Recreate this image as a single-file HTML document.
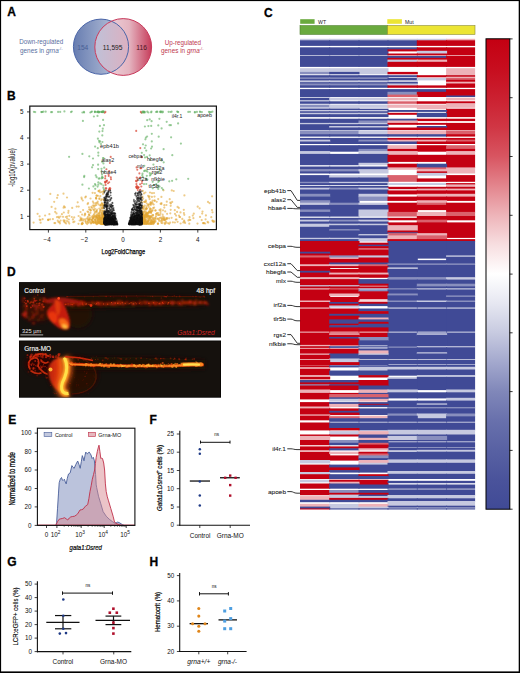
<!DOCTYPE html>
<html><head><meta charset="utf-8"><title>Figure</title>
<style>html,body{margin:0;padding:0;background:#fff;width:520px;height:673px;overflow:hidden}svg{display:block}</style>
</head><body>
<svg width="520" height="673" viewBox="0 0 520 673" font-family='"Liberation Sans", sans-serif'><defs>
<linearGradient id="gL" gradientUnits="userSpaceOnUse" x1="73" x2="129" y1="0" y2="0"><stop offset="0" stop-color="#667cb0"/><stop offset="1" stop-color="#ccd3e4"/></linearGradient>
<linearGradient id="gR" gradientUnits="userSpaceOnUse" x1="95" x2="152" y1="0" y2="0"><stop offset="0" stop-color="#f4e4ea"/><stop offset="0.6" stop-color="#e4b4c0"/><stop offset="1" stop-color="#c63a58"/></linearGradient><linearGradient id="gO" gradientUnits="userSpaceOnUse" x1="95" x2="129" y1="0" y2="0"><stop offset="0" stop-color="#bfc1d8"/><stop offset="1" stop-color="#dcb0c0"/></linearGradient>
<linearGradient id="gCB" x1="0" x2="0" y1="0" y2="1"><stop offset="0.0000" stop-color="#c40012"/><stop offset="0.0625" stop-color="#c70d1e"/><stop offset="0.1250" stop-color="#cb2030"/><stop offset="0.1875" stop-color="#d03644"/><stop offset="0.2500" stop-color="#d85561"/><stop offset="0.3125" stop-color="#e3858d"/><stop offset="0.3750" stop-color="#eeb4b9"/><stop offset="0.4375" stop-color="#f7dee0"/><stop offset="0.5000" stop-color="#ffffff"/><stop offset="0.5625" stop-color="#e6e7f1"/><stop offset="0.6250" stop-color="#c7cae0"/><stop offset="0.6875" stop-color="#a3a8cd"/><stop offset="0.7500" stop-color="#8087b9"/><stop offset="0.8125" stop-color="#6870ac"/><stop offset="0.8750" stop-color="#5861a3"/><stop offset="0.9375" stop-color="#4a539b"/><stop offset="1.0000" stop-color="#404a96"/></linearGradient>
<linearGradient id="gGl" gradientUnits="userSpaceOnUse" x1="48" x2="63" y1="0" y2="0"><stop offset="0" stop-color="#b82208"/><stop offset="0.6" stop-color="#d8320a"/><stop offset="1" stop-color="#f06a14"/></linearGradient>
<clipPath id="cL"><circle cx="101" cy="46.7" r="27.6"/></clipPath>
<filter id="bl1" filterUnits="userSpaceOnUse" x="0" y="250" width="260" height="170"><feGaussianBlur stdDeviation="1.2"/></filter>
<filter id="bl2" filterUnits="userSpaceOnUse" x="0" y="250" width="260" height="170"><feGaussianBlur stdDeviation="2.5"/></filter>
<filter id="bl05" filterUnits="userSpaceOnUse" x="0" y="250" width="260" height="170"><feGaussianBlur stdDeviation="0.6"/></filter>
<clipPath id="cF1"><rect x="19.5" y="282.5" width="201" height="54.5"/></clipPath>
<clipPath id="cF2"><rect x="19.5" y="341" width="201" height="56.5"/></clipPath>
</defs>
<rect x="0" y="0" width="520" height="673" fill="#fff"/>
<text x="7.2" y="15.9" font-size="12" fill="#000" font-weight="bold" stroke="#000" stroke-width="0.3">A</text>
<text x="7.0" y="100" font-size="12" fill="#000" font-weight="bold" stroke="#000" stroke-width="0.3">B</text>
<text x="263.9" y="16.6" font-size="12" fill="#000" font-weight="bold" stroke="#000" stroke-width="0.3">C</text>
<text x="7.0" y="276.2" font-size="12" fill="#000" font-weight="bold" stroke="#000" stroke-width="0.3">D</text>
<text x="8.2" y="423.8" font-size="12" fill="#000" font-weight="bold" stroke="#000" stroke-width="0.3">E</text>
<text x="149.6" y="423.8" font-size="12" fill="#000" font-weight="bold" stroke="#000" stroke-width="0.3">F</text>
<text x="7.3" y="565.9" font-size="12" fill="#000" font-weight="bold" stroke="#000" stroke-width="0.3">G</text>
<text x="149.6" y="566.0" font-size="12" fill="#000" font-weight="bold" stroke="#000" stroke-width="0.3">H</text>
<circle cx="101" cy="46.7" r="27.6" fill="url(#gL)"/>
<circle cx="123.2" cy="47" r="28.4" fill="url(#gR)"/>
<g clip-path="url(#cL)"><circle cx="123.2" cy="47" r="28.4" fill="url(#gO)"/></g>
<circle cx="101" cy="46.7" r="27.6" fill="none" stroke="#4a65a8" stroke-width="1"/>
<circle cx="123.2" cy="47" r="28.4" fill="none" stroke="#c8385a" stroke-width="1"/>
<text x="82.8" y="49.5" font-size="6.6" fill="#4a5f96" text-anchor="middle" >154</text>
<text x="112.6" y="49.5" font-size="6.6" fill="#222" text-anchor="middle" >11,595</text>
<text x="141.6" y="49.5" font-size="6.6" fill="#4a1420" text-anchor="middle" >116</text>
<text x="19.2" y="44.2" font-size="6.4" fill="#5a6fa0" textLength="44.1" lengthAdjust="spacingAndGlyphs" >Down-regulated</text>
<text x="20" y="52.9" font-size="6.4" fill="#5a6fa0" font-family='"Liberation Sans", sans-serif'>genes in <tspan font-style="italic">grna</tspan><tspan font-size="4" dy="-2.6">-/-</tspan></text>
<text x="164.8" y="44.8" font-size="6.4" fill="#c0394f" textLength="36.3" lengthAdjust="spacingAndGlyphs" >Up-regulated</text>
<text x="161" y="52.9" font-size="6.4" fill="#c0394f" font-family='"Liberation Sans", sans-serif'>genes in <tspan font-style="italic">grna</tspan><tspan font-size="4" dy="-2.6">-/-</tspan></text>
<g>
<rect x="300" y="38.8" width="175.1" height="470.7" fill="#fff"/>
<rect x="300" y="38.8" width="30.20" height="2.10" fill="#c6c9e0"/>
<rect x="329.2" y="38.8" width="30.30" height="2.10" fill="#c6c9e0"/>
<rect x="358.5" y="38.8" width="30.00" height="2.10" fill="#c6c9e0"/>
<rect x="387.5" y="38.8" width="30.30" height="2.10" fill="#c6c9e0"/>
<rect x="416.8" y="38.8" width="30.30" height="2.10" fill="#c6c9e0"/>
<rect x="446.1" y="38.8" width="29.00" height="2.10" fill="#edb2b8"/>
<rect x="300" y="40.3" width="30.20" height="5.60" fill="#404a96"/>
<rect x="329.2" y="40.3" width="30.30" height="5.60" fill="#404a96"/>
<rect x="358.5" y="40.3" width="30.00" height="5.60" fill="#404a96"/>
<rect x="387.5" y="40.3" width="30.30" height="5.60" fill="#404a96"/>
<rect x="416.8" y="40.3" width="30.30" height="5.60" fill="#c40012"/>
<rect x="446.1" y="40.3" width="29.00" height="5.60" fill="#c40012"/>
<rect x="300" y="47.3" width="30.20" height="8.10" fill="#404a96"/>
<rect x="329.2" y="47.3" width="30.30" height="8.10" fill="#404a96"/>
<rect x="358.5" y="47.3" width="30.00" height="8.10" fill="#404a96"/>
<rect x="387.5" y="47.3" width="30.30" height="2.60" fill="#404a96"/>
<rect x="416.8" y="47.3" width="30.30" height="4.10" fill="#c40012"/>
<rect x="446.1" y="47.3" width="29.00" height="8.10" fill="#c40012"/>
<rect x="387.5" y="49.3" width="30.30" height="2.10" fill="#c40012"/>
<rect x="416.8" y="50.8" width="30.30" height="3.30" fill="#c6c9e0"/>
<rect x="387.5" y="53.5" width="30.30" height="1.90" fill="#c40012"/>
<rect x="416.8" y="53.5" width="30.30" height="1.90" fill="#c40012"/>
<rect x="300" y="56.0" width="30.20" height="10.90" fill="#404a96"/>
<rect x="329.2" y="56.0" width="30.30" height="10.90" fill="#404a96"/>
<rect x="358.5" y="56.0" width="30.00" height="10.90" fill="#404a96"/>
<rect x="387.5" y="56.0" width="30.30" height="2.40" fill="#404a96"/>
<rect x="416.8" y="56.0" width="30.30" height="2.40" fill="#404a96"/>
<rect x="446.1" y="56.0" width="29.00" height="10.90" fill="#c40012"/>
<rect x="387.5" y="57.8" width="30.30" height="2.40" fill="#c40012"/>
<rect x="416.8" y="57.8" width="30.30" height="2.40" fill="#c40012"/>
<rect x="387.5" y="59.6" width="30.30" height="2.80" fill="#c6c9e0"/>
<rect x="416.8" y="59.6" width="30.30" height="2.80" fill="#edb2b8"/>
<rect x="387.5" y="61.8" width="30.30" height="5.10" fill="#c40012"/>
<rect x="416.8" y="61.8" width="30.30" height="5.10" fill="#c40012"/>
<rect x="300" y="68.2" width="30.20" height="4.30" fill="#c6c9e0"/>
<rect x="329.2" y="68.2" width="30.30" height="4.30" fill="#c6c9e0"/>
<rect x="358.5" y="68.2" width="30.00" height="6.10" fill="#c6c9e0"/>
<rect x="446.1" y="68.2" width="29.00" height="7.60" fill="#edb2b8"/>
<rect x="300" y="71.9" width="30.20" height="2.40" fill="#898fbe"/>
<rect x="329.2" y="71.9" width="30.30" height="2.40" fill="#404a96"/>
<rect x="387.5" y="71.9" width="30.30" height="2.40" fill="#c40012"/>
<rect x="300" y="75.2" width="30.20" height="2.80" fill="#404a96"/>
<rect x="329.2" y="75.2" width="30.30" height="2.80" fill="#404a96"/>
<rect x="358.5" y="75.2" width="30.00" height="2.80" fill="#404a96"/>
<rect x="387.5" y="75.2" width="30.30" height="2.10" fill="#404a96"/>
<rect x="416.8" y="75.2" width="30.30" height="2.10" fill="#c40012"/>
<rect x="446.1" y="75.2" width="29.00" height="2.10" fill="#c40012"/>
<rect x="446.1" y="76.7" width="29.00" height="1.90" fill="#edb2b8"/>
<rect x="300" y="77.4" width="30.20" height="2.10" fill="#898fbe"/>
<rect x="329.2" y="77.4" width="30.30" height="2.10" fill="#898fbe"/>
<rect x="358.5" y="77.4" width="30.00" height="2.10" fill="#898fbe"/>
<rect x="387.5" y="78.0" width="30.30" height="2.40" fill="#404a96"/>
<rect x="416.8" y="78.0" width="30.30" height="2.40" fill="#c6c9e0"/>
<rect x="446.1" y="78.0" width="29.00" height="2.40" fill="#da616c"/>
<rect x="300" y="78.9" width="30.20" height="2.10" fill="#404a96"/>
<rect x="329.2" y="78.9" width="30.30" height="2.10" fill="#404a96"/>
<rect x="358.5" y="78.9" width="30.00" height="2.10" fill="#404a96"/>
<rect x="446.1" y="79.8" width="29.00" height="2.50" fill="#c40012"/>
<rect x="300" y="80.4" width="30.20" height="2.40" fill="#c6c9e0"/>
<rect x="329.2" y="80.4" width="30.30" height="2.40" fill="#c6c9e0"/>
<rect x="358.5" y="80.4" width="30.00" height="2.40" fill="#c6c9e0"/>
<rect x="387.5" y="81.7" width="30.30" height="2.40" fill="#404a96"/>
<rect x="446.1" y="81.7" width="29.00" height="2.40" fill="#edb2b8"/>
<rect x="300" y="82.2" width="30.20" height="1.90" fill="#404a96"/>
<rect x="329.2" y="82.2" width="30.30" height="1.90" fill="#404a96"/>
<rect x="358.5" y="82.2" width="30.00" height="1.90" fill="#404a96"/>
<rect x="300" y="83.5" width="30.20" height="2.50" fill="#898fbe"/>
<rect x="329.2" y="83.5" width="30.30" height="2.50" fill="#898fbe"/>
<rect x="358.5" y="83.5" width="30.00" height="2.50" fill="#898fbe"/>
<rect x="387.5" y="83.5" width="30.30" height="2.50" fill="#c6c9e0"/>
<rect x="446.1" y="83.5" width="29.00" height="4.30" fill="#c40012"/>
<rect x="300" y="85.4" width="30.20" height="2.40" fill="#404a96"/>
<rect x="329.2" y="85.4" width="30.30" height="2.40" fill="#404a96"/>
<rect x="358.5" y="85.4" width="30.00" height="2.40" fill="#404a96"/>
<rect x="387.5" y="85.4" width="30.30" height="2.40" fill="#c40012"/>
<rect x="416.8" y="85.4" width="30.30" height="2.40" fill="#c40012"/>
<rect x="300" y="89.1" width="30.20" height="7.90" fill="#404a96"/>
<rect x="329.2" y="89.1" width="30.30" height="7.90" fill="#404a96"/>
<rect x="358.5" y="89.1" width="30.00" height="7.90" fill="#404a96"/>
<rect x="387.5" y="89.1" width="30.30" height="3.30" fill="#404a96"/>
<rect x="416.8" y="89.1" width="30.30" height="3.30" fill="#404a96"/>
<rect x="446.1" y="89.1" width="29.00" height="7.00" fill="#c40012"/>
<rect x="387.5" y="91.8" width="30.30" height="3.40" fill="#898fbe"/>
<rect x="416.8" y="91.8" width="30.30" height="5.20" fill="#c40012"/>
<rect x="387.5" y="94.6" width="30.30" height="2.40" fill="#da616c"/>
<rect x="446.1" y="95.5" width="29.00" height="1.50" fill="#404a96"/>
<rect x="300" y="97.7" width="30.20" height="2.70" fill="#404a96"/>
<rect x="329.2" y="97.7" width="30.30" height="2.70" fill="#c6c9e0"/>
<rect x="358.5" y="97.7" width="30.00" height="2.70" fill="#c6c9e0"/>
<rect x="387.5" y="97.7" width="30.30" height="2.70" fill="#edb2b8"/>
<rect x="446.1" y="97.7" width="29.00" height="2.70" fill="#edb2b8"/>
<rect x="300" y="101.3" width="30.20" height="2.50" fill="#404a96"/>
<rect x="329.2" y="101.3" width="30.30" height="2.50" fill="#404a96"/>
<rect x="358.5" y="101.3" width="30.00" height="2.50" fill="#404a96"/>
<rect x="387.5" y="101.3" width="30.30" height="2.50" fill="#da616c"/>
<rect x="416.8" y="101.3" width="30.30" height="2.50" fill="#c40012"/>
<rect x="446.1" y="101.3" width="29.00" height="2.50" fill="#c40012"/>
<rect x="446.1" y="103.2" width="29.00" height="4.60" fill="#edb2b8"/>
<rect x="300" y="104.6" width="30.20" height="3.20" fill="#898fbe"/>
<rect x="329.2" y="104.6" width="30.30" height="4.70" fill="#c6c9e0"/>
<rect x="358.5" y="104.6" width="30.00" height="3.20" fill="#c6c9e0"/>
<rect x="387.5" y="104.6" width="30.30" height="3.20" fill="#edb2b8"/>
<rect x="416.8" y="104.6" width="30.30" height="4.70" fill="#edb2b8"/>
<rect x="300" y="107.2" width="30.20" height="2.10" fill="#c6c9e0"/>
<rect x="300" y="108.7" width="30.20" height="1.90" fill="#404a96"/>
<rect x="329.2" y="108.7" width="30.30" height="1.90" fill="#404a96"/>
<rect x="358.5" y="108.7" width="30.00" height="1.90" fill="#404a96"/>
<rect x="446.1" y="108.7" width="29.00" height="8.40" fill="#c40012"/>
<rect x="300" y="110.0" width="30.20" height="1.90" fill="#c6c9e0"/>
<rect x="329.2" y="110.0" width="30.30" height="1.90" fill="#c6c9e0"/>
<rect x="358.5" y="110.0" width="30.00" height="1.90" fill="#c6c9e0"/>
<rect x="387.5" y="110.0" width="30.30" height="1.90" fill="#404a96"/>
<rect x="416.8" y="110.0" width="30.30" height="1.90" fill="#404a96"/>
<rect x="300" y="111.3" width="30.20" height="2.10" fill="#404a96"/>
<rect x="329.2" y="111.3" width="30.30" height="2.10" fill="#404a96"/>
<rect x="358.5" y="111.3" width="30.00" height="2.10" fill="#404a96"/>
<rect x="300" y="112.8" width="30.20" height="2.00" fill="#c6c9e0"/>
<rect x="329.2" y="112.8" width="30.30" height="2.00" fill="#c6c9e0"/>
<rect x="358.5" y="112.8" width="30.00" height="2.00" fill="#c6c9e0"/>
<rect x="387.5" y="112.8" width="30.30" height="2.00" fill="#c40012"/>
<rect x="416.8" y="112.8" width="30.30" height="4.30" fill="#404a96"/>
<rect x="300" y="114.2" width="30.20" height="2.90" fill="#404a96"/>
<rect x="329.2" y="114.2" width="30.30" height="2.90" fill="#404a96"/>
<rect x="358.5" y="114.2" width="30.00" height="2.90" fill="#404a96"/>
<rect x="300" y="118.7" width="30.20" height="4.80" fill="#404a96"/>
<rect x="329.2" y="118.7" width="30.30" height="4.80" fill="#404a96"/>
<rect x="358.5" y="118.7" width="30.00" height="2.40" fill="#404a96"/>
<rect x="387.5" y="118.7" width="30.30" height="2.40" fill="#404a96"/>
<rect x="416.8" y="118.7" width="30.30" height="2.40" fill="#c40012"/>
<rect x="446.1" y="118.7" width="29.00" height="2.40" fill="#c40012"/>
<rect x="358.5" y="120.5" width="30.00" height="3.00" fill="#898fbe"/>
<rect x="387.5" y="120.5" width="30.30" height="3.00" fill="#edb2b8"/>
<rect x="300" y="122.9" width="30.20" height="1.90" fill="#c6c9e0"/>
<rect x="329.2" y="122.9" width="30.30" height="1.90" fill="#c6c9e0"/>
<rect x="358.5" y="122.9" width="30.00" height="1.90" fill="#c6c9e0"/>
<rect x="387.5" y="122.9" width="30.30" height="1.90" fill="#c40012"/>
<rect x="416.8" y="122.9" width="30.30" height="1.90" fill="#c40012"/>
<rect x="446.1" y="122.9" width="29.00" height="7.10" fill="#c40012"/>
<rect x="300" y="124.2" width="30.20" height="5.80" fill="#404a96"/>
<rect x="329.2" y="124.2" width="30.30" height="2.40" fill="#404a96"/>
<rect x="358.5" y="124.2" width="30.00" height="2.40" fill="#404a96"/>
<rect x="329.2" y="126.0" width="30.30" height="2.10" fill="#c6c9e0"/>
<rect x="358.5" y="126.0" width="30.00" height="2.10" fill="#c6c9e0"/>
<rect x="416.8" y="126.0" width="30.30" height="2.10" fill="#404a96"/>
<rect x="329.2" y="127.5" width="30.30" height="2.50" fill="#404a96"/>
<rect x="358.5" y="127.5" width="30.00" height="2.50" fill="#404a96"/>
<rect x="387.5" y="127.5" width="30.30" height="2.50" fill="#c40012"/>
<rect x="416.8" y="127.5" width="30.30" height="2.50" fill="#c40012"/>
<rect x="300" y="130.4" width="30.20" height="4.40" fill="#898fbe"/>
<rect x="329.2" y="130.4" width="30.30" height="4.40" fill="#898fbe"/>
<rect x="358.5" y="130.4" width="30.00" height="4.40" fill="#c6c9e0"/>
<rect x="387.5" y="130.4" width="30.30" height="4.40" fill="#edb2b8"/>
<rect x="416.8" y="130.4" width="30.30" height="4.40" fill="#edb2b8"/>
<rect x="446.1" y="130.4" width="29.00" height="4.40" fill="#da616c"/>
<rect x="300" y="134.2" width="30.20" height="2.40" fill="#404a96"/>
<rect x="329.2" y="134.2" width="30.30" height="2.40" fill="#404a96"/>
<rect x="358.5" y="134.2" width="30.00" height="2.40" fill="#404a96"/>
<rect x="387.5" y="134.2" width="30.30" height="2.40" fill="#404a96"/>
<rect x="416.8" y="134.2" width="30.30" height="2.40" fill="#404a96"/>
<rect x="446.1" y="134.2" width="29.00" height="2.40" fill="#c40012"/>
<rect x="300" y="137.9" width="30.20" height="2.40" fill="#404a96"/>
<rect x="329.2" y="137.9" width="30.30" height="6.10" fill="#404a96"/>
<rect x="358.5" y="137.9" width="30.00" height="2.40" fill="#404a96"/>
<rect x="387.5" y="137.9" width="30.30" height="2.40" fill="#c40012"/>
<rect x="416.8" y="137.9" width="30.30" height="2.40" fill="#c40012"/>
<rect x="446.1" y="137.9" width="29.00" height="2.40" fill="#c40012"/>
<rect x="300" y="139.7" width="30.20" height="2.40" fill="#c6c9e0"/>
<rect x="358.5" y="139.7" width="30.00" height="2.40" fill="#898fbe"/>
<rect x="387.5" y="139.7" width="30.30" height="2.40" fill="#edb2b8"/>
<rect x="416.8" y="139.7" width="30.30" height="2.40" fill="#edb2b8"/>
<rect x="446.1" y="139.7" width="29.00" height="2.40" fill="#da616c"/>
<rect x="300" y="141.5" width="30.20" height="2.50" fill="#404a96"/>
<rect x="358.5" y="141.5" width="30.00" height="2.50" fill="#404a96"/>
<rect x="387.5" y="141.5" width="30.30" height="2.50" fill="#404a96"/>
<rect x="416.8" y="141.5" width="30.30" height="2.50" fill="#c40012"/>
<rect x="446.1" y="141.5" width="29.00" height="2.50" fill="#c40012"/>
<rect x="300" y="145.2" width="30.20" height="6.50" fill="#404a96"/>
<rect x="329.2" y="145.2" width="30.30" height="6.50" fill="#404a96"/>
<rect x="358.5" y="145.2" width="30.00" height="4.30" fill="#404a96"/>
<rect x="387.5" y="145.2" width="30.30" height="4.30" fill="#edb2b8"/>
<rect x="416.8" y="145.2" width="30.30" height="6.50" fill="#c40012"/>
<rect x="446.1" y="145.2" width="29.00" height="4.30" fill="#da616c"/>
<rect x="358.5" y="148.9" width="30.00" height="2.80" fill="#898fbe"/>
<rect x="387.5" y="148.9" width="30.30" height="2.80" fill="#c40012"/>
<rect x="446.1" y="148.9" width="29.00" height="2.80" fill="#c40012"/>
<rect x="300" y="151.1" width="30.20" height="3.40" fill="#c6c9e0"/>
<rect x="358.5" y="151.1" width="30.00" height="3.40" fill="#c6c9e0"/>
<rect x="387.5" y="151.1" width="30.30" height="4.30" fill="#edb2b8"/>
<rect x="446.1" y="151.1" width="29.00" height="4.30" fill="#edb2b8"/>
<rect x="300" y="153.9" width="30.20" height="11.30" fill="#404a96"/>
<rect x="329.2" y="153.9" width="30.30" height="11.30" fill="#404a96"/>
<rect x="358.5" y="153.9" width="30.00" height="9.50" fill="#404a96"/>
<rect x="387.5" y="154.8" width="30.30" height="7.10" fill="#c40012"/>
<rect x="416.8" y="154.8" width="30.30" height="7.10" fill="#c40012"/>
<rect x="446.1" y="154.8" width="29.00" height="13.20" fill="#c40012"/>
<rect x="358.5" y="162.8" width="30.00" height="2.40" fill="#c6c9e0"/>
<rect x="387.5" y="163.7" width="30.30" height="4.30" fill="#c40012"/>
<rect x="416.8" y="163.7" width="30.30" height="4.30" fill="#404a96"/>
<rect x="300" y="166.5" width="30.20" height="3.30" fill="#404a96"/>
<rect x="329.2" y="166.5" width="30.30" height="3.30" fill="#404a96"/>
<rect x="358.5" y="166.5" width="30.00" height="3.30" fill="#404a96"/>
<rect x="387.5" y="167.4" width="30.30" height="2.40" fill="#edb2b8"/>
<rect x="416.8" y="167.4" width="30.30" height="2.40" fill="#da616c"/>
<rect x="446.1" y="167.4" width="29.00" height="6.10" fill="#edb2b8"/>
<rect x="300" y="169.2" width="30.20" height="2.80" fill="#898fbe"/>
<rect x="329.2" y="169.2" width="30.30" height="2.80" fill="#898fbe"/>
<rect x="358.5" y="169.2" width="30.00" height="4.30" fill="#c6c9e0"/>
<rect x="416.8" y="169.2" width="30.30" height="2.80" fill="#edb2b8"/>
<rect x="300" y="171.4" width="30.20" height="2.10" fill="#404a96"/>
<rect x="329.2" y="171.4" width="30.30" height="2.10" fill="#404a96"/>
<rect x="416.8" y="171.4" width="30.30" height="2.10" fill="#c40012"/>
<rect x="416.8" y="172.9" width="30.30" height="2.80" fill="#c6c9e0"/>
<rect x="300" y="175.1" width="30.20" height="7.30" fill="#404a96"/>
<rect x="329.2" y="175.1" width="30.30" height="3.00" fill="#c6c9e0"/>
<rect x="358.5" y="175.1" width="30.00" height="3.00" fill="#c6c9e0"/>
<rect x="387.5" y="175.1" width="30.30" height="6.70" fill="#da616c"/>
<rect x="446.1" y="175.1" width="29.00" height="6.70" fill="#c40012"/>
<rect x="329.2" y="177.5" width="30.30" height="4.90" fill="#404a96"/>
<rect x="358.5" y="177.5" width="30.00" height="4.90" fill="#404a96"/>
<rect x="416.8" y="178.4" width="30.30" height="3.40" fill="#c40012"/>
<rect x="300" y="181.8" width="30.20" height="1.90" fill="#898fbe"/>
<rect x="329.2" y="181.8" width="30.30" height="1.90" fill="#c6c9e0"/>
<rect x="358.5" y="181.8" width="30.00" height="1.90" fill="#c6c9e0"/>
<rect x="300" y="183.1" width="30.20" height="1.90" fill="#404a96"/>
<rect x="329.2" y="183.1" width="30.30" height="1.90" fill="#404a96"/>
<rect x="358.5" y="183.1" width="30.00" height="1.90" fill="#404a96"/>
<rect x="387.5" y="183.1" width="30.30" height="1.90" fill="#c6c9e0"/>
<rect x="416.8" y="183.1" width="30.30" height="1.90" fill="#c6c9e0"/>
<rect x="446.1" y="183.1" width="29.00" height="1.90" fill="#c40012"/>
<rect x="446.1" y="184.4" width="29.00" height="3.00" fill="#edb2b8"/>
<rect x="300" y="185.8" width="30.20" height="2.50" fill="#404a96"/>
<rect x="329.2" y="185.8" width="30.30" height="2.50" fill="#404a96"/>
<rect x="358.5" y="185.8" width="30.00" height="2.50" fill="#404a96"/>
<rect x="387.5" y="186.8" width="30.30" height="2.40" fill="#c40012"/>
<rect x="416.8" y="186.8" width="30.30" height="2.40" fill="#c40012"/>
<rect x="446.1" y="186.8" width="29.00" height="2.40" fill="#c40012"/>
<rect x="300" y="187.7" width="30.20" height="2.40" fill="#c6c9e0"/>
<rect x="329.2" y="187.7" width="30.30" height="2.40" fill="#898fbe"/>
<rect x="358.5" y="187.7" width="30.00" height="2.40" fill="#c6c9e0"/>
<rect x="416.8" y="188.6" width="30.30" height="2.40" fill="#edb2b8"/>
<rect x="446.1" y="188.6" width="29.00" height="2.40" fill="#edb2b8"/>
<rect x="300" y="189.5" width="30.20" height="4.90" fill="#404a96"/>
<rect x="329.2" y="189.5" width="30.30" height="13.80" fill="#404a96"/>
<rect x="358.5" y="189.5" width="30.00" height="4.90" fill="#404a96"/>
<rect x="387.5" y="190.4" width="30.30" height="4.00" fill="#c40012"/>
<rect x="416.8" y="190.4" width="30.30" height="4.00" fill="#c40012"/>
<rect x="446.1" y="190.4" width="29.00" height="4.00" fill="#c40012"/>
<rect x="300" y="193.8" width="30.20" height="3.40" fill="#898fbe"/>
<rect x="358.5" y="193.8" width="30.00" height="3.40" fill="#c6c9e0"/>
<rect x="416.8" y="193.8" width="30.30" height="3.40" fill="#edb2b8"/>
<rect x="446.1" y="193.8" width="29.00" height="3.40" fill="#edb2b8"/>
<rect x="300" y="196.6" width="30.20" height="4.30" fill="#404a96"/>
<rect x="358.5" y="196.6" width="30.00" height="4.30" fill="#898fbe"/>
<rect x="387.5" y="196.6" width="30.30" height="4.30" fill="#c40012"/>
<rect x="416.8" y="196.6" width="30.30" height="4.30" fill="#c40012"/>
<rect x="446.1" y="196.6" width="29.00" height="4.30" fill="#c40012"/>
<rect x="300" y="200.3" width="30.20" height="3.00" fill="#898fbe"/>
<rect x="416.8" y="200.3" width="30.30" height="3.00" fill="#edb2b8"/>
<rect x="300" y="202.7" width="30.20" height="2.80" fill="#c6c9e0"/>
<rect x="329.2" y="202.7" width="30.30" height="2.80" fill="#898fbe"/>
<rect x="358.5" y="202.7" width="30.00" height="2.80" fill="#c6c9e0"/>
<rect x="387.5" y="202.7" width="30.30" height="9.80" fill="#c40012"/>
<rect x="416.8" y="202.7" width="30.30" height="2.80" fill="#da616c"/>
<rect x="446.1" y="202.7" width="29.00" height="9.80" fill="#c40012"/>
<rect x="300" y="204.9" width="30.20" height="5.20" fill="#404a96"/>
<rect x="329.2" y="204.9" width="30.30" height="11.70" fill="#404a96"/>
<rect x="358.5" y="204.9" width="30.00" height="5.20" fill="#404a96"/>
<rect x="416.8" y="204.9" width="30.30" height="5.20" fill="#c40012"/>
<rect x="300" y="209.5" width="30.20" height="3.00" fill="#898fbe"/>
<rect x="358.5" y="209.5" width="30.00" height="7.10" fill="#c6c9e0"/>
<rect x="300" y="211.9" width="30.20" height="4.70" fill="#404a96"/>
<rect x="387.5" y="211.9" width="30.30" height="4.70" fill="#da616c"/>
<rect x="416.8" y="211.9" width="30.30" height="4.70" fill="#edb2b8"/>
<rect x="446.1" y="211.9" width="29.00" height="4.70" fill="#da616c"/>
<rect x="416.8" y="216.0" width="30.30" height="4.30" fill="#c40012"/>
<rect x="446.1" y="216.0" width="29.00" height="4.30" fill="#c40012"/>
<rect x="300" y="217.8" width="30.20" height="2.50" fill="#404a96"/>
<rect x="329.2" y="217.8" width="30.30" height="2.50" fill="#404a96"/>
<rect x="358.5" y="217.8" width="30.00" height="2.50" fill="#404a96"/>
<rect x="387.5" y="217.8" width="30.30" height="2.50" fill="#c40012"/>
<rect x="300" y="219.7" width="30.20" height="2.40" fill="#c6c9e0"/>
<rect x="329.2" y="219.7" width="30.30" height="2.40" fill="#898fbe"/>
<rect x="358.5" y="219.7" width="30.00" height="2.40" fill="#c6c9e0"/>
<rect x="416.8" y="219.7" width="30.30" height="3.30" fill="#da616c"/>
<rect x="300" y="221.5" width="30.20" height="2.80" fill="#404a96"/>
<rect x="329.2" y="221.5" width="30.30" height="2.80" fill="#404a96"/>
<rect x="358.5" y="221.5" width="30.00" height="2.80" fill="#404a96"/>
<rect x="387.5" y="222.4" width="30.30" height="3.40" fill="#c40012"/>
<rect x="416.8" y="222.4" width="30.30" height="11.40" fill="#c40012"/>
<rect x="446.1" y="222.4" width="29.00" height="15.50" fill="#c40012"/>
<rect x="300" y="223.7" width="30.20" height="3.70" fill="#c6c9e0"/>
<rect x="329.2" y="223.7" width="30.30" height="2.10" fill="#c6c9e0"/>
<rect x="358.5" y="223.7" width="30.00" height="2.10" fill="#c6c9e0"/>
<rect x="329.2" y="225.2" width="30.30" height="4.60" fill="#404a96"/>
<rect x="358.5" y="225.2" width="30.00" height="9.50" fill="#404a96"/>
<rect x="387.5" y="225.2" width="30.30" height="5.90" fill="#edb2b8"/>
<rect x="300" y="226.8" width="30.20" height="11.60" fill="#404a96"/>
<rect x="329.2" y="229.2" width="30.30" height="1.90" fill="#898fbe"/>
<rect x="329.2" y="230.5" width="30.30" height="7.90" fill="#404a96"/>
<rect x="387.5" y="230.5" width="30.30" height="2.40" fill="#c40012"/>
<rect x="387.5" y="232.3" width="30.30" height="1.50" fill="#404a96"/>
<rect x="387.5" y="233.2" width="30.30" height="2.80" fill="#da616c"/>
<rect x="416.8" y="233.2" width="30.30" height="2.80" fill="#edb2b8"/>
<rect x="358.5" y="234.1" width="30.00" height="1.90" fill="#c6c9e0"/>
<rect x="358.5" y="235.4" width="30.00" height="3.00" fill="#404a96"/>
<rect x="387.5" y="235.4" width="30.30" height="4.30" fill="#edb2b8"/>
<rect x="416.8" y="235.4" width="30.30" height="4.30" fill="#da616c"/>
<rect x="300" y="237.8" width="30.20" height="1.90" fill="#c6c9e0"/>
<rect x="329.2" y="237.8" width="30.30" height="1.90" fill="#c6c9e0"/>
<rect x="300" y="239.1" width="30.20" height="2.50" fill="#404a96"/>
<rect x="329.2" y="239.1" width="30.30" height="2.50" fill="#404a96"/>
<rect x="358.5" y="239.1" width="30.00" height="2.50" fill="#c6c9e0"/>
<rect x="387.5" y="239.1" width="30.30" height="2.50" fill="#c40012"/>
<rect x="416.8" y="239.1" width="30.30" height="2.50" fill="#c40012"/>
<rect x="446.1" y="239.1" width="29.00" height="2.50" fill="#c40012"/>
<rect x="300" y="241.0" width="30.20" height="11.30" fill="#c40012"/>
<rect x="329.2" y="241.0" width="30.30" height="15.00" fill="#c40012"/>
<rect x="387.5" y="241.0" width="30.30" height="23.00" fill="#404a96"/>
<rect x="416.8" y="241.0" width="30.30" height="17.60" fill="#404a96"/>
<rect x="446.1" y="241.0" width="29.00" height="15.00" fill="#404a96"/>
<rect x="358.5" y="242.7" width="30.00" height="2.60" fill="#c40012"/>
<rect x="358.5" y="244.7" width="30.00" height="2.00" fill="#404a96"/>
<rect x="358.5" y="246.1" width="30.00" height="2.50" fill="#c40012"/>
<rect x="358.5" y="248.0" width="30.00" height="2.40" fill="#da616c"/>
<rect x="358.5" y="249.8" width="30.00" height="6.20" fill="#c40012"/>
<rect x="300" y="251.7" width="30.20" height="2.40" fill="#404a96"/>
<rect x="300" y="253.5" width="30.20" height="2.50" fill="#c40012"/>
<rect x="300" y="255.4" width="30.20" height="2.70" fill="#da616c"/>
<rect x="329.2" y="255.4" width="30.30" height="2.70" fill="#898fbe"/>
<rect x="358.5" y="255.4" width="30.00" height="2.70" fill="#c6c9e0"/>
<rect x="446.1" y="255.4" width="29.00" height="2.00" fill="#c6c9e0"/>
<rect x="446.1" y="256.8" width="29.00" height="7.20" fill="#404a96"/>
<rect x="300" y="257.5" width="30.20" height="7.40" fill="#c40012"/>
<rect x="329.2" y="257.5" width="30.30" height="1.10" fill="#edb2b8"/>
<rect x="358.5" y="257.5" width="30.00" height="5.60" fill="#c40012"/>
<rect x="329.2" y="258.8" width="30.30" height="4.30" fill="#c40012"/>
<rect x="416.8" y="260.1" width="30.30" height="3.90" fill="#404a96"/>
<rect x="329.2" y="262.5" width="30.30" height="2.40" fill="#404a96"/>
<rect x="358.5" y="262.5" width="30.00" height="2.40" fill="#404a96"/>
<rect x="387.5" y="263.4" width="30.30" height="2.10" fill="#898fbe"/>
<rect x="416.8" y="263.4" width="30.30" height="2.10" fill="#898fbe"/>
<rect x="446.1" y="263.4" width="29.00" height="2.10" fill="#898fbe"/>
<rect x="300" y="264.3" width="30.20" height="2.40" fill="#edb2b8"/>
<rect x="329.2" y="264.3" width="30.30" height="2.40" fill="#edb2b8"/>
<rect x="358.5" y="264.3" width="30.00" height="2.40" fill="#da616c"/>
<rect x="387.5" y="264.9" width="30.30" height="3.10" fill="#404a96"/>
<rect x="416.8" y="264.9" width="30.30" height="12.90" fill="#404a96"/>
<rect x="446.1" y="264.9" width="29.00" height="12.90" fill="#404a96"/>
<rect x="300" y="266.1" width="30.20" height="5.30" fill="#c40012"/>
<rect x="329.2" y="266.1" width="30.30" height="1.90" fill="#c40012"/>
<rect x="358.5" y="266.1" width="30.00" height="7.10" fill="#c40012"/>
<rect x="387.5" y="267.4" width="30.30" height="2.10" fill="#c6c9e0"/>
<rect x="329.2" y="268.9" width="30.30" height="4.30" fill="#c40012"/>
<rect x="387.5" y="268.9" width="30.30" height="8.90" fill="#404a96"/>
<rect x="300" y="270.8" width="30.20" height="2.40" fill="#404a96"/>
<rect x="300" y="272.6" width="30.20" height="5.20" fill="#c40012"/>
<rect x="329.2" y="272.6" width="30.30" height="2.50" fill="#edb2b8"/>
<rect x="358.5" y="272.6" width="30.00" height="2.50" fill="#edb2b8"/>
<rect x="329.2" y="274.5" width="30.30" height="3.30" fill="#c40012"/>
<rect x="358.5" y="274.5" width="30.00" height="3.30" fill="#c40012"/>
<rect x="300" y="277.2" width="30.20" height="2.50" fill="#edb2b8"/>
<rect x="329.2" y="277.2" width="30.30" height="2.50" fill="#edb2b8"/>
<rect x="387.5" y="277.2" width="30.30" height="3.00" fill="#898fbe"/>
<rect x="416.8" y="277.2" width="30.30" height="3.00" fill="#898fbe"/>
<rect x="446.1" y="277.2" width="29.00" height="3.00" fill="#c6c9e0"/>
<rect x="300" y="279.1" width="30.20" height="6.70" fill="#c40012"/>
<rect x="329.2" y="279.1" width="30.30" height="6.70" fill="#c40012"/>
<rect x="358.5" y="279.1" width="30.00" height="5.20" fill="#404a96"/>
<rect x="387.5" y="279.6" width="30.30" height="9.30" fill="#404a96"/>
<rect x="416.8" y="279.6" width="30.30" height="4.70" fill="#404a96"/>
<rect x="446.1" y="279.6" width="29.00" height="4.70" fill="#404a96"/>
<rect x="358.5" y="283.7" width="30.00" height="2.10" fill="#c40012"/>
<rect x="416.8" y="283.7" width="30.30" height="3.30" fill="#898fbe"/>
<rect x="446.1" y="283.7" width="29.00" height="3.30" fill="#898fbe"/>
<rect x="300" y="285.2" width="30.20" height="1.80" fill="#c6c9e0"/>
<rect x="329.2" y="285.2" width="30.30" height="1.80" fill="#c6c9e0"/>
<rect x="300" y="286.4" width="30.20" height="2.50" fill="#c40012"/>
<rect x="329.2" y="286.4" width="30.30" height="2.50" fill="#c40012"/>
<rect x="358.5" y="286.4" width="30.00" height="2.50" fill="#c40012"/>
<rect x="416.8" y="286.4" width="30.30" height="2.50" fill="#404a96"/>
<rect x="446.1" y="286.4" width="29.00" height="2.50" fill="#404a96"/>
<rect x="300" y="288.3" width="30.20" height="1.80" fill="#edb2b8"/>
<rect x="329.2" y="288.3" width="30.30" height="1.80" fill="#da616c"/>
<rect x="358.5" y="288.3" width="30.00" height="1.80" fill="#c6c9e0"/>
<rect x="387.5" y="288.3" width="30.30" height="1.80" fill="#898fbe"/>
<rect x="416.8" y="288.3" width="30.30" height="1.80" fill="#c6c9e0"/>
<rect x="446.1" y="288.3" width="29.00" height="1.80" fill="#c6c9e0"/>
<rect x="300" y="289.5" width="30.20" height="11.60" fill="#c40012"/>
<rect x="329.2" y="289.5" width="30.30" height="4.60" fill="#c40012"/>
<rect x="358.5" y="289.5" width="30.00" height="2.40" fill="#898fbe"/>
<rect x="387.5" y="289.5" width="30.30" height="4.60" fill="#404a96"/>
<rect x="416.8" y="289.5" width="30.30" height="11.60" fill="#404a96"/>
<rect x="446.1" y="289.5" width="29.00" height="6.50" fill="#404a96"/>
<rect x="358.5" y="291.3" width="30.00" height="8.00" fill="#c40012"/>
<rect x="329.2" y="293.5" width="30.30" height="2.50" fill="#edb2b8"/>
<rect x="387.5" y="293.5" width="30.30" height="2.50" fill="#898fbe"/>
<rect x="387.5" y="295.4" width="30.30" height="5.70" fill="#404a96"/>
<rect x="446.1" y="295.4" width="29.00" height="2.10" fill="#898fbe"/>
<rect x="329.2" y="296.9" width="30.30" height="5.70" fill="#c40012"/>
<rect x="446.1" y="296.9" width="29.00" height="4.20" fill="#404a96"/>
<rect x="300" y="300.5" width="30.20" height="2.10" fill="#edb2b8"/>
<rect x="358.5" y="300.5" width="30.00" height="2.10" fill="#edb2b8"/>
<rect x="387.5" y="300.5" width="30.30" height="2.10" fill="#898fbe"/>
<rect x="416.8" y="300.5" width="30.30" height="2.10" fill="#c6c9e0"/>
<rect x="446.1" y="300.5" width="29.00" height="2.10" fill="#898fbe"/>
<rect x="300" y="302.0" width="30.20" height="5.60" fill="#c40012"/>
<rect x="329.2" y="302.0" width="30.30" height="2.30" fill="#404a96"/>
<rect x="358.5" y="302.0" width="30.00" height="2.30" fill="#c40012"/>
<rect x="387.5" y="302.0" width="30.30" height="5.60" fill="#404a96"/>
<rect x="416.8" y="302.0" width="30.30" height="5.60" fill="#404a96"/>
<rect x="446.1" y="302.0" width="29.00" height="5.60" fill="#404a96"/>
<rect x="329.2" y="303.7" width="30.30" height="2.40" fill="#c40012"/>
<rect x="358.5" y="303.7" width="30.00" height="2.40" fill="#404a96"/>
<rect x="329.2" y="305.5" width="30.30" height="2.10" fill="#c6c9e0"/>
<rect x="300" y="308.5" width="30.20" height="23.20" fill="#c40012"/>
<rect x="329.2" y="308.5" width="30.30" height="5.90" fill="#c40012"/>
<rect x="358.5" y="308.5" width="30.00" height="3.20" fill="#404a96"/>
<rect x="387.5" y="308.5" width="30.30" height="23.20" fill="#404a96"/>
<rect x="416.8" y="308.5" width="30.30" height="23.20" fill="#404a96"/>
<rect x="446.1" y="308.5" width="29.00" height="23.20" fill="#404a96"/>
<rect x="358.5" y="311.1" width="30.00" height="3.30" fill="#c40012"/>
<rect x="329.2" y="313.8" width="30.30" height="2.50" fill="#404a96"/>
<rect x="358.5" y="313.8" width="30.00" height="4.30" fill="#404a96"/>
<rect x="329.2" y="315.7" width="30.30" height="4.30" fill="#c40012"/>
<rect x="358.5" y="317.5" width="30.00" height="2.50" fill="#edb2b8"/>
<rect x="329.2" y="319.4" width="30.30" height="4.90" fill="#404a96"/>
<rect x="358.5" y="319.4" width="30.00" height="3.00" fill="#404a96"/>
<rect x="358.5" y="321.8" width="30.00" height="2.50" fill="#c40012"/>
<rect x="329.2" y="323.7" width="30.30" height="2.10" fill="#c40012"/>
<rect x="358.5" y="323.7" width="30.00" height="4.30" fill="#404a96"/>
<rect x="329.2" y="325.2" width="30.30" height="2.80" fill="#404a96"/>
<rect x="329.2" y="327.4" width="30.30" height="4.30" fill="#c40012"/>
<rect x="358.5" y="327.4" width="30.00" height="4.30" fill="#c40012"/>
<rect x="300" y="332.5" width="30.20" height="13.00" fill="#c40012"/>
<rect x="329.2" y="332.5" width="30.30" height="1.40" fill="#c40012"/>
<rect x="358.5" y="332.5" width="30.00" height="5.10" fill="#c40012"/>
<rect x="387.5" y="332.5" width="30.30" height="14.30" fill="#404a96"/>
<rect x="416.8" y="332.5" width="30.30" height="1.40" fill="#404a96"/>
<rect x="446.1" y="332.5" width="29.00" height="14.30" fill="#404a96"/>
<rect x="329.2" y="333.3" width="30.30" height="2.10" fill="#edb2b8"/>
<rect x="416.8" y="333.3" width="30.30" height="2.10" fill="#c6c9e0"/>
<rect x="329.2" y="334.8" width="30.30" height="2.80" fill="#c40012"/>
<rect x="416.8" y="334.8" width="30.30" height="12.00" fill="#404a96"/>
<rect x="329.2" y="337.0" width="30.30" height="2.10" fill="#404a96"/>
<rect x="358.5" y="337.0" width="30.00" height="3.90" fill="#898fbe"/>
<rect x="329.2" y="338.5" width="30.30" height="7.00" fill="#c40012"/>
<rect x="358.5" y="340.3" width="30.00" height="5.20" fill="#404a96"/>
<rect x="300" y="344.9" width="30.20" height="1.90" fill="#edb2b8"/>
<rect x="300" y="346.2" width="30.20" height="1.70" fill="#c40012"/>
<rect x="329.2" y="346.2" width="30.30" height="1.70" fill="#404a96"/>
<rect x="358.5" y="346.2" width="30.00" height="1.70" fill="#404a96"/>
<rect x="416.8" y="346.2" width="30.30" height="1.70" fill="#c6c9e0"/>
<rect x="446.1" y="346.2" width="29.00" height="1.70" fill="#c6c9e0"/>
<rect x="358.5" y="347.3" width="30.00" height="1.90" fill="#c6c9e0"/>
<rect x="387.5" y="347.3" width="30.30" height="11.80" fill="#404a96"/>
<rect x="416.8" y="347.3" width="30.30" height="5.60" fill="#404a96"/>
<rect x="446.1" y="347.3" width="29.00" height="11.80" fill="#404a96"/>
<rect x="300" y="348.6" width="30.20" height="5.50" fill="#c40012"/>
<rect x="329.2" y="348.6" width="30.30" height="5.50" fill="#c40012"/>
<rect x="358.5" y="348.6" width="30.00" height="2.40" fill="#404a96"/>
<rect x="358.5" y="350.4" width="30.00" height="3.70" fill="#edb2b8"/>
<rect x="416.8" y="352.3" width="30.30" height="1.80" fill="#c6c9e0"/>
<rect x="300" y="353.5" width="30.20" height="1.90" fill="#edb2b8"/>
<rect x="329.2" y="353.5" width="30.30" height="5.60" fill="#404a96"/>
<rect x="358.5" y="353.5" width="30.00" height="1.90" fill="#c6c9e0"/>
<rect x="416.8" y="353.5" width="30.30" height="5.60" fill="#404a96"/>
<rect x="300" y="354.8" width="30.20" height="4.30" fill="#c40012"/>
<rect x="358.5" y="354.8" width="30.00" height="4.30" fill="#404a96"/>
<rect x="329.2" y="358.5" width="30.30" height="4.20" fill="#c6c9e0"/>
<rect x="300" y="359.7" width="30.20" height="5.40" fill="#c40012"/>
<rect x="358.5" y="359.7" width="30.00" height="5.40" fill="#404a96"/>
<rect x="387.5" y="359.7" width="30.30" height="4.30" fill="#404a96"/>
<rect x="416.8" y="359.7" width="30.30" height="4.30" fill="#404a96"/>
<rect x="446.1" y="359.7" width="29.00" height="4.30" fill="#404a96"/>
<rect x="329.2" y="362.1" width="30.30" height="3.00" fill="#c40012"/>
<rect x="387.5" y="364.5" width="30.30" height="2.90" fill="#404a96"/>
<rect x="416.8" y="364.5" width="30.30" height="2.90" fill="#404a96"/>
<rect x="446.1" y="364.5" width="29.00" height="2.90" fill="#404a96"/>
<rect x="300" y="365.3" width="30.20" height="2.10" fill="#c40012"/>
<rect x="329.2" y="365.3" width="30.30" height="2.10" fill="#404a96"/>
<rect x="358.5" y="365.3" width="30.00" height="2.10" fill="#404a96"/>
<rect x="358.5" y="366.8" width="30.00" height="4.30" fill="#c6c9e0"/>
<rect x="387.5" y="366.8" width="30.30" height="3.30" fill="#c6c9e0"/>
<rect x="416.8" y="366.8" width="30.30" height="3.30" fill="#c6c9e0"/>
<rect x="446.1" y="366.8" width="29.00" height="3.30" fill="#c6c9e0"/>
<rect x="300" y="368.6" width="30.20" height="7.10" fill="#c40012"/>
<rect x="387.5" y="369.5" width="30.30" height="6.20" fill="#404a96"/>
<rect x="416.8" y="369.5" width="30.30" height="6.20" fill="#404a96"/>
<rect x="446.1" y="369.5" width="29.00" height="6.20" fill="#404a96"/>
<rect x="329.2" y="370.5" width="30.30" height="5.20" fill="#404a96"/>
<rect x="358.5" y="370.5" width="30.00" height="5.20" fill="#404a96"/>
<rect x="300" y="375.1" width="30.20" height="2.40" fill="#edb2b8"/>
<rect x="358.5" y="375.1" width="30.00" height="2.40" fill="#c40012"/>
<rect x="416.8" y="375.1" width="30.30" height="2.40" fill="#c6c9e0"/>
<rect x="446.1" y="375.1" width="29.00" height="2.40" fill="#c6c9e0"/>
<rect x="300" y="376.9" width="30.20" height="2.50" fill="#c40012"/>
<rect x="387.5" y="376.9" width="30.30" height="2.50" fill="#c6c9e0"/>
<rect x="416.8" y="376.9" width="30.30" height="13.20" fill="#404a96"/>
<rect x="446.1" y="376.9" width="29.00" height="13.20" fill="#404a96"/>
<rect x="387.5" y="378.8" width="30.30" height="11.30" fill="#404a96"/>
<rect x="300" y="380.0" width="30.20" height="3.00" fill="#404a96"/>
<rect x="329.2" y="380.0" width="30.30" height="3.00" fill="#404a96"/>
<rect x="358.5" y="380.0" width="30.00" height="6.10" fill="#c40012"/>
<rect x="300" y="382.4" width="30.20" height="2.50" fill="#c40012"/>
<rect x="329.2" y="382.4" width="30.30" height="2.50" fill="#c40012"/>
<rect x="300" y="384.3" width="30.20" height="1.80" fill="#898fbe"/>
<rect x="329.2" y="384.3" width="30.30" height="1.80" fill="#404a96"/>
<rect x="300" y="385.5" width="30.20" height="4.60" fill="#c40012"/>
<rect x="329.2" y="385.5" width="30.30" height="4.60" fill="#c40012"/>
<rect x="358.5" y="385.5" width="30.00" height="4.60" fill="#404a96"/>
<rect x="300" y="389.5" width="30.20" height="4.00" fill="#edb2b8"/>
<rect x="358.5" y="389.5" width="30.00" height="4.00" fill="#edb2b8"/>
<rect x="387.5" y="389.5" width="30.30" height="3.40" fill="#c6c9e0"/>
<rect x="446.1" y="389.5" width="29.00" height="3.40" fill="#c6c9e0"/>
<rect x="387.5" y="392.3" width="30.30" height="6.10" fill="#404a96"/>
<rect x="416.8" y="392.3" width="30.30" height="6.10" fill="#404a96"/>
<rect x="446.1" y="392.3" width="29.00" height="6.10" fill="#404a96"/>
<rect x="300" y="392.9" width="30.20" height="6.50" fill="#c40012"/>
<rect x="329.2" y="392.9" width="30.30" height="1.80" fill="#c40012"/>
<rect x="358.5" y="392.9" width="30.00" height="1.80" fill="#404a96"/>
<rect x="329.2" y="394.1" width="30.30" height="3.80" fill="#da616c"/>
<rect x="358.5" y="394.1" width="30.00" height="3.80" fill="#da616c"/>
<rect x="329.2" y="397.3" width="30.30" height="2.10" fill="#404a96"/>
<rect x="358.5" y="397.3" width="30.00" height="2.10" fill="#404a96"/>
<rect x="446.1" y="397.8" width="29.00" height="3.40" fill="#c6c9e0"/>
<rect x="329.2" y="398.8" width="30.30" height="2.80" fill="#c6c9e0"/>
<rect x="358.5" y="398.8" width="30.00" height="2.80" fill="#edb2b8"/>
<rect x="387.5" y="400.6" width="30.30" height="7.10" fill="#404a96"/>
<rect x="416.8" y="400.6" width="30.30" height="3.40" fill="#404a96"/>
<rect x="446.1" y="400.6" width="29.00" height="7.10" fill="#404a96"/>
<rect x="300" y="402.1" width="30.20" height="5.00" fill="#c40012"/>
<rect x="329.2" y="402.1" width="30.30" height="2.40" fill="#404a96"/>
<rect x="358.5" y="402.1" width="30.00" height="2.40" fill="#404a96"/>
<rect x="416.8" y="403.4" width="30.30" height="1.90" fill="#c6c9e0"/>
<rect x="329.2" y="403.9" width="30.30" height="3.20" fill="#edb2b8"/>
<rect x="358.5" y="403.9" width="30.00" height="1.40" fill="#c40012"/>
<rect x="358.5" y="404.7" width="30.00" height="2.40" fill="#404a96"/>
<rect x="416.8" y="404.7" width="30.30" height="3.00" fill="#404a96"/>
<rect x="300" y="406.5" width="30.20" height="2.50" fill="#edb2b8"/>
<rect x="387.5" y="407.1" width="30.30" height="1.90" fill="#898fbe"/>
<rect x="416.8" y="407.1" width="30.30" height="1.90" fill="#898fbe"/>
<rect x="446.1" y="407.1" width="29.00" height="1.90" fill="#898fbe"/>
<rect x="300" y="408.4" width="30.20" height="6.60" fill="#c40012"/>
<rect x="329.2" y="408.4" width="30.30" height="3.00" fill="#c40012"/>
<rect x="358.5" y="408.4" width="30.00" height="6.60" fill="#404a96"/>
<rect x="387.5" y="408.4" width="30.30" height="5.70" fill="#404a96"/>
<rect x="416.8" y="408.4" width="30.30" height="5.70" fill="#404a96"/>
<rect x="446.1" y="408.4" width="29.00" height="5.70" fill="#404a96"/>
<rect x="329.2" y="410.8" width="30.30" height="2.40" fill="#404a96"/>
<rect x="329.2" y="412.6" width="30.30" height="2.40" fill="#c40012"/>
<rect x="387.5" y="413.5" width="30.30" height="2.80" fill="#898fbe"/>
<rect x="416.8" y="413.5" width="30.30" height="5.30" fill="#c6c9e0"/>
<rect x="446.1" y="413.5" width="29.00" height="3.40" fill="#898fbe"/>
<rect x="300" y="414.4" width="30.20" height="1.90" fill="#edb2b8"/>
<rect x="300" y="415.7" width="30.20" height="4.60" fill="#c40012"/>
<rect x="329.2" y="415.7" width="30.30" height="1.20" fill="#edb2b8"/>
<rect x="358.5" y="415.7" width="30.00" height="3.10" fill="#edb2b8"/>
<rect x="387.5" y="415.7" width="30.30" height="6.10" fill="#404a96"/>
<rect x="329.2" y="416.3" width="30.30" height="2.50" fill="#da616c"/>
<rect x="446.1" y="416.3" width="29.00" height="5.50" fill="#404a96"/>
<rect x="329.2" y="418.2" width="30.30" height="3.60" fill="#404a96"/>
<rect x="358.5" y="418.2" width="30.00" height="3.60" fill="#404a96"/>
<rect x="416.8" y="418.2" width="30.30" height="3.60" fill="#404a96"/>
<rect x="300" y="422.5" width="30.20" height="7.90" fill="#c40012"/>
<rect x="329.2" y="422.5" width="30.30" height="6.10" fill="#404a96"/>
<rect x="358.5" y="422.5" width="30.00" height="7.90" fill="#404a96"/>
<rect x="387.5" y="422.5" width="30.30" height="7.90" fill="#404a96"/>
<rect x="416.8" y="422.5" width="30.30" height="7.90" fill="#404a96"/>
<rect x="446.1" y="422.5" width="29.00" height="7.90" fill="#404a96"/>
<rect x="329.2" y="428.0" width="30.30" height="2.40" fill="#c40012"/>
<rect x="387.5" y="429.8" width="30.30" height="5.30" fill="#c6c9e0"/>
<rect x="416.8" y="429.8" width="30.30" height="5.30" fill="#c6c9e0"/>
<rect x="446.1" y="429.8" width="29.00" height="5.30" fill="#c6c9e0"/>
<rect x="329.2" y="431.1" width="30.30" height="4.00" fill="#c6c9e0"/>
<rect x="358.5" y="431.1" width="30.00" height="4.00" fill="#edb2b8"/>
<rect x="300" y="434.5" width="30.20" height="2.00" fill="#c40012"/>
<rect x="329.2" y="434.5" width="30.30" height="2.00" fill="#c40012"/>
<rect x="358.5" y="434.5" width="30.00" height="3.90" fill="#404a96"/>
<rect x="387.5" y="434.5" width="30.30" height="2.00" fill="#404a96"/>
<rect x="416.8" y="434.5" width="30.30" height="2.00" fill="#404a96"/>
<rect x="446.1" y="434.5" width="29.00" height="7.00" fill="#404a96"/>
<rect x="300" y="435.9" width="30.20" height="4.70" fill="#edb2b8"/>
<rect x="387.5" y="435.9" width="30.30" height="4.70" fill="#c6c9e0"/>
<rect x="416.8" y="435.9" width="30.30" height="4.70" fill="#898fbe"/>
<rect x="358.5" y="437.8" width="30.00" height="2.80" fill="#edb2b8"/>
<rect x="300" y="440.0" width="30.20" height="5.20" fill="#c40012"/>
<rect x="329.2" y="440.0" width="30.30" height="3.40" fill="#898fbe"/>
<rect x="358.5" y="440.0" width="30.00" height="3.40" fill="#404a96"/>
<rect x="387.5" y="440.0" width="30.30" height="1.50" fill="#404a96"/>
<rect x="416.8" y="440.0" width="30.30" height="1.50" fill="#404a96"/>
<rect x="387.5" y="442.2" width="30.30" height="4.80" fill="#404a96"/>
<rect x="416.8" y="442.2" width="30.30" height="4.80" fill="#404a96"/>
<rect x="446.1" y="442.2" width="29.00" height="4.80" fill="#404a96"/>
<rect x="329.2" y="442.8" width="30.30" height="2.40" fill="#404a96"/>
<rect x="358.5" y="442.8" width="30.00" height="2.40" fill="#da616c"/>
<rect x="358.5" y="444.6" width="30.00" height="4.30" fill="#c40012"/>
<rect x="300" y="446.4" width="30.20" height="4.00" fill="#c40012"/>
<rect x="329.2" y="446.4" width="30.30" height="2.50" fill="#c40012"/>
<rect x="387.5" y="447.4" width="30.30" height="3.00" fill="#404a96"/>
<rect x="416.8" y="447.4" width="30.30" height="3.00" fill="#404a96"/>
<rect x="446.1" y="447.4" width="29.00" height="3.00" fill="#404a96"/>
<rect x="329.2" y="448.3" width="30.30" height="2.10" fill="#404a96"/>
<rect x="358.5" y="448.3" width="30.00" height="2.10" fill="#edb2b8"/>
<rect x="416.8" y="449.8" width="30.30" height="2.50" fill="#c6c9e0"/>
<rect x="446.1" y="449.8" width="29.00" height="2.50" fill="#c6c9e0"/>
<rect x="300" y="451.7" width="30.20" height="8.90" fill="#c40012"/>
<rect x="329.2" y="451.7" width="30.30" height="2.40" fill="#edb2b8"/>
<rect x="358.5" y="451.7" width="30.00" height="2.40" fill="#c40012"/>
<rect x="387.5" y="451.7" width="30.30" height="8.30" fill="#404a96"/>
<rect x="416.8" y="451.7" width="30.30" height="8.30" fill="#404a96"/>
<rect x="446.1" y="451.7" width="29.00" height="8.30" fill="#404a96"/>
<rect x="358.5" y="453.5" width="30.00" height="2.50" fill="#da616c"/>
<rect x="329.2" y="455.4" width="30.30" height="5.20" fill="#c40012"/>
<rect x="358.5" y="455.4" width="30.00" height="3.30" fill="#898fbe"/>
<rect x="358.5" y="458.1" width="30.00" height="2.50" fill="#404a96"/>
<rect x="387.5" y="459.4" width="30.30" height="4.00" fill="#c6c9e0"/>
<rect x="416.8" y="459.4" width="30.30" height="4.00" fill="#c6c9e0"/>
<rect x="446.1" y="459.4" width="29.00" height="4.00" fill="#c6c9e0"/>
<rect x="300" y="460.0" width="30.20" height="3.40" fill="#c6c9e0"/>
<rect x="358.5" y="460.0" width="30.00" height="3.40" fill="#edb2b8"/>
<rect x="358.5" y="462.8" width="30.00" height="2.40" fill="#c6c9e0"/>
<rect x="387.5" y="462.8" width="30.30" height="8.80" fill="#404a96"/>
<rect x="416.8" y="462.8" width="30.30" height="8.80" fill="#404a96"/>
<rect x="446.1" y="462.8" width="29.00" height="8.80" fill="#404a96"/>
<rect x="300" y="464.6" width="30.20" height="8.00" fill="#c40012"/>
<rect x="329.2" y="464.6" width="30.30" height="3.40" fill="#404a96"/>
<rect x="358.5" y="464.6" width="30.00" height="8.00" fill="#404a96"/>
<rect x="329.2" y="467.4" width="30.30" height="3.30" fill="#c40012"/>
<rect x="329.2" y="470.1" width="30.30" height="2.50" fill="#404a96"/>
<rect x="387.5" y="471.0" width="30.30" height="3.40" fill="#c6c9e0"/>
<rect x="416.8" y="471.0" width="30.30" height="3.40" fill="#c6c9e0"/>
<rect x="446.1" y="471.0" width="29.00" height="3.40" fill="#c6c9e0"/>
<rect x="300" y="472.0" width="30.20" height="2.80" fill="#c6c9e0"/>
<rect x="387.5" y="473.8" width="30.30" height="5.20" fill="#404a96"/>
<rect x="416.8" y="473.8" width="30.30" height="5.20" fill="#404a96"/>
<rect x="446.1" y="473.8" width="29.00" height="5.20" fill="#404a96"/>
<rect x="300" y="474.2" width="30.20" height="4.80" fill="#c40012"/>
<rect x="329.2" y="474.2" width="30.30" height="4.80" fill="#404a96"/>
<rect x="358.5" y="474.2" width="30.00" height="2.40" fill="#c40012"/>
<rect x="358.5" y="476.0" width="30.00" height="3.00" fill="#404a96"/>
<rect x="300" y="479.7" width="30.20" height="2.60" fill="#c6c9e0"/>
<rect x="329.2" y="479.7" width="30.30" height="2.60" fill="#c40012"/>
<rect x="358.5" y="479.7" width="30.00" height="5.40" fill="#c40012"/>
<rect x="387.5" y="480.8" width="30.30" height="2.40" fill="#404a96"/>
<rect x="416.8" y="480.8" width="30.30" height="2.40" fill="#404a96"/>
<rect x="446.1" y="480.8" width="29.00" height="2.40" fill="#404a96"/>
<rect x="329.2" y="481.7" width="30.30" height="2.40" fill="#edb2b8"/>
<rect x="300" y="483.5" width="30.20" height="5.20" fill="#c40012"/>
<rect x="329.2" y="483.5" width="30.30" height="5.20" fill="#404a96"/>
<rect x="358.5" y="484.5" width="30.00" height="4.20" fill="#404a96"/>
<rect x="387.5" y="484.5" width="30.30" height="4.20" fill="#404a96"/>
<rect x="416.8" y="484.5" width="30.30" height="4.20" fill="#404a96"/>
<rect x="446.1" y="484.5" width="29.00" height="4.20" fill="#404a96"/>
<rect x="387.5" y="489.4" width="30.30" height="6.20" fill="#404a96"/>
<rect x="416.8" y="489.4" width="30.30" height="6.20" fill="#404a96"/>
<rect x="446.1" y="489.4" width="29.00" height="6.20" fill="#404a96"/>
<rect x="300" y="490.0" width="30.20" height="5.20" fill="#c40012"/>
<rect x="329.2" y="490.0" width="30.30" height="3.40" fill="#898fbe"/>
<rect x="358.5" y="490.0" width="30.00" height="3.40" fill="#404a96"/>
<rect x="329.2" y="492.8" width="30.30" height="2.40" fill="#c40012"/>
<rect x="358.5" y="492.8" width="30.00" height="2.40" fill="#c40012"/>
<rect x="329.2" y="494.6" width="30.30" height="3.90" fill="#c6c9e0"/>
<rect x="358.5" y="494.6" width="30.00" height="2.10" fill="#404a96"/>
<rect x="387.5" y="495.0" width="30.30" height="3.90" fill="#c6c9e0"/>
<rect x="416.8" y="495.0" width="30.30" height="3.90" fill="#c6c9e0"/>
<rect x="446.1" y="495.0" width="29.00" height="3.90" fill="#c6c9e0"/>
<rect x="300" y="496.1" width="30.20" height="4.30" fill="#edb2b8"/>
<rect x="358.5" y="496.1" width="30.00" height="2.40" fill="#c6c9e0"/>
<rect x="329.2" y="497.9" width="30.30" height="2.50" fill="#c40012"/>
<rect x="358.5" y="497.9" width="30.00" height="2.50" fill="#c40012"/>
<rect x="387.5" y="498.3" width="30.30" height="3.30" fill="#404a96"/>
<rect x="416.8" y="498.3" width="30.30" height="3.30" fill="#404a96"/>
<rect x="446.1" y="498.3" width="29.00" height="3.30" fill="#404a96"/>
<rect x="300" y="499.8" width="30.20" height="2.40" fill="#404a96"/>
<rect x="329.2" y="499.8" width="30.30" height="2.40" fill="#404a96"/>
<rect x="358.5" y="499.8" width="30.00" height="2.40" fill="#404a96"/>
<rect x="387.5" y="501.0" width="30.30" height="5.30" fill="#c6c9e0"/>
<rect x="416.8" y="501.0" width="30.30" height="5.30" fill="#c6c9e0"/>
<rect x="446.1" y="501.0" width="29.00" height="5.30" fill="#c6c9e0"/>
<rect x="300" y="503.8" width="30.20" height="3.40" fill="#edb2b8"/>
<rect x="329.2" y="503.8" width="30.30" height="5.20" fill="#c6c9e0"/>
<rect x="358.5" y="503.8" width="30.00" height="3.40" fill="#edb2b8"/>
<rect x="387.5" y="505.7" width="30.30" height="2.40" fill="#404a96"/>
<rect x="416.8" y="505.7" width="30.30" height="2.40" fill="#404a96"/>
<rect x="446.1" y="505.7" width="29.00" height="2.40" fill="#404a96"/>
<rect x="300" y="506.6" width="30.20" height="2.40" fill="#404a96"/>
<rect x="358.5" y="506.6" width="30.00" height="2.40" fill="#c6c9e0"/>
<rect x="387.5" y="507.5" width="30.30" height="1.50" fill="#c6c9e0"/>
<rect x="416.8" y="507.5" width="30.30" height="1.50" fill="#c6c9e0"/>
<rect x="446.1" y="507.5" width="29.00" height="1.50" fill="#c6c9e0"/>
<rect x="300" y="508.4" width="30.20" height="1.10" fill="#c40012"/>
<rect x="329.2" y="508.4" width="30.30" height="1.10" fill="#404a96"/>
<rect x="358.5" y="508.4" width="30.00" height="1.10" fill="#404a96"/>
<rect x="387.5" y="508.4" width="30.30" height="1.10" fill="#404a96"/>
<rect x="416.8" y="508.4" width="30.30" height="1.10" fill="#404a96"/>
<rect x="446.1" y="508.4" width="29.00" height="1.10" fill="#404a96"/>
</g>
<rect x="300" y="25.6" width="87.4" height="8.8" fill="#6aaa3e" stroke="#4f7f2e" stroke-width="0.6"/>
<rect x="387.4" y="25.6" width="87.6" height="8.8" fill="#ece534" stroke="#8a8a30" stroke-width="0.6"/>
<rect x="300.2" y="19.2" width="14.4" height="4.6" fill="#6aaa3e"/>
<rect x="387.3" y="19.2" width="14.6" height="4.6" fill="#ece534"/>
<text x="318" y="24.4" font-size="5.2" fill="#222" >WT</text>
<text x="405" y="24.4" font-size="5.2" fill="#222" >Mut</text>
<rect x="486" y="38.8" width="23.8" height="470.4" fill="url(#gCB)" stroke="#000" stroke-width="1"/>
<line x1="509.8" x2="512.6" y1="38.9" y2="38.9" stroke="#000" stroke-width="0.8"/>
<line x1="509.8" x2="512.6" y1="97.7" y2="97.7" stroke="#000" stroke-width="0.8"/>
<line x1="509.8" x2="512.6" y1="156.5" y2="156.5" stroke="#000" stroke-width="0.8"/>
<line x1="509.8" x2="512.6" y1="215.3" y2="215.3" stroke="#000" stroke-width="0.8"/>
<line x1="509.8" x2="512.6" y1="274.1" y2="274.1" stroke="#000" stroke-width="0.8"/>
<line x1="509.8" x2="512.6" y1="332.8" y2="332.8" stroke="#000" stroke-width="0.8"/>
<line x1="509.8" x2="512.6" y1="391.6" y2="391.6" stroke="#000" stroke-width="0.8"/>
<line x1="509.8" x2="512.6" y1="450.4" y2="450.4" stroke="#000" stroke-width="0.8"/>
<line x1="509.8" x2="512.6" y1="509.2" y2="509.2" stroke="#000" stroke-width="0.8"/>
<text x="264" y="192.54999999999998" font-size="5.4" fill="#111" textLength="22" lengthAdjust="spacingAndGlyphs" stroke="#333" stroke-width="0.06">epb41b</text>
<polyline points="287.3,190.6 291,190.6 297.3,200.4 300.2,200.4" fill="none" stroke="#111" stroke-width="0.85"/>
<text x="270.9" y="201.64999999999998" font-size="5.4" fill="#111" textLength="15.1" lengthAdjust="spacingAndGlyphs" stroke="#333" stroke-width="0.06">alas2</text>
<polyline points="287.3,199.7 291,199.7 297.3,207.4 300.2,207.4" fill="none" stroke="#111" stroke-width="0.85"/>
<text x="268" y="210.35" font-size="5.4" fill="#111" textLength="18" lengthAdjust="spacingAndGlyphs" stroke="#333" stroke-width="0.06">hbae4</text>
<path d="M287.3,208.4 L291,208.4 C293,208.4 294,208.8 297,208.8 L300.2,208.8" fill="none" stroke="#111" stroke-width="0.85"/>
<text x="268" y="248.25" font-size="5.4" fill="#111" textLength="18" lengthAdjust="spacingAndGlyphs" stroke="#333" stroke-width="0.06">cebpa</text>
<path d="M287.3,246.3 L291,246.3 C293,246.3 294,247.3 297,247.3 L300.2,247.3" fill="none" stroke="#111" stroke-width="0.85"/>
<text x="263.8" y="265.65" font-size="5.4" fill="#111" textLength="22.2" lengthAdjust="spacingAndGlyphs" stroke="#333" stroke-width="0.06">cxcl12a</text>
<polyline points="287.3,263.7 291,263.7 297.3,270.6 300.2,270.6" fill="none" stroke="#111" stroke-width="0.85"/>
<text x="266" y="273.95" font-size="5.4" fill="#111" textLength="20" lengthAdjust="spacingAndGlyphs" stroke="#333" stroke-width="0.06">hbegfa</text>
<polyline points="287.3,272 291,272 297.3,277.3 300.2,277.3" fill="none" stroke="#111" stroke-width="0.85"/>
<text x="276" y="283.15" font-size="5.4" fill="#111" textLength="10" lengthAdjust="spacingAndGlyphs" stroke="#333" stroke-width="0.06">mlx</text>
<path d="M287.3,281.2 L291,281.2 C293,281.2 294,282.3 297,282.3 L300.2,282.3" fill="none" stroke="#111" stroke-width="0.85"/>
<text x="273.6" y="307.34999999999997" font-size="5.4" fill="#111" textLength="12.4" lengthAdjust="spacingAndGlyphs" stroke="#333" stroke-width="0.06">irf2a</text>
<path d="M287.3,305.4 L291,305.4 C293,305.4 294,306.6 297,306.6 L300.2,306.6" fill="none" stroke="#111" stroke-width="0.85"/>
<text x="273.6" y="321.05" font-size="5.4" fill="#111" textLength="12.4" lengthAdjust="spacingAndGlyphs" stroke="#333" stroke-width="0.06">tlr5b</text>
<path d="M287.3,319.1 L291,319.1 C293,319.1 294,320.8 297,320.8 L300.2,320.8" fill="none" stroke="#111" stroke-width="0.85"/>
<text x="273.6" y="336.55" font-size="5.4" fill="#111" textLength="12.4" lengthAdjust="spacingAndGlyphs" stroke="#333" stroke-width="0.06">rgs2</text>
<polyline points="287.3,334.6 291,334.6 297.3,343.3 300.2,343.3" fill="none" stroke="#111" stroke-width="0.85"/>
<text x="269" y="345.7" font-size="5.4" fill="#111" textLength="17" lengthAdjust="spacingAndGlyphs" stroke="#333" stroke-width="0.06">nfkbie</text>
<path d="M287.3,343.75 L291,343.75 C293,343.75 294,344.7 297,344.7 L300.2,344.7" fill="none" stroke="#111" stroke-width="0.85"/>
<text x="272.2" y="450.75" font-size="5.4" fill="#111" textLength="13.8" lengthAdjust="spacingAndGlyphs" stroke="#333" stroke-width="0.06">il4r.1</text>
<path d="M287.3,448.8 L291,448.8 C293,448.8 294,449.6 297,449.6 L300.2,449.6" fill="none" stroke="#111" stroke-width="0.85"/>
<text x="268" y="493.55" font-size="5.4" fill="#111" textLength="18" lengthAdjust="spacingAndGlyphs" stroke="#333" stroke-width="0.06">apoeb</text>
<path d="M287.3,491.6 L291,491.6 C293,491.6 294,493.2 297,493.2 L300.2,493.2" fill="none" stroke="#111" stroke-width="0.85"/>
<rect x="29.8" y="106.1" width="186.6" height="123.5" fill="none" stroke="#111" stroke-width="1.2"/>
<line x1="27" x2="29.8" y1="216.3" y2="216.3" stroke="#111" stroke-width="0.8"/>
<text x="23.6" y="218.5" font-size="6.3" fill="#111" text-anchor="end" >1</text>
<line x1="27" x2="29.8" y1="190.2" y2="190.2" stroke="#111" stroke-width="0.8"/>
<text x="23.6" y="192.4" font-size="6.3" fill="#111" text-anchor="end" >2</text>
<line x1="27" x2="29.8" y1="164.1" y2="164.1" stroke="#111" stroke-width="0.8"/>
<text x="23.6" y="166.3" font-size="6.3" fill="#111" text-anchor="end" >3</text>
<line x1="27" x2="29.8" y1="138.0" y2="138.0" stroke="#111" stroke-width="0.8"/>
<text x="23.6" y="140.2" font-size="6.3" fill="#111" text-anchor="end" >4</text>
<line x1="27" x2="29.8" y1="111.9" y2="111.9" stroke="#111" stroke-width="0.8"/>
<text x="23.6" y="114.10000000000001" font-size="6.3" fill="#111" text-anchor="end" >5</text>
<line x1="48.4" x2="48.4" y1="229.6" y2="232.6" stroke="#111" stroke-width="0.8"/>
<text x="47.099999999999994" y="241.6" font-size="6.3" fill="#111" text-anchor="middle" >−4</text>
<line x1="85.8" x2="85.8" y1="229.6" y2="232.6" stroke="#111" stroke-width="0.8"/>
<text x="84.45" y="241.6" font-size="6.3" fill="#111" text-anchor="middle" >−2</text>
<line x1="123.1" x2="123.1" y1="229.6" y2="232.6" stroke="#111" stroke-width="0.8"/>
<text x="123.1" y="241.6" font-size="6.3" fill="#111" text-anchor="middle" >0</text>
<line x1="160.4" x2="160.4" y1="229.6" y2="232.6" stroke="#111" stroke-width="0.8"/>
<text x="160.45" y="241.6" font-size="6.3" fill="#111" text-anchor="middle" >2</text>
<line x1="197.8" x2="197.8" y1="229.6" y2="232.6" stroke="#111" stroke-width="0.8"/>
<text x="197.8" y="241.6" font-size="6.3" fill="#111" text-anchor="middle" >4</text>
<text x="101.6" y="254.2" font-size="7.6" fill="#000" textLength="43.6" lengthAdjust="spacingAndGlyphs" stroke="#000" stroke-width="0.25">Log2FoldChange</text>
<text transform="translate(14.8,167.5) rotate(-90)" font-size="8.2" text-anchor="middle" fill="#222" textLength="38.7" lengthAdjust="spacingAndGlyphs">-log10(pvalue)</text>
<g fill="#e2a532" fill-opacity="0.58">
<circle cx="101.9" cy="224.1" r="1.1"/><circle cx="56.5" cy="213.4" r="1.1"/><circle cx="98.3" cy="222.6" r="1.1"/><circle cx="96.3" cy="211.1" r="1.1"/><circle cx="55.2" cy="223.1" r="1.1"/><circle cx="97.7" cy="215.0" r="1.1"/><circle cx="101.4" cy="218.0" r="1.1"/><circle cx="85.1" cy="213.7" r="1.1"/><circle cx="102.5" cy="223.9" r="1.1"/><circle cx="99.4" cy="217.1" r="1.1"/><circle cx="103.1" cy="204.4" r="1.1"/><circle cx="81.6" cy="224.1" r="1.1"/><circle cx="99.4" cy="219.9" r="1.1"/><circle cx="63.8" cy="212.5" r="1.1"/><circle cx="103.4" cy="223.8" r="1.1"/><circle cx="102.6" cy="208.5" r="1.1"/><circle cx="64.1" cy="206.4" r="1.1"/><circle cx="91.3" cy="206.9" r="1.1"/><circle cx="81.8" cy="199.0" r="1.1"/><circle cx="92.8" cy="205.6" r="1.1"/><circle cx="101.7" cy="219.5" r="1.1"/><circle cx="103.4" cy="216.6" r="1.1"/><circle cx="102.9" cy="217.4" r="1.1"/><circle cx="97.5" cy="220.1" r="1.1"/><circle cx="99.6" cy="219.4" r="1.1"/><circle cx="81.3" cy="219.7" r="1.1"/><circle cx="94.7" cy="216.7" r="1.1"/><circle cx="102.2" cy="205.8" r="1.1"/><circle cx="102.4" cy="218.0" r="1.1"/><circle cx="103.0" cy="207.6" r="1.1"/><circle cx="97.9" cy="220.4" r="1.1"/><circle cx="99.3" cy="208.6" r="1.1"/><circle cx="95.8" cy="222.7" r="1.1"/><circle cx="99.0" cy="217.5" r="1.1"/><circle cx="103.0" cy="221.4" r="1.1"/><circle cx="93.6" cy="215.4" r="1.1"/><circle cx="54.2" cy="201.8" r="1.1"/><circle cx="100.0" cy="219.1" r="1.1"/><circle cx="92.6" cy="192.8" r="1.1"/><circle cx="89.8" cy="219.5" r="1.1"/><circle cx="54.4" cy="223.1" r="1.1"/><circle cx="99.7" cy="221.7" r="1.1"/><circle cx="89.7" cy="219.3" r="1.1"/><circle cx="69.3" cy="215.8" r="1.1"/><circle cx="101.1" cy="220.9" r="1.1"/><circle cx="57.8" cy="220.7" r="1.1"/><circle cx="89.0" cy="220.1" r="1.1"/><circle cx="65.8" cy="217.0" r="1.1"/><circle cx="103.4" cy="219.6" r="1.1"/><circle cx="102.2" cy="214.6" r="1.1"/><circle cx="68.8" cy="219.5" r="1.1"/><circle cx="101.2" cy="218.2" r="1.1"/><circle cx="66.1" cy="223.4" r="1.1"/><circle cx="102.0" cy="203.9" r="1.1"/><circle cx="92.9" cy="221.7" r="1.1"/><circle cx="97.2" cy="217.6" r="1.1"/><circle cx="88.1" cy="203.1" r="1.1"/><circle cx="102.3" cy="211.1" r="1.1"/><circle cx="100.1" cy="215.5" r="1.1"/><circle cx="100.3" cy="196.2" r="1.1"/><circle cx="95.8" cy="223.0" r="1.1"/><circle cx="95.6" cy="219.0" r="1.1"/><circle cx="100.7" cy="218.3" r="1.1"/><circle cx="92.5" cy="221.6" r="1.1"/><circle cx="39.4" cy="199.2" r="1.1"/><circle cx="95.0" cy="208.9" r="1.1"/><circle cx="63.0" cy="216.8" r="1.1"/><circle cx="85.1" cy="214.4" r="1.1"/><circle cx="96.1" cy="216.9" r="1.1"/><circle cx="97.7" cy="201.5" r="1.1"/><circle cx="104.2" cy="191.4" r="1.1"/><circle cx="102.8" cy="214.0" r="1.1"/><circle cx="77.7" cy="202.3" r="1.1"/><circle cx="104.1" cy="210.8" r="1.1"/><circle cx="101.3" cy="223.4" r="1.1"/><circle cx="96.0" cy="197.9" r="1.1"/><circle cx="87.7" cy="222.0" r="1.1"/><circle cx="97.9" cy="215.7" r="1.1"/><circle cx="39.7" cy="219.7" r="1.1"/><circle cx="63.6" cy="220.4" r="1.1"/><circle cx="100.9" cy="217.0" r="1.1"/><circle cx="103.3" cy="219.4" r="1.1"/><circle cx="98.9" cy="222.1" r="1.1"/><circle cx="98.5" cy="216.1" r="1.1"/><circle cx="96.5" cy="203.1" r="1.1"/><circle cx="103.9" cy="199.1" r="1.1"/><circle cx="51.6" cy="206.9" r="1.1"/><circle cx="37.6" cy="213.8" r="1.1"/><circle cx="67.1" cy="216.5" r="1.1"/><circle cx="58.5" cy="222.1" r="1.1"/><circle cx="101.2" cy="221.4" r="1.1"/><circle cx="96.9" cy="217.2" r="1.1"/><circle cx="57.0" cy="217.2" r="1.1"/><circle cx="89.1" cy="209.5" r="1.1"/><circle cx="101.0" cy="220.0" r="1.1"/><circle cx="88.2" cy="220.0" r="1.1"/><circle cx="83.1" cy="210.1" r="1.1"/><circle cx="102.8" cy="205.8" r="1.1"/><circle cx="102.6" cy="217.8" r="1.1"/><circle cx="97.0" cy="209.7" r="1.1"/><circle cx="100.6" cy="210.2" r="1.1"/><circle cx="102.5" cy="218.4" r="1.1"/><circle cx="71.8" cy="217.0" r="1.1"/><circle cx="94.9" cy="222.7" r="1.1"/><circle cx="48.5" cy="219.8" r="1.1"/><circle cx="98.0" cy="195.8" r="1.1"/><circle cx="92.1" cy="222.5" r="1.1"/><circle cx="67.0" cy="221.1" r="1.1"/><circle cx="96.8" cy="217.2" r="1.1"/><circle cx="68.6" cy="222.1" r="1.1"/><circle cx="97.0" cy="222.2" r="1.1"/><circle cx="87.2" cy="224.1" r="1.1"/><circle cx="93.2" cy="209.3" r="1.1"/><circle cx="103.0" cy="193.9" r="1.1"/><circle cx="102.0" cy="224.1" r="1.1"/><circle cx="85.6" cy="221.8" r="1.1"/><circle cx="50.1" cy="219.3" r="1.1"/><circle cx="101.1" cy="214.1" r="1.1"/><circle cx="97.6" cy="223.1" r="1.1"/><circle cx="99.0" cy="213.7" r="1.1"/><circle cx="100.1" cy="192.3" r="1.1"/><circle cx="97.4" cy="218.2" r="1.1"/><circle cx="90.4" cy="221.3" r="1.1"/><circle cx="78.7" cy="206.6" r="1.1"/><circle cx="85.9" cy="196.5" r="1.1"/><circle cx="92.9" cy="218.4" r="1.1"/><circle cx="99.4" cy="218.2" r="1.1"/><circle cx="93.2" cy="221.5" r="1.1"/><circle cx="74.4" cy="221.6" r="1.1"/><circle cx="98.6" cy="191.2" r="1.1"/><circle cx="93.6" cy="222.3" r="1.1"/><circle cx="100.6" cy="220.9" r="1.1"/><circle cx="61.9" cy="214.2" r="1.1"/><circle cx="65.0" cy="222.6" r="1.1"/><circle cx="90.8" cy="210.2" r="1.1"/><circle cx="89.5" cy="215.5" r="1.1"/><circle cx="100.3" cy="210.2" r="1.1"/><circle cx="99.4" cy="198.4" r="1.1"/><circle cx="64.1" cy="221.7" r="1.1"/><circle cx="79.7" cy="220.5" r="1.1"/><circle cx="103.4" cy="223.2" r="1.1"/><circle cx="102.7" cy="218.9" r="1.1"/><circle cx="82.3" cy="223.1" r="1.1"/><circle cx="97.5" cy="202.8" r="1.1"/><circle cx="82.8" cy="223.4" r="1.1"/><circle cx="100.5" cy="223.7" r="1.1"/><circle cx="99.0" cy="215.9" r="1.1"/><circle cx="98.5" cy="204.4" r="1.1"/><circle cx="102.7" cy="223.6" r="1.1"/><circle cx="49.4" cy="214.2" r="1.1"/><circle cx="48.0" cy="220.1" r="1.1"/><circle cx="96.8" cy="211.2" r="1.1"/><circle cx="90.9" cy="223.4" r="1.1"/><circle cx="78.5" cy="223.8" r="1.1"/><circle cx="96.2" cy="198.7" r="1.1"/><circle cx="96.2" cy="205.0" r="1.1"/><circle cx="84.6" cy="215.4" r="1.1"/><circle cx="94.9" cy="193.1" r="1.1"/><circle cx="101.0" cy="222.9" r="1.1"/><circle cx="101.8" cy="221.6" r="1.1"/><circle cx="92.5" cy="216.0" r="1.1"/><circle cx="91.8" cy="220.1" r="1.1"/><circle cx="48.2" cy="219.6" r="1.1"/><circle cx="97.5" cy="213.4" r="1.1"/><circle cx="82.1" cy="214.6" r="1.1"/><circle cx="96.5" cy="217.5" r="1.1"/><circle cx="99.9" cy="221.7" r="1.1"/><circle cx="101.6" cy="212.5" r="1.1"/><circle cx="93.3" cy="217.4" r="1.1"/><circle cx="88.3" cy="223.0" r="1.1"/><circle cx="104.0" cy="217.8" r="1.1"/><circle cx="80.9" cy="219.2" r="1.1"/><circle cx="103.1" cy="220.5" r="1.1"/><circle cx="102.3" cy="223.8" r="1.1"/><circle cx="99.6" cy="222.8" r="1.1"/><circle cx="59.9" cy="223.4" r="1.1"/><circle cx="103.1" cy="223.4" r="1.1"/><circle cx="93.9" cy="217.1" r="1.1"/><circle cx="69.3" cy="223.6" r="1.1"/><circle cx="95.5" cy="203.3" r="1.1"/><circle cx="102.0" cy="212.6" r="1.1"/><circle cx="104.2" cy="214.8" r="1.1"/><circle cx="81.5" cy="197.7" r="1.1"/><circle cx="100.5" cy="218.8" r="1.1"/><circle cx="57.8" cy="195.2" r="1.1"/><circle cx="92.5" cy="221.4" r="1.1"/><circle cx="93.3" cy="222.8" r="1.1"/><circle cx="97.0" cy="224.1" r="1.1"/><circle cx="92.9" cy="218.3" r="1.1"/><circle cx="99.8" cy="212.3" r="1.1"/><circle cx="89.0" cy="207.3" r="1.1"/><circle cx="100.6" cy="205.3" r="1.1"/><circle cx="102.3" cy="215.7" r="1.1"/><circle cx="100.2" cy="218.2" r="1.1"/><circle cx="95.9" cy="220.9" r="1.1"/><circle cx="95.5" cy="221.4" r="1.1"/><circle cx="94.0" cy="206.9" r="1.1"/><circle cx="94.8" cy="213.1" r="1.1"/><circle cx="90.2" cy="209.3" r="1.1"/><circle cx="101.0" cy="218.5" r="1.1"/><circle cx="100.8" cy="224.0" r="1.1"/><circle cx="78.6" cy="216.0" r="1.1"/><circle cx="99.4" cy="215.3" r="1.1"/><circle cx="80.5" cy="212.0" r="1.1"/><circle cx="101.6" cy="218.4" r="1.1"/><circle cx="85.5" cy="220.9" r="1.1"/><circle cx="59.6" cy="222.0" r="1.1"/><circle cx="93.6" cy="218.4" r="1.1"/><circle cx="86.8" cy="218.6" r="1.1"/><circle cx="64.7" cy="220.7" r="1.1"/><circle cx="102.7" cy="215.6" r="1.1"/><circle cx="101.9" cy="203.2" r="1.1"/><circle cx="103.1" cy="191.6" r="1.1"/><circle cx="102.4" cy="216.7" r="1.1"/><circle cx="90.7" cy="210.6" r="1.1"/><circle cx="82.1" cy="223.6" r="1.1"/><circle cx="87.8" cy="221.5" r="1.1"/><circle cx="102.4" cy="216.5" r="1.1"/><circle cx="98.8" cy="223.0" r="1.1"/><circle cx="82.3" cy="223.5" r="1.1"/><circle cx="99.2" cy="216.1" r="1.1"/><circle cx="81.8" cy="218.7" r="1.1"/><circle cx="95.1" cy="219.9" r="1.1"/><circle cx="100.2" cy="205.6" r="1.1"/><circle cx="103.8" cy="217.0" r="1.1"/><circle cx="60.6" cy="220.5" r="1.1"/><circle cx="72.9" cy="219.4" r="1.1"/><circle cx="101.5" cy="208.5" r="1.1"/><circle cx="55.2" cy="211.9" r="1.1"/><circle cx="97.9" cy="221.1" r="1.1"/><circle cx="94.6" cy="216.0" r="1.1"/><circle cx="95.3" cy="205.6" r="1.1"/><circle cx="96.4" cy="224.1" r="1.1"/><circle cx="100.3" cy="221.4" r="1.1"/><circle cx="99.4" cy="218.8" r="1.1"/><circle cx="104.1" cy="200.4" r="1.1"/><circle cx="103.5" cy="213.3" r="1.1"/><circle cx="73.3" cy="222.2" r="1.1"/><circle cx="103.7" cy="224.0" r="1.1"/><circle cx="86.1" cy="223.1" r="1.1"/><circle cx="98.1" cy="221.8" r="1.1"/><circle cx="100.5" cy="222.8" r="1.1"/><circle cx="99.4" cy="217.0" r="1.1"/><circle cx="92.0" cy="207.8" r="1.1"/><circle cx="103.0" cy="208.0" r="1.1"/><circle cx="50.3" cy="193.9" r="1.1"/><circle cx="104.3" cy="219.1" r="1.1"/><circle cx="104.1" cy="190.6" r="1.1"/><circle cx="103.6" cy="216.9" r="1.1"/><circle cx="59.1" cy="217.8" r="1.1"/><circle cx="102.2" cy="218.2" r="1.1"/><circle cx="95.2" cy="222.3" r="1.1"/><circle cx="88.4" cy="219.9" r="1.1"/><circle cx="102.4" cy="221.1" r="1.1"/><circle cx="97.4" cy="223.3" r="1.1"/><circle cx="101.9" cy="199.3" r="1.1"/><circle cx="87.8" cy="218.5" r="1.1"/><circle cx="65.0" cy="207.3" r="1.1"/><circle cx="102.4" cy="222.8" r="1.1"/><circle cx="67.0" cy="197.5" r="1.1"/><circle cx="88.2" cy="212.0" r="1.1"/><circle cx="95.5" cy="222.0" r="1.1"/><circle cx="63.6" cy="207.7" r="1.1"/><circle cx="100.4" cy="222.1" r="1.1"/><circle cx="89.7" cy="222.2" r="1.1"/><circle cx="94.8" cy="211.7" r="1.1"/><circle cx="96.8" cy="215.7" r="1.1"/><circle cx="102.5" cy="215.2" r="1.1"/><circle cx="98.1" cy="219.1" r="1.1"/><circle cx="74.2" cy="217.4" r="1.1"/><circle cx="101.0" cy="221.5" r="1.1"/><circle cx="55.4" cy="208.7" r="1.1"/><circle cx="102.2" cy="213.5" r="1.1"/><circle cx="97.8" cy="219.4" r="1.1"/><circle cx="94.0" cy="214.4" r="1.1"/><circle cx="103.3" cy="215.9" r="1.1"/><circle cx="100.5" cy="219.7" r="1.1"/><circle cx="95.5" cy="219.5" r="1.1"/><circle cx="93.7" cy="222.5" r="1.1"/><circle cx="101.4" cy="221.2" r="1.1"/><circle cx="91.9" cy="219.4" r="1.1"/><circle cx="103.0" cy="218.4" r="1.1"/><circle cx="102.3" cy="216.0" r="1.1"/><circle cx="96.0" cy="216.2" r="1.1"/><circle cx="80.5" cy="217.7" r="1.1"/><circle cx="100.3" cy="223.1" r="1.1"/><circle cx="82.0" cy="224.1" r="1.1"/><circle cx="40.6" cy="222.7" r="1.1"/><circle cx="68.5" cy="210.9" r="1.1"/><circle cx="76.7" cy="206.6" r="1.1"/><circle cx="96.7" cy="195.7" r="1.1"/><circle cx="94.6" cy="220.0" r="1.1"/><circle cx="96.6" cy="195.7" r="1.1"/><circle cx="83.4" cy="219.3" r="1.1"/><circle cx="57.1" cy="197.8" r="1.1"/><circle cx="101.8" cy="219.1" r="1.1"/><circle cx="67.1" cy="218.5" r="1.1"/><circle cx="81.2" cy="220.4" r="1.1"/><circle cx="99.5" cy="215.6" r="1.1"/><circle cx="104.2" cy="223.6" r="1.1"/><circle cx="99.6" cy="190.4" r="1.1"/><circle cx="96.2" cy="212.1" r="1.1"/><circle cx="99.4" cy="199.1" r="1.1"/><circle cx="101.5" cy="222.4" r="1.1"/><circle cx="103.3" cy="215.9" r="1.1"/><circle cx="96.1" cy="198.2" r="1.1"/><circle cx="92.0" cy="217.1" r="1.1"/><circle cx="87.6" cy="204.1" r="1.1"/><circle cx="90.2" cy="217.6" r="1.1"/><circle cx="88.9" cy="214.3" r="1.1"/><circle cx="94.0" cy="205.4" r="1.1"/><circle cx="100.9" cy="204.6" r="1.1"/><circle cx="89.4" cy="218.7" r="1.1"/><circle cx="52.9" cy="219.1" r="1.1"/><circle cx="87.9" cy="216.9" r="1.1"/><circle cx="87.5" cy="211.6" r="1.1"/><circle cx="103.3" cy="221.2" r="1.1"/><circle cx="39.6" cy="216.3" r="1.1"/><circle cx="102.7" cy="210.8" r="1.1"/><circle cx="72.2" cy="207.9" r="1.1"/><circle cx="82.8" cy="200.5" r="1.1"/><circle cx="101.4" cy="207.5" r="1.1"/><circle cx="102.0" cy="223.9" r="1.1"/><circle cx="103.4" cy="224.1" r="1.1"/><circle cx="96.3" cy="215.1" r="1.1"/><circle cx="96.3" cy="217.6" r="1.1"/><circle cx="101.2" cy="200.3" r="1.1"/><circle cx="103.7" cy="221.8" r="1.1"/><circle cx="98.5" cy="218.6" r="1.1"/><circle cx="68.3" cy="212.8" r="1.1"/><circle cx="63.5" cy="193.7" r="1.1"/><circle cx="45.1" cy="215.5" r="1.1"/><circle cx="90.5" cy="198.5" r="1.1"/><circle cx="91.2" cy="223.1" r="1.1"/><circle cx="93.9" cy="210.2" r="1.1"/><circle cx="60.4" cy="216.5" r="1.1"/><circle cx="85.1" cy="219.4" r="1.1"/><circle cx="89.2" cy="214.9" r="1.1"/><circle cx="100.0" cy="211.6" r="1.1"/><circle cx="98.5" cy="221.7" r="1.1"/><circle cx="98.7" cy="218.5" r="1.1"/><circle cx="99.1" cy="213.4" r="1.1"/><circle cx="98.7" cy="223.3" r="1.1"/><circle cx="100.5" cy="217.9" r="1.1"/><circle cx="98.7" cy="191.1" r="1.1"/><circle cx="103.4" cy="204.6" r="1.1"/><circle cx="33.6" cy="222.6" r="1.1"/><circle cx="92.9" cy="201.6" r="1.1"/><circle cx="99.1" cy="219.2" r="1.1"/><circle cx="90.4" cy="212.8" r="1.1"/><circle cx="83.0" cy="220.7" r="1.1"/><circle cx="40.4" cy="220.0" r="1.1"/><circle cx="101.7" cy="192.0" r="1.1"/><circle cx="93.6" cy="203.0" r="1.1"/><circle cx="85.3" cy="197.4" r="1.1"/><circle cx="58.5" cy="216.8" r="1.1"/><circle cx="100.5" cy="223.4" r="1.1"/><circle cx="103.4" cy="223.6" r="1.1"/><circle cx="91.7" cy="220.1" r="1.1"/><circle cx="42.6" cy="219.2" r="1.1"/><circle cx="145.6" cy="217.1" r="1.1"/><circle cx="153.8" cy="222.2" r="1.1"/><circle cx="172.9" cy="222.3" r="1.1"/><circle cx="167.2" cy="218.2" r="1.1"/><circle cx="145.7" cy="201.8" r="1.1"/><circle cx="150.2" cy="218.9" r="1.1"/><circle cx="175.0" cy="213.9" r="1.1"/><circle cx="155.4" cy="210.4" r="1.1"/><circle cx="143.9" cy="218.6" r="1.1"/><circle cx="150.4" cy="211.4" r="1.1"/><circle cx="154.9" cy="218.2" r="1.1"/><circle cx="143.1" cy="222.7" r="1.1"/><circle cx="154.0" cy="219.6" r="1.1"/><circle cx="143.9" cy="223.8" r="1.1"/><circle cx="151.0" cy="212.0" r="1.1"/><circle cx="145.8" cy="220.9" r="1.1"/><circle cx="141.8" cy="202.0" r="1.1"/><circle cx="156.7" cy="201.8" r="1.1"/><circle cx="169.1" cy="218.3" r="1.1"/><circle cx="147.2" cy="213.1" r="1.1"/><circle cx="150.6" cy="203.9" r="1.1"/><circle cx="154.3" cy="220.8" r="1.1"/><circle cx="163.8" cy="220.1" r="1.1"/><circle cx="201.7" cy="220.1" r="1.1"/><circle cx="160.6" cy="203.8" r="1.1"/><circle cx="160.6" cy="209.3" r="1.1"/><circle cx="144.7" cy="209.4" r="1.1"/><circle cx="146.9" cy="213.7" r="1.1"/><circle cx="141.8" cy="223.2" r="1.1"/><circle cx="144.8" cy="220.6" r="1.1"/><circle cx="163.5" cy="190.3" r="1.1"/><circle cx="150.4" cy="216.1" r="1.1"/><circle cx="161.7" cy="220.4" r="1.1"/><circle cx="212.0" cy="210.1" r="1.1"/><circle cx="180.6" cy="223.5" r="1.1"/><circle cx="148.3" cy="216.1" r="1.1"/><circle cx="153.5" cy="218.8" r="1.1"/><circle cx="154.0" cy="223.2" r="1.1"/><circle cx="144.5" cy="216.9" r="1.1"/><circle cx="189.5" cy="217.2" r="1.1"/><circle cx="162.6" cy="214.7" r="1.1"/><circle cx="144.7" cy="205.5" r="1.1"/><circle cx="142.2" cy="213.6" r="1.1"/><circle cx="166.4" cy="205.0" r="1.1"/><circle cx="142.4" cy="220.9" r="1.1"/><circle cx="212.5" cy="212.3" r="1.1"/><circle cx="146.6" cy="223.0" r="1.1"/><circle cx="160.6" cy="211.1" r="1.1"/><circle cx="205.9" cy="215.4" r="1.1"/><circle cx="152.6" cy="221.4" r="1.1"/><circle cx="148.3" cy="219.1" r="1.1"/><circle cx="150.9" cy="203.6" r="1.1"/><circle cx="147.3" cy="215.6" r="1.1"/><circle cx="145.6" cy="215.7" r="1.1"/><circle cx="147.3" cy="223.0" r="1.1"/><circle cx="145.8" cy="214.1" r="1.1"/><circle cx="204.1" cy="223.2" r="1.1"/><circle cx="147.3" cy="215.6" r="1.1"/><circle cx="142.6" cy="220.7" r="1.1"/><circle cx="151.5" cy="219.9" r="1.1"/><circle cx="153.0" cy="217.5" r="1.1"/><circle cx="158.2" cy="213.1" r="1.1"/><circle cx="148.9" cy="216.7" r="1.1"/><circle cx="151.4" cy="217.3" r="1.1"/><circle cx="146.5" cy="206.3" r="1.1"/><circle cx="149.3" cy="218.1" r="1.1"/><circle cx="145.9" cy="214.8" r="1.1"/><circle cx="149.9" cy="217.7" r="1.1"/><circle cx="205.6" cy="219.3" r="1.1"/><circle cx="153.8" cy="222.0" r="1.1"/><circle cx="176.1" cy="215.6" r="1.1"/><circle cx="155.6" cy="217.7" r="1.1"/><circle cx="147.7" cy="221.7" r="1.1"/><circle cx="142.3" cy="222.9" r="1.1"/><circle cx="144.5" cy="201.8" r="1.1"/><circle cx="164.9" cy="224.1" r="1.1"/><circle cx="177.6" cy="206.9" r="1.1"/><circle cx="170.1" cy="222.6" r="1.1"/><circle cx="146.3" cy="208.7" r="1.1"/><circle cx="183.8" cy="209.8" r="1.1"/><circle cx="143.0" cy="214.8" r="1.1"/><circle cx="143.5" cy="208.3" r="1.1"/><circle cx="154.5" cy="196.6" r="1.1"/><circle cx="143.6" cy="215.4" r="1.1"/><circle cx="142.9" cy="213.6" r="1.1"/><circle cx="143.2" cy="218.7" r="1.1"/><circle cx="143.3" cy="220.3" r="1.1"/><circle cx="149.3" cy="212.0" r="1.1"/><circle cx="160.7" cy="221.2" r="1.1"/><circle cx="150.5" cy="202.6" r="1.1"/><circle cx="211.3" cy="217.2" r="1.1"/><circle cx="145.4" cy="192.5" r="1.1"/><circle cx="145.1" cy="219.4" r="1.1"/><circle cx="149.5" cy="196.4" r="1.1"/><circle cx="158.0" cy="218.5" r="1.1"/><circle cx="146.8" cy="203.5" r="1.1"/><circle cx="143.1" cy="198.7" r="1.1"/><circle cx="148.5" cy="223.8" r="1.1"/><circle cx="190.3" cy="220.0" r="1.1"/><circle cx="168.0" cy="223.2" r="1.1"/><circle cx="151.2" cy="212.9" r="1.1"/><circle cx="150.6" cy="217.2" r="1.1"/><circle cx="170.9" cy="203.4" r="1.1"/><circle cx="142.8" cy="190.9" r="1.1"/><circle cx="202.2" cy="213.6" r="1.1"/><circle cx="142.4" cy="209.4" r="1.1"/><circle cx="212.4" cy="220.6" r="1.1"/><circle cx="143.0" cy="221.4" r="1.1"/><circle cx="158.0" cy="223.7" r="1.1"/><circle cx="150.8" cy="202.3" r="1.1"/><circle cx="157.0" cy="213.2" r="1.1"/><circle cx="144.3" cy="223.7" r="1.1"/><circle cx="152.2" cy="202.4" r="1.1"/><circle cx="169.7" cy="199.2" r="1.1"/><circle cx="149.4" cy="216.9" r="1.1"/><circle cx="144.6" cy="215.3" r="1.1"/><circle cx="170.7" cy="205.8" r="1.1"/><circle cx="154.8" cy="200.7" r="1.1"/><circle cx="146.3" cy="214.8" r="1.1"/><circle cx="146.3" cy="208.5" r="1.1"/><circle cx="142.1" cy="216.1" r="1.1"/><circle cx="147.4" cy="213.4" r="1.1"/><circle cx="188.4" cy="220.4" r="1.1"/><circle cx="165.8" cy="223.2" r="1.1"/><circle cx="149.1" cy="215.9" r="1.1"/><circle cx="173.7" cy="191.0" r="1.1"/><circle cx="208.0" cy="201.9" r="1.1"/><circle cx="159.0" cy="219.5" r="1.1"/><circle cx="143.9" cy="223.5" r="1.1"/><circle cx="148.1" cy="195.8" r="1.1"/><circle cx="214.4" cy="221.4" r="1.1"/><circle cx="149.6" cy="199.1" r="1.1"/><circle cx="182.3" cy="218.9" r="1.1"/><circle cx="158.1" cy="223.5" r="1.1"/><circle cx="146.7" cy="223.3" r="1.1"/><circle cx="203.5" cy="223.1" r="1.1"/><circle cx="144.3" cy="211.4" r="1.1"/><circle cx="163.7" cy="218.2" r="1.1"/><circle cx="142.0" cy="219.7" r="1.1"/><circle cx="146.2" cy="208.2" r="1.1"/><circle cx="144.0" cy="193.4" r="1.1"/><circle cx="143.5" cy="219.4" r="1.1"/><circle cx="143.6" cy="222.2" r="1.1"/><circle cx="153.1" cy="208.1" r="1.1"/><circle cx="193.8" cy="213.7" r="1.1"/><circle cx="174.9" cy="222.5" r="1.1"/><circle cx="152.7" cy="218.8" r="1.1"/><circle cx="152.5" cy="222.0" r="1.1"/><circle cx="141.9" cy="222.6" r="1.1"/><circle cx="150.2" cy="222.9" r="1.1"/><circle cx="145.9" cy="214.5" r="1.1"/><circle cx="208.2" cy="222.6" r="1.1"/><circle cx="150.0" cy="192.5" r="1.1"/><circle cx="163.2" cy="216.6" r="1.1"/><circle cx="148.7" cy="206.8" r="1.1"/><circle cx="212.1" cy="196.3" r="1.1"/><circle cx="158.0" cy="214.9" r="1.1"/><circle cx="152.2" cy="211.0" r="1.1"/><circle cx="197.7" cy="206.7" r="1.1"/><circle cx="148.7" cy="212.0" r="1.1"/><circle cx="156.0" cy="216.2" r="1.1"/><circle cx="146.2" cy="219.5" r="1.1"/><circle cx="143.9" cy="223.0" r="1.1"/><circle cx="143.0" cy="221.9" r="1.1"/><circle cx="165.2" cy="220.4" r="1.1"/><circle cx="142.6" cy="206.4" r="1.1"/><circle cx="184.3" cy="214.8" r="1.1"/><circle cx="152.4" cy="222.3" r="1.1"/><circle cx="175.8" cy="219.6" r="1.1"/><circle cx="143.6" cy="221.8" r="1.1"/><circle cx="141.9" cy="222.0" r="1.1"/><circle cx="150.3" cy="223.7" r="1.1"/><circle cx="153.1" cy="215.2" r="1.1"/><circle cx="213.4" cy="221.9" r="1.1"/><circle cx="154.5" cy="200.7" r="1.1"/><circle cx="149.2" cy="204.4" r="1.1"/><circle cx="144.0" cy="222.2" r="1.1"/><circle cx="144.3" cy="217.0" r="1.1"/><circle cx="164.4" cy="217.7" r="1.1"/><circle cx="150.6" cy="221.9" r="1.1"/><circle cx="152.6" cy="210.2" r="1.1"/><circle cx="145.3" cy="211.6" r="1.1"/><circle cx="161.9" cy="217.7" r="1.1"/><circle cx="148.4" cy="204.7" r="1.1"/><circle cx="165.1" cy="219.5" r="1.1"/><circle cx="183.9" cy="213.1" r="1.1"/><circle cx="193.4" cy="218.2" r="1.1"/><circle cx="142.6" cy="224.0" r="1.1"/><circle cx="150.1" cy="208.4" r="1.1"/><circle cx="177.6" cy="221.8" r="1.1"/><circle cx="184.4" cy="195.4" r="1.1"/><circle cx="145.2" cy="221.1" r="1.1"/><circle cx="141.8" cy="218.1" r="1.1"/><circle cx="151.6" cy="220.5" r="1.1"/><circle cx="147.9" cy="221.3" r="1.1"/><circle cx="156.1" cy="214.1" r="1.1"/><circle cx="156.4" cy="213.9" r="1.1"/><circle cx="153.3" cy="224.1" r="1.1"/><circle cx="153.5" cy="223.3" r="1.1"/><circle cx="151.7" cy="215.7" r="1.1"/><circle cx="150.0" cy="209.4" r="1.1"/><circle cx="144.4" cy="221.4" r="1.1"/><circle cx="144.5" cy="220.6" r="1.1"/><circle cx="145.0" cy="223.7" r="1.1"/><circle cx="163.0" cy="210.3" r="1.1"/><circle cx="162.2" cy="220.9" r="1.1"/><circle cx="148.0" cy="205.2" r="1.1"/><circle cx="166.8" cy="218.9" r="1.1"/><circle cx="146.5" cy="213.7" r="1.1"/><circle cx="144.3" cy="201.9" r="1.1"/><circle cx="145.2" cy="222.4" r="1.1"/><circle cx="147.4" cy="214.7" r="1.1"/><circle cx="149.4" cy="210.9" r="1.1"/><circle cx="142.5" cy="196.7" r="1.1"/><circle cx="158.7" cy="215.0" r="1.1"/><circle cx="143.0" cy="219.6" r="1.1"/><circle cx="146.4" cy="223.9" r="1.1"/><circle cx="159.1" cy="220.8" r="1.1"/><circle cx="142.3" cy="216.5" r="1.1"/><circle cx="150.6" cy="222.3" r="1.1"/><circle cx="150.6" cy="220.5" r="1.1"/><circle cx="146.2" cy="217.3" r="1.1"/><circle cx="155.7" cy="219.0" r="1.1"/><circle cx="144.1" cy="221.7" r="1.1"/><circle cx="207.6" cy="221.8" r="1.1"/><circle cx="171.6" cy="217.8" r="1.1"/><circle cx="166.1" cy="221.8" r="1.1"/><circle cx="205.2" cy="223.5" r="1.1"/><circle cx="161.4" cy="196.9" r="1.1"/><circle cx="142.5" cy="218.1" r="1.1"/><circle cx="144.1" cy="216.9" r="1.1"/><circle cx="154.5" cy="222.1" r="1.1"/><circle cx="141.9" cy="213.1" r="1.1"/><circle cx="151.5" cy="222.3" r="1.1"/><circle cx="142.3" cy="222.3" r="1.1"/><circle cx="155.5" cy="210.5" r="1.1"/><circle cx="145.4" cy="223.9" r="1.1"/><circle cx="161.4" cy="204.1" r="1.1"/><circle cx="172.2" cy="201.9" r="1.1"/><circle cx="145.6" cy="213.3" r="1.1"/><circle cx="151.9" cy="196.9" r="1.1"/><circle cx="212.8" cy="220.9" r="1.1"/><circle cx="149.2" cy="224.1" r="1.1"/><circle cx="143.0" cy="215.4" r="1.1"/><circle cx="159.9" cy="214.9" r="1.1"/><circle cx="162.3" cy="218.9" r="1.1"/><circle cx="150.6" cy="212.5" r="1.1"/><circle cx="177.1" cy="211.9" r="1.1"/><circle cx="184.4" cy="221.7" r="1.1"/><circle cx="184.1" cy="220.6" r="1.1"/><circle cx="157.8" cy="223.8" r="1.1"/><circle cx="202.5" cy="211.6" r="1.1"/><circle cx="161.6" cy="219.0" r="1.1"/><circle cx="142.6" cy="218.8" r="1.1"/><circle cx="147.8" cy="220.8" r="1.1"/><circle cx="151.0" cy="209.0" r="1.1"/><circle cx="203.0" cy="223.2" r="1.1"/><circle cx="145.9" cy="200.4" r="1.1"/><circle cx="159.5" cy="210.1" r="1.1"/><circle cx="145.3" cy="219.7" r="1.1"/><circle cx="145.1" cy="221.1" r="1.1"/><circle cx="148.5" cy="221.1" r="1.1"/><circle cx="185.1" cy="222.9" r="1.1"/><circle cx="165.2" cy="211.4" r="1.1"/><circle cx="155.5" cy="221.7" r="1.1"/><circle cx="170.3" cy="213.3" r="1.1"/><circle cx="200.0" cy="216.9" r="1.1"/><circle cx="155.3" cy="220.7" r="1.1"/><circle cx="199.6" cy="208.3" r="1.1"/><circle cx="178.8" cy="207.9" r="1.1"/><circle cx="144.2" cy="217.4" r="1.1"/><circle cx="147.8" cy="223.9" r="1.1"/><circle cx="171.8" cy="190.4" r="1.1"/><circle cx="146.5" cy="222.8" r="1.1"/><circle cx="180.5" cy="212.4" r="1.1"/><circle cx="160.5" cy="217.5" r="1.1"/><circle cx="180.1" cy="217.1" r="1.1"/><circle cx="142.4" cy="221.7" r="1.1"/><circle cx="144.3" cy="218.3" r="1.1"/><circle cx="142.1" cy="220.7" r="1.1"/><circle cx="144.7" cy="218.1" r="1.1"/><circle cx="146.3" cy="212.4" r="1.1"/><circle cx="163.4" cy="219.0" r="1.1"/><circle cx="164.3" cy="207.6" r="1.1"/><circle cx="157.6" cy="218.9" r="1.1"/><circle cx="154.0" cy="193.0" r="1.1"/><circle cx="164.3" cy="219.6" r="1.1"/><circle cx="160.5" cy="213.1" r="1.1"/><circle cx="151.4" cy="223.8" r="1.1"/><circle cx="152.6" cy="200.6" r="1.1"/><circle cx="189.3" cy="223.7" r="1.1"/><circle cx="148.9" cy="197.2" r="1.1"/><circle cx="164.5" cy="222.9" r="1.1"/><circle cx="142.9" cy="206.6" r="1.1"/><circle cx="152.3" cy="222.5" r="1.1"/><circle cx="151.1" cy="223.2" r="1.1"/><circle cx="143.6" cy="212.7" r="1.1"/><circle cx="164.3" cy="205.2" r="1.1"/><circle cx="143.5" cy="212.9" r="1.1"/><circle cx="147.9" cy="216.5" r="1.1"/><circle cx="144.2" cy="222.2" r="1.1"/><circle cx="169.2" cy="223.8" r="1.1"/><circle cx="153.7" cy="204.5" r="1.1"/><circle cx="146.1" cy="209.6" r="1.1"/><circle cx="176.5" cy="219.5" r="1.1"/><circle cx="151.5" cy="220.8" r="1.1"/><circle cx="162.2" cy="223.1" r="1.1"/><circle cx="150.7" cy="205.1" r="1.1"/><circle cx="142.2" cy="219.9" r="1.1"/><circle cx="152.9" cy="215.0" r="1.1"/><circle cx="170.7" cy="209.8" r="1.1"/><circle cx="166.5" cy="218.0" r="1.1"/><circle cx="197.5" cy="223.6" r="1.1"/><circle cx="209.5" cy="203.1" r="1.1"/><circle cx="152.2" cy="222.3" r="1.1"/><circle cx="146.6" cy="223.9" r="1.1"/><circle cx="164.3" cy="219.6" r="1.1"/><circle cx="143.3" cy="222.8" r="1.1"/><circle cx="192.8" cy="215.6" r="1.1"/><circle cx="146.0" cy="222.2" r="1.1"/><circle cx="159.8" cy="218.1" r="1.1"/><circle cx="147.8" cy="222.1" r="1.1"/><circle cx="143.6" cy="216.7" r="1.1"/><circle cx="152.3" cy="223.8" r="1.1"/><circle cx="144.1" cy="215.7" r="1.1"/><circle cx="189.5" cy="219.7" r="1.1"/><circle cx="149.0" cy="220.3" r="1.1"/><circle cx="142.8" cy="222.2" r="1.1"/><circle cx="146.1" cy="222.1" r="1.1"/><circle cx="166.8" cy="201.7" r="1.1"/><circle cx="148.5" cy="220.0" r="1.1"/><circle cx="174.8" cy="210.2" r="1.1"/><circle cx="142.7" cy="211.5" r="1.1"/><circle cx="141.9" cy="221.1" r="1.1"/><circle cx="143.9" cy="214.6" r="1.1"/><circle cx="151.3" cy="223.7" r="1.1"/><circle cx="152.0" cy="193.2" r="1.1"/><circle cx="179.0" cy="215.5" r="1.1"/><circle cx="183.3" cy="222.4" r="1.1"/><circle cx="147.5" cy="217.9" r="1.1"/><circle cx="151.4" cy="216.5" r="1.1"/><circle cx="167.1" cy="213.8" r="1.1"/><circle cx="161.4" cy="203.1" r="1.1"/><circle cx="144.1" cy="207.0" r="1.1"/><circle cx="147.0" cy="216.7" r="1.1"/><circle cx="147.1" cy="215.7" r="1.1"/><circle cx="144.6" cy="220.2" r="1.1"/><circle cx="161.4" cy="222.8" r="1.1"/><circle cx="148.9" cy="212.8" r="1.1"/><circle cx="166.3" cy="219.0" r="1.1"/><circle cx="152.6" cy="203.7" r="1.1"/><circle cx="149.5" cy="218.7" r="1.1"/><circle cx="142.9" cy="208.4" r="1.1"/><circle cx="148.4" cy="212.9" r="1.1"/><circle cx="146.1" cy="221.6" r="1.1"/><circle cx="179.5" cy="217.0" r="1.1"/><circle cx="145.8" cy="216.0" r="1.1"/><circle cx="154.1" cy="207.7" r="1.1"/><circle cx="147.2" cy="208.5" r="1.1"/><circle cx="170.3" cy="202.7" r="1.1"/><circle cx="150.6" cy="223.9" r="1.1"/><circle cx="147.7" cy="214.3" r="1.1"/><circle cx="146.4" cy="216.2" r="1.1"/><circle cx="153.4" cy="220.7" r="1.1"/><circle cx="151.2" cy="210.9" r="1.1"/><circle cx="145.6" cy="201.6" r="1.1"/><circle cx="158.2" cy="199.1" r="1.1"/><circle cx="148.4" cy="222.9" r="1.1"/><circle cx="143.2" cy="221.0" r="1.1"/>
</g>
<g fill="#111111" fill-opacity="0.55">
<circle cx="107.2" cy="220.5" r="0.9"/><circle cx="105.8" cy="216.4" r="0.9"/><circle cx="112.8" cy="222.6" r="0.9"/><circle cx="115.9" cy="224.1" r="0.9"/><circle cx="109.7" cy="218.2" r="0.9"/><circle cx="111.2" cy="204.5" r="0.9"/><circle cx="117.0" cy="223.5" r="0.9"/><circle cx="104.6" cy="198.8" r="0.9"/><circle cx="106.4" cy="196.1" r="0.9"/><circle cx="110.6" cy="221.1" r="0.9"/><circle cx="114.4" cy="221.4" r="0.9"/><circle cx="106.2" cy="210.6" r="0.9"/><circle cx="109.4" cy="223.5" r="0.9"/><circle cx="113.5" cy="219.3" r="0.9"/><circle cx="104.2" cy="220.8" r="0.9"/><circle cx="104.6" cy="222.6" r="0.9"/><circle cx="104.5" cy="197.4" r="0.9"/><circle cx="105.9" cy="221.5" r="0.9"/><circle cx="108.3" cy="210.8" r="0.9"/><circle cx="111.2" cy="214.4" r="0.9"/><circle cx="107.3" cy="212.6" r="0.9"/><circle cx="114.3" cy="222.1" r="0.9"/><circle cx="108.4" cy="224.3" r="0.9"/><circle cx="114.1" cy="213.6" r="0.9"/><circle cx="115.5" cy="215.6" r="0.9"/><circle cx="107.2" cy="223.1" r="0.9"/><circle cx="111.4" cy="220.1" r="0.9"/><circle cx="107.0" cy="214.7" r="0.9"/><circle cx="106.4" cy="221.2" r="0.9"/><circle cx="105.7" cy="217.3" r="0.9"/><circle cx="107.0" cy="203.5" r="0.9"/><circle cx="105.8" cy="224.4" r="0.9"/><circle cx="107.3" cy="214.5" r="0.9"/><circle cx="104.8" cy="218.1" r="0.9"/><circle cx="105.2" cy="224.3" r="0.9"/><circle cx="115.5" cy="218.7" r="0.9"/><circle cx="112.5" cy="221.2" r="0.9"/><circle cx="111.1" cy="222.3" r="0.9"/><circle cx="109.2" cy="196.5" r="0.9"/><circle cx="113.4" cy="218.5" r="0.9"/><circle cx="105.3" cy="215.6" r="0.9"/><circle cx="116.0" cy="219.3" r="0.9"/><circle cx="112.1" cy="211.3" r="0.9"/><circle cx="105.7" cy="200.4" r="0.9"/><circle cx="111.0" cy="207.1" r="0.9"/><circle cx="111.6" cy="213.8" r="0.9"/><circle cx="104.4" cy="223.5" r="0.9"/><circle cx="106.6" cy="220.4" r="0.9"/><circle cx="110.1" cy="220.6" r="0.9"/><circle cx="114.8" cy="223.2" r="0.9"/><circle cx="111.8" cy="215.9" r="0.9"/><circle cx="104.2" cy="219.3" r="0.9"/><circle cx="106.3" cy="220.8" r="0.9"/><circle cx="114.3" cy="214.7" r="0.9"/><circle cx="107.2" cy="221.8" r="0.9"/><circle cx="111.0" cy="220.2" r="0.9"/><circle cx="106.3" cy="205.9" r="0.9"/><circle cx="111.9" cy="219.6" r="0.9"/><circle cx="114.3" cy="220.0" r="0.9"/><circle cx="116.9" cy="223.3" r="0.9"/><circle cx="112.5" cy="224.3" r="0.9"/><circle cx="105.3" cy="212.1" r="0.9"/><circle cx="105.2" cy="220.6" r="0.9"/><circle cx="107.3" cy="217.8" r="0.9"/><circle cx="106.7" cy="220.0" r="0.9"/><circle cx="113.5" cy="221.1" r="0.9"/><circle cx="111.4" cy="221.4" r="0.9"/><circle cx="105.1" cy="221.2" r="0.9"/><circle cx="104.2" cy="221.1" r="0.9"/><circle cx="109.7" cy="215.7" r="0.9"/><circle cx="106.5" cy="223.1" r="0.9"/><circle cx="104.8" cy="222.3" r="0.9"/><circle cx="104.1" cy="222.0" r="0.9"/><circle cx="112.4" cy="222.9" r="0.9"/><circle cx="108.0" cy="224.1" r="0.9"/><circle cx="109.0" cy="204.5" r="0.9"/><circle cx="108.0" cy="200.9" r="0.9"/><circle cx="107.9" cy="199.7" r="0.9"/><circle cx="112.0" cy="218.2" r="0.9"/><circle cx="117.1" cy="224.3" r="0.9"/><circle cx="106.5" cy="219.9" r="0.9"/><circle cx="107.5" cy="223.7" r="0.9"/><circle cx="105.8" cy="223.6" r="0.9"/><circle cx="114.6" cy="224.1" r="0.9"/><circle cx="111.5" cy="211.7" r="0.9"/><circle cx="108.1" cy="216.8" r="0.9"/><circle cx="104.7" cy="223.9" r="0.9"/><circle cx="110.0" cy="221.7" r="0.9"/><circle cx="113.9" cy="224.2" r="0.9"/><circle cx="106.9" cy="200.1" r="0.9"/><circle cx="104.5" cy="223.9" r="0.9"/><circle cx="105.4" cy="218.6" r="0.9"/><circle cx="105.2" cy="223.7" r="0.9"/><circle cx="109.7" cy="212.1" r="0.9"/><circle cx="112.5" cy="220.7" r="0.9"/><circle cx="105.4" cy="221.5" r="0.9"/><circle cx="106.1" cy="216.2" r="0.9"/><circle cx="105.5" cy="217.5" r="0.9"/><circle cx="111.2" cy="224.0" r="0.9"/><circle cx="112.2" cy="220.5" r="0.9"/><circle cx="111.2" cy="209.7" r="0.9"/><circle cx="105.4" cy="222.1" r="0.9"/><circle cx="104.9" cy="221.2" r="0.9"/><circle cx="111.6" cy="224.3" r="0.9"/><circle cx="105.2" cy="215.0" r="0.9"/><circle cx="111.4" cy="224.3" r="0.9"/><circle cx="110.4" cy="223.4" r="0.9"/><circle cx="109.0" cy="224.4" r="0.9"/><circle cx="112.8" cy="218.8" r="0.9"/><circle cx="111.9" cy="216.9" r="0.9"/><circle cx="112.9" cy="223.8" r="0.9"/><circle cx="108.4" cy="191.2" r="0.9"/><circle cx="108.0" cy="205.9" r="0.9"/><circle cx="112.8" cy="209.0" r="0.9"/><circle cx="106.5" cy="224.2" r="0.9"/><circle cx="113.5" cy="219.2" r="0.9"/><circle cx="107.5" cy="194.5" r="0.9"/><circle cx="108.0" cy="221.7" r="0.9"/><circle cx="112.6" cy="210.5" r="0.9"/><circle cx="109.8" cy="213.2" r="0.9"/><circle cx="108.9" cy="222.4" r="0.9"/><circle cx="109.2" cy="224.5" r="0.9"/><circle cx="104.9" cy="204.3" r="0.9"/><circle cx="106.5" cy="224.5" r="0.9"/><circle cx="115.2" cy="224.4" r="0.9"/><circle cx="105.9" cy="223.1" r="0.9"/><circle cx="109.2" cy="224.4" r="0.9"/><circle cx="107.7" cy="223.7" r="0.9"/><circle cx="112.8" cy="213.8" r="0.9"/><circle cx="109.8" cy="220.0" r="0.9"/><circle cx="106.9" cy="214.3" r="0.9"/><circle cx="106.3" cy="223.6" r="0.9"/><circle cx="106.2" cy="222.3" r="0.9"/><circle cx="112.8" cy="218.1" r="0.9"/><circle cx="105.7" cy="218.0" r="0.9"/><circle cx="108.1" cy="213.1" r="0.9"/><circle cx="105.8" cy="190.5" r="0.9"/><circle cx="105.7" cy="223.6" r="0.9"/><circle cx="110.8" cy="221.4" r="0.9"/><circle cx="104.8" cy="213.3" r="0.9"/><circle cx="105.3" cy="220.1" r="0.9"/><circle cx="106.2" cy="224.6" r="0.9"/><circle cx="110.6" cy="217.6" r="0.9"/><circle cx="109.2" cy="220.0" r="0.9"/><circle cx="114.3" cy="223.7" r="0.9"/><circle cx="106.6" cy="221.0" r="0.9"/><circle cx="105.2" cy="220.7" r="0.9"/><circle cx="113.0" cy="214.8" r="0.9"/><circle cx="106.9" cy="224.0" r="0.9"/><circle cx="106.0" cy="197.1" r="0.9"/><circle cx="116.7" cy="224.5" r="0.9"/><circle cx="104.9" cy="222.6" r="0.9"/><circle cx="109.6" cy="218.5" r="0.9"/><circle cx="112.7" cy="222.9" r="0.9"/><circle cx="113.6" cy="208.0" r="0.9"/><circle cx="105.5" cy="199.5" r="0.9"/><circle cx="111.6" cy="221.3" r="0.9"/><circle cx="109.2" cy="218.6" r="0.9"/><circle cx="114.0" cy="224.5" r="0.9"/><circle cx="108.5" cy="223.2" r="0.9"/><circle cx="110.9" cy="221.7" r="0.9"/><circle cx="106.1" cy="221.0" r="0.9"/><circle cx="107.4" cy="217.2" r="0.9"/><circle cx="106.5" cy="209.4" r="0.9"/><circle cx="112.5" cy="219.4" r="0.9"/><circle cx="116.0" cy="223.4" r="0.9"/><circle cx="105.3" cy="221.8" r="0.9"/><circle cx="104.7" cy="222.7" r="0.9"/><circle cx="107.9" cy="221.7" r="0.9"/><circle cx="104.8" cy="216.6" r="0.9"/><circle cx="107.3" cy="223.5" r="0.9"/><circle cx="107.9" cy="215.5" r="0.9"/><circle cx="109.9" cy="214.7" r="0.9"/><circle cx="111.7" cy="224.3" r="0.9"/><circle cx="109.5" cy="219.1" r="0.9"/><circle cx="113.5" cy="223.2" r="0.9"/><circle cx="109.9" cy="216.3" r="0.9"/><circle cx="108.7" cy="212.1" r="0.9"/><circle cx="115.4" cy="217.0" r="0.9"/><circle cx="111.1" cy="222.7" r="0.9"/><circle cx="108.4" cy="192.3" r="0.9"/><circle cx="108.1" cy="223.1" r="0.9"/><circle cx="106.0" cy="219.8" r="0.9"/><circle cx="108.3" cy="222.0" r="0.9"/><circle cx="106.8" cy="207.1" r="0.9"/><circle cx="107.6" cy="211.7" r="0.9"/><circle cx="112.9" cy="222.9" r="0.9"/><circle cx="109.6" cy="208.6" r="0.9"/><circle cx="105.8" cy="224.6" r="0.9"/><circle cx="104.6" cy="218.2" r="0.9"/><circle cx="113.9" cy="222.3" r="0.9"/><circle cx="117.3" cy="223.9" r="0.9"/><circle cx="104.4" cy="218.4" r="0.9"/><circle cx="105.3" cy="211.6" r="0.9"/><circle cx="108.5" cy="223.7" r="0.9"/><circle cx="106.0" cy="220.0" r="0.9"/><circle cx="108.3" cy="218.6" r="0.9"/><circle cx="105.1" cy="224.6" r="0.9"/><circle cx="113.2" cy="223.7" r="0.9"/><circle cx="110.5" cy="223.8" r="0.9"/><circle cx="107.7" cy="223.2" r="0.9"/><circle cx="113.2" cy="220.7" r="0.9"/><circle cx="107.3" cy="224.0" r="0.9"/><circle cx="112.7" cy="222.1" r="0.9"/><circle cx="106.4" cy="207.1" r="0.9"/><circle cx="106.1" cy="221.1" r="0.9"/><circle cx="109.4" cy="210.4" r="0.9"/><circle cx="104.2" cy="222.9" r="0.9"/><circle cx="106.3" cy="194.5" r="0.9"/><circle cx="106.6" cy="220.1" r="0.9"/><circle cx="115.9" cy="218.4" r="0.9"/><circle cx="114.6" cy="220.3" r="0.9"/><circle cx="106.6" cy="209.6" r="0.9"/><circle cx="104.6" cy="221.0" r="0.9"/><circle cx="106.5" cy="196.8" r="0.9"/><circle cx="104.9" cy="218.0" r="0.9"/><circle cx="112.8" cy="205.9" r="0.9"/><circle cx="105.1" cy="215.4" r="0.9"/><circle cx="105.4" cy="224.3" r="0.9"/><circle cx="107.7" cy="215.7" r="0.9"/><circle cx="109.8" cy="215.6" r="0.9"/><circle cx="107.2" cy="221.2" r="0.9"/><circle cx="113.3" cy="224.5" r="0.9"/><circle cx="107.5" cy="218.7" r="0.9"/><circle cx="107.2" cy="218.4" r="0.9"/><circle cx="109.1" cy="220.8" r="0.9"/><circle cx="112.9" cy="222.9" r="0.9"/><circle cx="116.8" cy="220.4" r="0.9"/><circle cx="112.7" cy="215.7" r="0.9"/><circle cx="105.8" cy="220.0" r="0.9"/><circle cx="112.0" cy="213.0" r="0.9"/><circle cx="115.5" cy="221.8" r="0.9"/><circle cx="108.4" cy="190.7" r="0.9"/><circle cx="109.2" cy="219.4" r="0.9"/><circle cx="107.9" cy="212.6" r="0.9"/><circle cx="105.3" cy="221.1" r="0.9"/><circle cx="105.6" cy="221.2" r="0.9"/><circle cx="104.4" cy="218.1" r="0.9"/><circle cx="105.3" cy="224.2" r="0.9"/><circle cx="110.3" cy="222.5" r="0.9"/><circle cx="114.3" cy="221.2" r="0.9"/><circle cx="104.5" cy="223.2" r="0.9"/><circle cx="112.7" cy="219.0" r="0.9"/><circle cx="107.5" cy="210.9" r="0.9"/><circle cx="111.5" cy="213.6" r="0.9"/><circle cx="106.1" cy="223.9" r="0.9"/><circle cx="113.9" cy="224.2" r="0.9"/><circle cx="110.2" cy="218.1" r="0.9"/><circle cx="112.8" cy="218.8" r="0.9"/><circle cx="105.5" cy="219.4" r="0.9"/><circle cx="107.7" cy="214.3" r="0.9"/><circle cx="108.2" cy="223.0" r="0.9"/><circle cx="111.4" cy="217.6" r="0.9"/><circle cx="114.1" cy="223.0" r="0.9"/><circle cx="105.6" cy="223.7" r="0.9"/><circle cx="106.5" cy="219.8" r="0.9"/><circle cx="106.5" cy="212.1" r="0.9"/><circle cx="104.1" cy="219.1" r="0.9"/><circle cx="108.4" cy="214.9" r="0.9"/><circle cx="113.6" cy="220.1" r="0.9"/><circle cx="108.5" cy="223.4" r="0.9"/><circle cx="112.4" cy="222.1" r="0.9"/><circle cx="106.9" cy="193.1" r="0.9"/><circle cx="110.3" cy="223.4" r="0.9"/><circle cx="108.7" cy="219.2" r="0.9"/><circle cx="104.9" cy="221.8" r="0.9"/><circle cx="105.3" cy="198.5" r="0.9"/><circle cx="110.6" cy="221.3" r="0.9"/><circle cx="106.1" cy="223.4" r="0.9"/><circle cx="105.1" cy="202.4" r="0.9"/><circle cx="106.6" cy="224.1" r="0.9"/><circle cx="108.6" cy="216.3" r="0.9"/><circle cx="104.8" cy="203.1" r="0.9"/><circle cx="109.5" cy="219.6" r="0.9"/><circle cx="115.1" cy="222.1" r="0.9"/><circle cx="112.8" cy="223.6" r="0.9"/><circle cx="107.9" cy="223.8" r="0.9"/><circle cx="110.1" cy="213.1" r="0.9"/><circle cx="110.3" cy="219.1" r="0.9"/><circle cx="107.6" cy="192.7" r="0.9"/><circle cx="114.0" cy="224.4" r="0.9"/><circle cx="114.4" cy="217.3" r="0.9"/><circle cx="113.8" cy="210.6" r="0.9"/><circle cx="107.6" cy="221.7" r="0.9"/><circle cx="111.9" cy="221.9" r="0.9"/><circle cx="110.0" cy="220.4" r="0.9"/><circle cx="104.7" cy="221.8" r="0.9"/><circle cx="108.0" cy="220.2" r="0.9"/><circle cx="105.9" cy="214.9" r="0.9"/><circle cx="105.6" cy="198.5" r="0.9"/><circle cx="104.5" cy="221.4" r="0.9"/><circle cx="115.7" cy="222.1" r="0.9"/><circle cx="108.0" cy="194.7" r="0.9"/><circle cx="104.5" cy="217.9" r="0.9"/><circle cx="109.6" cy="217.3" r="0.9"/><circle cx="104.5" cy="205.1" r="0.9"/><circle cx="112.9" cy="216.1" r="0.9"/><circle cx="113.4" cy="209.2" r="0.9"/><circle cx="105.2" cy="221.2" r="0.9"/><circle cx="110.8" cy="222.1" r="0.9"/><circle cx="109.3" cy="218.8" r="0.9"/><circle cx="104.6" cy="214.5" r="0.9"/><circle cx="112.9" cy="219.5" r="0.9"/><circle cx="104.3" cy="214.4" r="0.9"/><circle cx="110.7" cy="219.6" r="0.9"/><circle cx="111.6" cy="212.7" r="0.9"/><circle cx="112.9" cy="220.3" r="0.9"/><circle cx="109.0" cy="217.3" r="0.9"/><circle cx="110.0" cy="221.1" r="0.9"/><circle cx="104.9" cy="202.3" r="0.9"/><circle cx="116.1" cy="222.5" r="0.9"/><circle cx="115.4" cy="218.3" r="0.9"/><circle cx="114.4" cy="222.6" r="0.9"/><circle cx="108.6" cy="224.2" r="0.9"/><circle cx="106.0" cy="211.8" r="0.9"/><circle cx="107.2" cy="194.1" r="0.9"/><circle cx="108.0" cy="217.9" r="0.9"/><circle cx="108.1" cy="223.7" r="0.9"/><circle cx="116.7" cy="222.2" r="0.9"/><circle cx="113.2" cy="224.4" r="0.9"/><circle cx="104.1" cy="213.5" r="0.9"/><circle cx="111.4" cy="218.5" r="0.9"/><circle cx="104.6" cy="222.1" r="0.9"/><circle cx="109.5" cy="219.1" r="0.9"/><circle cx="112.4" cy="216.1" r="0.9"/><circle cx="117.1" cy="222.0" r="0.9"/><circle cx="112.5" cy="216.7" r="0.9"/><circle cx="110.7" cy="212.9" r="0.9"/><circle cx="110.1" cy="219.5" r="0.9"/><circle cx="110.3" cy="221.8" r="0.9"/><circle cx="109.2" cy="224.0" r="0.9"/><circle cx="109.9" cy="221.2" r="0.9"/><circle cx="116.4" cy="222.0" r="0.9"/><circle cx="112.5" cy="221.0" r="0.9"/><circle cx="104.4" cy="213.1" r="0.9"/><circle cx="112.6" cy="203.1" r="0.9"/><circle cx="107.0" cy="224.4" r="0.9"/><circle cx="110.0" cy="222.9" r="0.9"/><circle cx="106.3" cy="204.7" r="0.9"/><circle cx="111.9" cy="222.8" r="0.9"/><circle cx="111.5" cy="223.8" r="0.9"/><circle cx="108.8" cy="214.9" r="0.9"/><circle cx="105.0" cy="220.2" r="0.9"/><circle cx="110.3" cy="210.3" r="0.9"/><circle cx="114.5" cy="217.3" r="0.9"/><circle cx="111.5" cy="198.1" r="0.9"/><circle cx="105.0" cy="205.5" r="0.9"/><circle cx="108.4" cy="193.9" r="0.9"/><circle cx="113.2" cy="213.0" r="0.9"/><circle cx="107.7" cy="210.2" r="0.9"/><circle cx="105.6" cy="219.4" r="0.9"/><circle cx="108.6" cy="223.5" r="0.9"/><circle cx="111.9" cy="207.7" r="0.9"/><circle cx="110.5" cy="218.7" r="0.9"/><circle cx="110.5" cy="206.4" r="0.9"/><circle cx="117.2" cy="224.5" r="0.9"/><circle cx="104.3" cy="208.4" r="0.9"/><circle cx="110.2" cy="222.6" r="0.9"/><circle cx="114.8" cy="223.2" r="0.9"/><circle cx="105.3" cy="220.6" r="0.9"/><circle cx="104.2" cy="221.9" r="0.9"/><circle cx="105.9" cy="218.9" r="0.9"/><circle cx="109.2" cy="196.9" r="0.9"/><circle cx="114.1" cy="224.5" r="0.9"/><circle cx="109.4" cy="222.5" r="0.9"/><circle cx="107.5" cy="206.6" r="0.9"/><circle cx="105.3" cy="219.9" r="0.9"/><circle cx="104.3" cy="197.7" r="0.9"/><circle cx="105.0" cy="223.7" r="0.9"/><circle cx="111.3" cy="219.0" r="0.9"/><circle cx="108.7" cy="223.5" r="0.9"/><circle cx="113.7" cy="216.0" r="0.9"/><circle cx="109.1" cy="217.9" r="0.9"/><circle cx="111.1" cy="197.8" r="0.9"/><circle cx="115.3" cy="224.4" r="0.9"/><circle cx="113.9" cy="216.9" r="0.9"/><circle cx="111.6" cy="217.3" r="0.9"/><circle cx="111.4" cy="217.2" r="0.9"/><circle cx="107.2" cy="220.8" r="0.9"/><circle cx="110.6" cy="195.4" r="0.9"/><circle cx="114.5" cy="219.5" r="0.9"/><circle cx="107.0" cy="208.4" r="0.9"/><circle cx="107.6" cy="221.5" r="0.9"/><circle cx="107.0" cy="218.1" r="0.9"/><circle cx="106.8" cy="217.0" r="0.9"/><circle cx="107.6" cy="220.0" r="0.9"/><circle cx="108.1" cy="211.1" r="0.9"/><circle cx="106.5" cy="214.1" r="0.9"/><circle cx="115.4" cy="221.8" r="0.9"/><circle cx="113.6" cy="222.9" r="0.9"/><circle cx="106.7" cy="218.3" r="0.9"/><circle cx="112.9" cy="216.9" r="0.9"/><circle cx="109.3" cy="222.5" r="0.9"/><circle cx="112.2" cy="218.4" r="0.9"/><circle cx="110.6" cy="223.4" r="0.9"/><circle cx="105.6" cy="215.1" r="0.9"/><circle cx="107.9" cy="224.6" r="0.9"/><circle cx="110.5" cy="224.1" r="0.9"/><circle cx="112.0" cy="218.2" r="0.9"/><circle cx="106.1" cy="221.7" r="0.9"/><circle cx="107.4" cy="214.8" r="0.9"/><circle cx="107.7" cy="195.8" r="0.9"/><circle cx="105.4" cy="219.4" r="0.9"/><circle cx="107.2" cy="218.9" r="0.9"/><circle cx="104.3" cy="222.8" r="0.9"/><circle cx="107.6" cy="220.6" r="0.9"/><circle cx="105.1" cy="219.3" r="0.9"/><circle cx="108.8" cy="219.1" r="0.9"/><circle cx="107.1" cy="219.4" r="0.9"/><circle cx="105.5" cy="214.5" r="0.9"/><circle cx="114.0" cy="215.1" r="0.9"/><circle cx="110.2" cy="223.9" r="0.9"/><circle cx="107.1" cy="202.9" r="0.9"/><circle cx="115.1" cy="217.8" r="0.9"/><circle cx="106.0" cy="212.1" r="0.9"/><circle cx="107.2" cy="223.3" r="0.9"/><circle cx="104.5" cy="205.4" r="0.9"/><circle cx="110.0" cy="211.6" r="0.9"/><circle cx="109.4" cy="215.5" r="0.9"/><circle cx="105.0" cy="223.4" r="0.9"/><circle cx="110.7" cy="221.4" r="0.9"/><circle cx="105.9" cy="223.9" r="0.9"/><circle cx="110.3" cy="218.9" r="0.9"/><circle cx="112.0" cy="224.0" r="0.9"/><circle cx="111.4" cy="213.7" r="0.9"/><circle cx="109.9" cy="199.3" r="0.9"/><circle cx="110.7" cy="223.4" r="0.9"/><circle cx="112.4" cy="211.3" r="0.9"/><circle cx="105.6" cy="211.7" r="0.9"/><circle cx="104.3" cy="222.6" r="0.9"/><circle cx="115.6" cy="224.6" r="0.9"/><circle cx="115.9" cy="221.7" r="0.9"/><circle cx="117.5" cy="224.4" r="0.9"/><circle cx="104.7" cy="219.2" r="0.9"/><circle cx="114.7" cy="217.1" r="0.9"/><circle cx="106.7" cy="206.6" r="0.9"/><circle cx="111.8" cy="219.5" r="0.9"/><circle cx="113.7" cy="222.4" r="0.9"/><circle cx="113.1" cy="222.9" r="0.9"/><circle cx="106.9" cy="211.6" r="0.9"/><circle cx="117.0" cy="223.5" r="0.9"/><circle cx="105.5" cy="222.7" r="0.9"/><circle cx="109.0" cy="223.8" r="0.9"/><circle cx="112.7" cy="219.1" r="0.9"/><circle cx="113.5" cy="222.3" r="0.9"/><circle cx="107.9" cy="222.9" r="0.9"/><circle cx="107.8" cy="216.5" r="0.9"/><circle cx="112.2" cy="223.6" r="0.9"/><circle cx="111.2" cy="218.0" r="0.9"/><circle cx="108.2" cy="203.0" r="0.9"/><circle cx="105.0" cy="224.5" r="0.9"/><circle cx="107.5" cy="201.8" r="0.9"/><circle cx="105.8" cy="222.6" r="0.9"/><circle cx="107.7" cy="217.9" r="0.9"/><circle cx="108.9" cy="222.1" r="0.9"/><circle cx="110.0" cy="224.3" r="0.9"/><circle cx="107.7" cy="224.1" r="0.9"/><circle cx="109.7" cy="221.3" r="0.9"/><circle cx="107.1" cy="224.5" r="0.9"/><circle cx="112.5" cy="213.6" r="0.9"/><circle cx="110.9" cy="214.5" r="0.9"/><circle cx="105.3" cy="218.4" r="0.9"/><circle cx="109.5" cy="208.8" r="0.9"/><circle cx="105.8" cy="224.4" r="0.9"/><circle cx="104.5" cy="205.7" r="0.9"/><circle cx="108.2" cy="215.4" r="0.9"/><circle cx="114.9" cy="221.1" r="0.9"/><circle cx="106.0" cy="206.5" r="0.9"/><circle cx="107.8" cy="223.6" r="0.9"/><circle cx="112.2" cy="221.3" r="0.9"/><circle cx="105.6" cy="223.8" r="0.9"/><circle cx="109.8" cy="221.4" r="0.9"/><circle cx="115.2" cy="218.2" r="0.9"/><circle cx="114.0" cy="213.2" r="0.9"/><circle cx="110.8" cy="206.2" r="0.9"/><circle cx="108.0" cy="216.9" r="0.9"/><circle cx="106.0" cy="220.9" r="0.9"/><circle cx="115.5" cy="223.8" r="0.9"/><circle cx="114.8" cy="213.2" r="0.9"/><circle cx="106.4" cy="195.7" r="0.9"/><circle cx="111.0" cy="224.5" r="0.9"/><circle cx="110.1" cy="219.6" r="0.9"/><circle cx="106.0" cy="222.4" r="0.9"/><circle cx="104.9" cy="223.6" r="0.9"/><circle cx="104.4" cy="222.1" r="0.9"/><circle cx="106.2" cy="216.9" r="0.9"/><circle cx="115.4" cy="214.0" r="0.9"/><circle cx="112.8" cy="212.9" r="0.9"/><circle cx="108.4" cy="219.0" r="0.9"/><circle cx="104.5" cy="220.4" r="0.9"/><circle cx="114.4" cy="216.5" r="0.9"/><circle cx="109.7" cy="224.1" r="0.9"/><circle cx="111.2" cy="224.1" r="0.9"/><circle cx="110.7" cy="220.9" r="0.9"/><circle cx="112.8" cy="223.3" r="0.9"/><circle cx="112.5" cy="221.6" r="0.9"/><circle cx="113.2" cy="223.1" r="0.9"/><circle cx="115.0" cy="221.5" r="0.9"/><circle cx="109.0" cy="222.2" r="0.9"/><circle cx="109.9" cy="217.5" r="0.9"/><circle cx="106.4" cy="207.6" r="0.9"/><circle cx="107.9" cy="219.7" r="0.9"/><circle cx="104.5" cy="212.9" r="0.9"/><circle cx="111.3" cy="219.3" r="0.9"/><circle cx="105.3" cy="224.5" r="0.9"/><circle cx="111.3" cy="223.7" r="0.9"/><circle cx="107.7" cy="221.3" r="0.9"/><circle cx="106.0" cy="216.8" r="0.9"/><circle cx="111.0" cy="222.2" r="0.9"/><circle cx="109.6" cy="214.9" r="0.9"/><circle cx="107.0" cy="205.3" r="0.9"/><circle cx="115.3" cy="223.8" r="0.9"/><circle cx="108.8" cy="216.4" r="0.9"/><circle cx="114.5" cy="218.3" r="0.9"/><circle cx="113.2" cy="222.1" r="0.9"/><circle cx="108.1" cy="219.7" r="0.9"/><circle cx="104.3" cy="219.2" r="0.9"/><circle cx="104.1" cy="220.2" r="0.9"/><circle cx="112.9" cy="223.1" r="0.9"/><circle cx="114.3" cy="221.2" r="0.9"/><circle cx="109.6" cy="224.2" r="0.9"/><circle cx="110.2" cy="220.0" r="0.9"/><circle cx="111.1" cy="221.3" r="0.9"/><circle cx="106.3" cy="215.4" r="0.9"/><circle cx="107.3" cy="222.8" r="0.9"/><circle cx="108.8" cy="220.0" r="0.9"/><circle cx="108.3" cy="223.1" r="0.9"/><circle cx="108.8" cy="223.6" r="0.9"/><circle cx="107.1" cy="214.2" r="0.9"/><circle cx="104.8" cy="220.6" r="0.9"/><circle cx="104.4" cy="202.3" r="0.9"/><circle cx="104.3" cy="223.6" r="0.9"/><circle cx="105.5" cy="221.5" r="0.9"/><circle cx="114.8" cy="220.5" r="0.9"/><circle cx="110.0" cy="219.8" r="0.9"/><circle cx="106.5" cy="223.3" r="0.9"/><circle cx="112.4" cy="223.1" r="0.9"/><circle cx="107.9" cy="214.8" r="0.9"/><circle cx="114.3" cy="213.3" r="0.9"/><circle cx="111.1" cy="206.2" r="0.9"/><circle cx="108.1" cy="196.9" r="0.9"/><circle cx="116.1" cy="224.2" r="0.9"/><circle cx="110.6" cy="222.0" r="0.9"/><circle cx="113.1" cy="221.7" r="0.9"/><circle cx="105.6" cy="223.6" r="0.9"/><circle cx="111.4" cy="217.7" r="0.9"/><circle cx="110.4" cy="216.0" r="0.9"/><circle cx="105.6" cy="206.5" r="0.9"/><circle cx="108.8" cy="220.4" r="0.9"/><circle cx="115.0" cy="216.9" r="0.9"/><circle cx="112.5" cy="216.4" r="0.9"/><circle cx="108.0" cy="217.1" r="0.9"/><circle cx="113.7" cy="222.9" r="0.9"/><circle cx="111.8" cy="214.4" r="0.9"/><circle cx="108.0" cy="218.9" r="0.9"/><circle cx="109.7" cy="221.2" r="0.9"/><circle cx="109.7" cy="201.1" r="0.9"/><circle cx="107.7" cy="206.1" r="0.9"/><circle cx="107.9" cy="219.8" r="0.9"/><circle cx="116.2" cy="221.9" r="0.9"/><circle cx="112.8" cy="223.8" r="0.9"/><circle cx="111.9" cy="220.7" r="0.9"/><circle cx="105.2" cy="214.8" r="0.9"/><circle cx="114.7" cy="215.2" r="0.9"/><circle cx="111.7" cy="222.7" r="0.9"/><circle cx="110.9" cy="204.3" r="0.9"/><circle cx="107.5" cy="224.3" r="0.9"/><circle cx="106.0" cy="220.6" r="0.9"/><circle cx="116.3" cy="224.1" r="0.9"/><circle cx="105.4" cy="218.8" r="0.9"/><circle cx="106.0" cy="196.4" r="0.9"/><circle cx="113.5" cy="222.8" r="0.9"/><circle cx="104.6" cy="200.8" r="0.9"/><circle cx="111.0" cy="212.3" r="0.9"/><circle cx="106.2" cy="218.7" r="0.9"/><circle cx="114.9" cy="218.7" r="0.9"/><circle cx="110.3" cy="223.0" r="0.9"/><circle cx="109.5" cy="221.0" r="0.9"/><circle cx="105.1" cy="217.7" r="0.9"/><circle cx="105.7" cy="219.8" r="0.9"/><circle cx="109.0" cy="221.2" r="0.9"/><circle cx="112.8" cy="205.7" r="0.9"/><circle cx="110.7" cy="223.9" r="0.9"/><circle cx="110.5" cy="215.7" r="0.9"/><circle cx="104.1" cy="212.5" r="0.9"/><circle cx="106.5" cy="202.9" r="0.9"/><circle cx="110.2" cy="216.5" r="0.9"/><circle cx="109.6" cy="207.6" r="0.9"/><circle cx="106.5" cy="220.8" r="0.9"/><circle cx="115.3" cy="222.5" r="0.9"/><circle cx="106.1" cy="223.6" r="0.9"/><circle cx="106.9" cy="208.9" r="0.9"/><circle cx="107.5" cy="193.4" r="0.9"/><circle cx="107.2" cy="221.1" r="0.9"/><circle cx="111.0" cy="223.0" r="0.9"/><circle cx="114.8" cy="224.5" r="0.9"/><circle cx="110.4" cy="219.5" r="0.9"/><circle cx="115.5" cy="219.2" r="0.9"/><circle cx="109.4" cy="189.4" r="0.9"/><circle cx="110.1" cy="218.7" r="0.9"/><circle cx="105.4" cy="204.4" r="0.9"/><circle cx="113.9" cy="224.1" r="0.9"/><circle cx="108.7" cy="211.2" r="0.9"/><circle cx="104.3" cy="223.7" r="0.9"/><circle cx="105.9" cy="221.8" r="0.9"/><circle cx="105.1" cy="224.4" r="0.9"/><circle cx="107.7" cy="224.1" r="0.9"/><circle cx="108.3" cy="217.3" r="0.9"/><circle cx="108.4" cy="218.7" r="0.9"/><circle cx="108.2" cy="218.5" r="0.9"/><circle cx="108.0" cy="200.3" r="0.9"/><circle cx="111.3" cy="221.0" r="0.9"/><circle cx="108.6" cy="191.9" r="0.9"/><circle cx="114.6" cy="215.8" r="0.9"/><circle cx="111.4" cy="222.6" r="0.9"/><circle cx="105.7" cy="200.7" r="0.9"/><circle cx="108.4" cy="213.7" r="0.9"/><circle cx="113.1" cy="215.8" r="0.9"/><circle cx="106.1" cy="222.5" r="0.9"/><circle cx="113.8" cy="210.1" r="0.9"/><circle cx="104.7" cy="218.5" r="0.9"/><circle cx="107.5" cy="216.7" r="0.9"/><circle cx="106.8" cy="194.2" r="0.9"/><circle cx="110.7" cy="221.7" r="0.9"/><circle cx="105.9" cy="221.4" r="0.9"/><circle cx="117.4" cy="223.8" r="0.9"/><circle cx="110.7" cy="192.8" r="0.9"/><circle cx="109.5" cy="223.4" r="0.9"/><circle cx="112.0" cy="219.9" r="0.9"/><circle cx="110.1" cy="214.8" r="0.9"/><circle cx="109.2" cy="221.3" r="0.9"/><circle cx="112.3" cy="202.7" r="0.9"/><circle cx="104.2" cy="206.4" r="0.9"/><circle cx="107.6" cy="222.2" r="0.9"/><circle cx="114.5" cy="218.5" r="0.9"/><circle cx="107.0" cy="223.9" r="0.9"/><circle cx="109.2" cy="221.5" r="0.9"/><circle cx="107.3" cy="219.5" r="0.9"/><circle cx="107.0" cy="223.4" r="0.9"/><circle cx="104.1" cy="199.9" r="0.9"/><circle cx="111.9" cy="205.2" r="0.9"/><circle cx="104.1" cy="207.5" r="0.9"/><circle cx="109.3" cy="215.0" r="0.9"/><circle cx="113.8" cy="223.2" r="0.9"/><circle cx="111.1" cy="220.8" r="0.9"/><circle cx="111.4" cy="222.7" r="0.9"/><circle cx="105.2" cy="224.1" r="0.9"/><circle cx="109.2" cy="220.4" r="0.9"/><circle cx="115.8" cy="222.3" r="0.9"/><circle cx="107.3" cy="223.9" r="0.9"/><circle cx="109.7" cy="221.7" r="0.9"/><circle cx="106.0" cy="221.9" r="0.9"/><circle cx="109.8" cy="189.7" r="0.9"/><circle cx="105.5" cy="222.4" r="0.9"/><circle cx="105.0" cy="213.4" r="0.9"/><circle cx="110.3" cy="190.4" r="0.9"/><circle cx="109.5" cy="217.9" r="0.9"/><circle cx="114.6" cy="220.8" r="0.9"/><circle cx="109.4" cy="223.7" r="0.9"/><circle cx="115.3" cy="222.0" r="0.9"/><circle cx="105.3" cy="224.0" r="0.9"/><circle cx="113.8" cy="222.1" r="0.9"/><circle cx="107.4" cy="217.1" r="0.9"/><circle cx="106.4" cy="198.5" r="0.9"/><circle cx="111.6" cy="219.5" r="0.9"/><circle cx="113.6" cy="223.3" r="0.9"/><circle cx="104.9" cy="220.9" r="0.9"/><circle cx="110.0" cy="190.8" r="0.9"/><circle cx="113.1" cy="224.6" r="0.9"/><circle cx="111.5" cy="219.0" r="0.9"/><circle cx="108.7" cy="222.1" r="0.9"/><circle cx="111.3" cy="222.3" r="0.9"/><circle cx="115.3" cy="223.7" r="0.9"/><circle cx="108.3" cy="215.4" r="0.9"/><circle cx="106.5" cy="210.6" r="0.9"/><circle cx="107.0" cy="217.1" r="0.9"/><circle cx="109.5" cy="218.8" r="0.9"/><circle cx="112.4" cy="224.0" r="0.9"/><circle cx="110.7" cy="192.3" r="0.9"/><circle cx="109.4" cy="224.1" r="0.9"/><circle cx="108.0" cy="219.6" r="0.9"/><circle cx="110.3" cy="220.8" r="0.9"/><circle cx="104.5" cy="220.1" r="0.9"/><circle cx="112.9" cy="218.0" r="0.9"/><circle cx="106.1" cy="222.3" r="0.9"/><circle cx="107.2" cy="224.1" r="0.9"/><circle cx="104.8" cy="202.5" r="0.9"/><circle cx="104.9" cy="223.6" r="0.9"/><circle cx="113.3" cy="223.5" r="0.9"/><circle cx="104.5" cy="191.5" r="0.9"/><circle cx="110.9" cy="222.3" r="0.9"/><circle cx="107.4" cy="219.4" r="0.9"/><circle cx="104.5" cy="211.2" r="0.9"/><circle cx="107.3" cy="204.6" r="0.9"/><circle cx="108.6" cy="220.8" r="0.9"/><circle cx="115.4" cy="220.8" r="0.9"/><circle cx="106.5" cy="194.8" r="0.9"/><circle cx="113.0" cy="222.3" r="0.9"/><circle cx="110.9" cy="220.4" r="0.9"/><circle cx="111.4" cy="223.9" r="0.9"/><circle cx="104.3" cy="211.6" r="0.9"/><circle cx="108.2" cy="224.4" r="0.9"/><circle cx="107.1" cy="223.1" r="0.9"/><circle cx="110.5" cy="200.2" r="0.9"/><circle cx="110.1" cy="206.3" r="0.9"/><circle cx="105.2" cy="213.2" r="0.9"/><circle cx="110.8" cy="199.1" r="0.9"/><circle cx="104.5" cy="222.0" r="0.9"/><circle cx="110.7" cy="223.3" r="0.9"/><circle cx="111.0" cy="221.9" r="0.9"/><circle cx="107.2" cy="196.4" r="0.9"/><circle cx="110.0" cy="218.4" r="0.9"/><circle cx="109.0" cy="211.9" r="0.9"/><circle cx="110.8" cy="223.7" r="0.9"/><circle cx="107.3" cy="222.2" r="0.9"/><circle cx="110.9" cy="209.9" r="0.9"/><circle cx="111.8" cy="208.0" r="0.9"/><circle cx="110.0" cy="217.3" r="0.9"/><circle cx="115.6" cy="223.3" r="0.9"/><circle cx="110.4" cy="222.7" r="0.9"/><circle cx="109.7" cy="221.9" r="0.9"/><circle cx="105.5" cy="199.9" r="0.9"/><circle cx="112.2" cy="206.2" r="0.9"/><circle cx="110.9" cy="221.3" r="0.9"/><circle cx="106.5" cy="224.6" r="0.9"/><circle cx="111.9" cy="223.5" r="0.9"/><circle cx="105.8" cy="222.6" r="0.9"/><circle cx="106.1" cy="200.9" r="0.9"/><circle cx="116.3" cy="222.4" r="0.9"/><circle cx="111.2" cy="223.2" r="0.9"/><circle cx="106.4" cy="218.4" r="0.9"/><circle cx="108.2" cy="208.2" r="0.9"/><circle cx="107.7" cy="222.4" r="0.9"/><circle cx="104.2" cy="222.7" r="0.9"/><circle cx="106.7" cy="205.7" r="0.9"/><circle cx="108.5" cy="214.4" r="0.9"/><circle cx="105.6" cy="219.3" r="0.9"/><circle cx="110.7" cy="224.4" r="0.9"/><circle cx="115.1" cy="213.3" r="0.9"/><circle cx="112.3" cy="219.9" r="0.9"/><circle cx="108.6" cy="222.7" r="0.9"/><circle cx="104.3" cy="192.7" r="0.9"/><circle cx="108.5" cy="223.8" r="0.9"/><circle cx="112.4" cy="221.8" r="0.9"/><circle cx="104.1" cy="223.2" r="0.9"/><circle cx="110.8" cy="220.9" r="0.9"/><circle cx="112.5" cy="217.3" r="0.9"/><circle cx="108.9" cy="220.3" r="0.9"/><circle cx="109.6" cy="205.3" r="0.9"/><circle cx="115.3" cy="223.9" r="0.9"/><circle cx="106.3" cy="205.5" r="0.9"/><circle cx="107.5" cy="224.5" r="0.9"/><circle cx="104.3" cy="222.3" r="0.9"/><circle cx="113.8" cy="217.9" r="0.9"/><circle cx="104.9" cy="216.7" r="0.9"/><circle cx="106.0" cy="215.6" r="0.9"/><circle cx="112.6" cy="220.3" r="0.9"/><circle cx="109.3" cy="215.4" r="0.9"/><circle cx="108.1" cy="221.5" r="0.9"/><circle cx="112.0" cy="222.0" r="0.9"/><circle cx="136.1" cy="223.0" r="0.9"/><circle cx="134.3" cy="216.8" r="0.9"/><circle cx="138.9" cy="224.5" r="0.9"/><circle cx="131.0" cy="217.8" r="0.9"/><circle cx="141.1" cy="202.0" r="0.9"/><circle cx="131.2" cy="212.4" r="0.9"/><circle cx="133.0" cy="207.6" r="0.9"/><circle cx="136.9" cy="202.2" r="0.9"/><circle cx="135.9" cy="222.9" r="0.9"/><circle cx="133.9" cy="199.6" r="0.9"/><circle cx="134.0" cy="220.5" r="0.9"/><circle cx="142.0" cy="218.3" r="0.9"/><circle cx="140.8" cy="195.2" r="0.9"/><circle cx="130.8" cy="219.8" r="0.9"/><circle cx="140.9" cy="221.2" r="0.9"/><circle cx="135.9" cy="224.1" r="0.9"/><circle cx="142.0" cy="224.0" r="0.9"/><circle cx="134.4" cy="221.0" r="0.9"/><circle cx="134.2" cy="221.4" r="0.9"/><circle cx="138.8" cy="218.5" r="0.9"/><circle cx="136.8" cy="218.1" r="0.9"/><circle cx="133.8" cy="221.1" r="0.9"/><circle cx="137.1" cy="219.1" r="0.9"/><circle cx="139.2" cy="206.7" r="0.9"/><circle cx="134.0" cy="223.4" r="0.9"/><circle cx="140.2" cy="223.7" r="0.9"/><circle cx="140.4" cy="198.9" r="0.9"/><circle cx="139.5" cy="220.8" r="0.9"/><circle cx="138.5" cy="220.1" r="0.9"/><circle cx="133.0" cy="222.2" r="0.9"/><circle cx="139.3" cy="214.8" r="0.9"/><circle cx="133.6" cy="213.5" r="0.9"/><circle cx="132.5" cy="217.3" r="0.9"/><circle cx="136.8" cy="219.5" r="0.9"/><circle cx="132.8" cy="218.2" r="0.9"/><circle cx="131.4" cy="222.8" r="0.9"/><circle cx="137.9" cy="218.4" r="0.9"/><circle cx="141.9" cy="222.8" r="0.9"/><circle cx="129.9" cy="223.8" r="0.9"/><circle cx="135.8" cy="222.3" r="0.9"/><circle cx="130.6" cy="223.8" r="0.9"/><circle cx="138.5" cy="204.4" r="0.9"/><circle cx="138.5" cy="208.6" r="0.9"/><circle cx="138.8" cy="196.3" r="0.9"/><circle cx="129.6" cy="223.6" r="0.9"/><circle cx="139.8" cy="204.0" r="0.9"/><circle cx="137.0" cy="218.0" r="0.9"/><circle cx="138.5" cy="207.4" r="0.9"/><circle cx="139.6" cy="204.2" r="0.9"/><circle cx="141.2" cy="216.2" r="0.9"/><circle cx="135.7" cy="222.5" r="0.9"/><circle cx="141.3" cy="217.5" r="0.9"/><circle cx="131.9" cy="224.4" r="0.9"/><circle cx="137.0" cy="211.8" r="0.9"/><circle cx="132.0" cy="223.4" r="0.9"/><circle cx="136.0" cy="212.9" r="0.9"/><circle cx="141.2" cy="214.6" r="0.9"/><circle cx="141.9" cy="220.0" r="0.9"/><circle cx="136.0" cy="223.6" r="0.9"/><circle cx="137.6" cy="193.4" r="0.9"/><circle cx="135.1" cy="215.7" r="0.9"/><circle cx="141.1" cy="224.5" r="0.9"/><circle cx="137.0" cy="210.3" r="0.9"/><circle cx="133.2" cy="218.4" r="0.9"/><circle cx="140.3" cy="223.9" r="0.9"/><circle cx="137.0" cy="218.2" r="0.9"/><circle cx="135.6" cy="222.7" r="0.9"/><circle cx="141.6" cy="194.3" r="0.9"/><circle cx="139.7" cy="215.0" r="0.9"/><circle cx="129.0" cy="224.0" r="0.9"/><circle cx="141.8" cy="222.2" r="0.9"/><circle cx="136.1" cy="220.5" r="0.9"/><circle cx="134.4" cy="209.1" r="0.9"/><circle cx="141.3" cy="217.2" r="0.9"/><circle cx="138.0" cy="199.5" r="0.9"/><circle cx="138.6" cy="224.4" r="0.9"/><circle cx="140.2" cy="204.8" r="0.9"/><circle cx="132.9" cy="219.6" r="0.9"/><circle cx="142.0" cy="214.4" r="0.9"/><circle cx="137.3" cy="221.8" r="0.9"/><circle cx="130.2" cy="222.3" r="0.9"/><circle cx="136.9" cy="222.4" r="0.9"/><circle cx="133.1" cy="204.7" r="0.9"/><circle cx="141.9" cy="222.3" r="0.9"/><circle cx="138.5" cy="221.7" r="0.9"/><circle cx="135.0" cy="222.2" r="0.9"/><circle cx="139.9" cy="224.6" r="0.9"/><circle cx="139.9" cy="222.0" r="0.9"/><circle cx="138.9" cy="221.7" r="0.9"/><circle cx="133.5" cy="219.6" r="0.9"/><circle cx="131.3" cy="220.0" r="0.9"/><circle cx="140.7" cy="220.0" r="0.9"/><circle cx="140.9" cy="223.1" r="0.9"/><circle cx="134.3" cy="224.4" r="0.9"/><circle cx="135.6" cy="217.5" r="0.9"/><circle cx="136.6" cy="210.8" r="0.9"/><circle cx="133.8" cy="221.0" r="0.9"/><circle cx="141.5" cy="223.1" r="0.9"/><circle cx="137.1" cy="220.3" r="0.9"/><circle cx="139.6" cy="210.4" r="0.9"/><circle cx="138.1" cy="218.0" r="0.9"/><circle cx="131.3" cy="219.5" r="0.9"/><circle cx="131.1" cy="219.3" r="0.9"/><circle cx="132.0" cy="220.7" r="0.9"/><circle cx="136.4" cy="223.4" r="0.9"/><circle cx="138.5" cy="214.6" r="0.9"/><circle cx="142.1" cy="218.7" r="0.9"/><circle cx="141.1" cy="224.4" r="0.9"/><circle cx="139.8" cy="211.4" r="0.9"/><circle cx="134.8" cy="224.3" r="0.9"/><circle cx="134.3" cy="224.6" r="0.9"/><circle cx="139.2" cy="216.0" r="0.9"/><circle cx="135.7" cy="213.1" r="0.9"/><circle cx="140.6" cy="198.8" r="0.9"/><circle cx="139.6" cy="213.1" r="0.9"/><circle cx="131.7" cy="220.3" r="0.9"/><circle cx="140.8" cy="199.0" r="0.9"/><circle cx="133.1" cy="210.3" r="0.9"/><circle cx="134.6" cy="219.4" r="0.9"/><circle cx="141.9" cy="216.5" r="0.9"/><circle cx="138.8" cy="215.0" r="0.9"/><circle cx="140.8" cy="213.4" r="0.9"/><circle cx="141.5" cy="212.4" r="0.9"/><circle cx="133.9" cy="219.2" r="0.9"/><circle cx="140.0" cy="219.8" r="0.9"/><circle cx="135.3" cy="219.1" r="0.9"/><circle cx="131.2" cy="217.8" r="0.9"/><circle cx="132.6" cy="214.1" r="0.9"/><circle cx="131.4" cy="222.5" r="0.9"/><circle cx="138.5" cy="216.0" r="0.9"/><circle cx="138.2" cy="222.7" r="0.9"/><circle cx="140.8" cy="211.7" r="0.9"/><circle cx="134.5" cy="217.7" r="0.9"/><circle cx="139.6" cy="221.7" r="0.9"/><circle cx="136.8" cy="198.7" r="0.9"/><circle cx="134.5" cy="219.7" r="0.9"/><circle cx="139.1" cy="210.8" r="0.9"/><circle cx="136.6" cy="209.3" r="0.9"/><circle cx="142.1" cy="223.0" r="0.9"/><circle cx="134.2" cy="222.3" r="0.9"/><circle cx="133.8" cy="217.4" r="0.9"/><circle cx="141.1" cy="212.6" r="0.9"/><circle cx="140.8" cy="219.5" r="0.9"/><circle cx="132.2" cy="221.2" r="0.9"/><circle cx="134.2" cy="224.1" r="0.9"/><circle cx="137.3" cy="215.3" r="0.9"/><circle cx="133.6" cy="205.7" r="0.9"/><circle cx="137.7" cy="198.1" r="0.9"/><circle cx="139.6" cy="223.3" r="0.9"/><circle cx="140.6" cy="199.7" r="0.9"/><circle cx="132.2" cy="219.7" r="0.9"/><circle cx="133.8" cy="224.0" r="0.9"/><circle cx="134.3" cy="217.0" r="0.9"/><circle cx="138.7" cy="221.3" r="0.9"/><circle cx="135.2" cy="200.9" r="0.9"/><circle cx="142.0" cy="223.4" r="0.9"/><circle cx="131.5" cy="221.1" r="0.9"/><circle cx="137.2" cy="218.1" r="0.9"/><circle cx="138.9" cy="222.5" r="0.9"/><circle cx="141.6" cy="217.0" r="0.9"/><circle cx="139.0" cy="206.2" r="0.9"/><circle cx="140.6" cy="223.9" r="0.9"/><circle cx="137.3" cy="217.2" r="0.9"/><circle cx="134.1" cy="213.9" r="0.9"/><circle cx="137.9" cy="200.6" r="0.9"/><circle cx="137.7" cy="223.5" r="0.9"/><circle cx="138.1" cy="207.6" r="0.9"/><circle cx="139.7" cy="223.4" r="0.9"/><circle cx="137.3" cy="218.3" r="0.9"/><circle cx="134.9" cy="223.6" r="0.9"/><circle cx="136.8" cy="221.5" r="0.9"/><circle cx="137.0" cy="219.2" r="0.9"/><circle cx="135.2" cy="193.6" r="0.9"/><circle cx="138.0" cy="193.4" r="0.9"/><circle cx="138.1" cy="213.1" r="0.9"/><circle cx="139.0" cy="221.4" r="0.9"/><circle cx="135.9" cy="219.3" r="0.9"/><circle cx="140.0" cy="208.2" r="0.9"/><circle cx="137.6" cy="210.6" r="0.9"/><circle cx="134.7" cy="223.7" r="0.9"/><circle cx="136.0" cy="202.7" r="0.9"/><circle cx="140.0" cy="220.4" r="0.9"/><circle cx="141.4" cy="217.4" r="0.9"/><circle cx="139.5" cy="215.9" r="0.9"/><circle cx="133.7" cy="216.5" r="0.9"/><circle cx="138.9" cy="222.7" r="0.9"/><circle cx="137.1" cy="216.1" r="0.9"/><circle cx="141.6" cy="200.1" r="0.9"/><circle cx="131.8" cy="209.7" r="0.9"/><circle cx="139.7" cy="222.5" r="0.9"/><circle cx="136.8" cy="215.4" r="0.9"/><circle cx="140.6" cy="222.9" r="0.9"/><circle cx="137.8" cy="221.5" r="0.9"/><circle cx="128.8" cy="224.0" r="0.9"/><circle cx="139.4" cy="209.9" r="0.9"/><circle cx="137.8" cy="211.4" r="0.9"/><circle cx="137.0" cy="195.9" r="0.9"/><circle cx="132.3" cy="217.1" r="0.9"/><circle cx="136.0" cy="215.6" r="0.9"/><circle cx="137.8" cy="215.7" r="0.9"/><circle cx="137.9" cy="204.7" r="0.9"/><circle cx="133.8" cy="200.9" r="0.9"/><circle cx="131.5" cy="224.3" r="0.9"/><circle cx="139.3" cy="210.6" r="0.9"/><circle cx="137.5" cy="216.4" r="0.9"/><circle cx="139.6" cy="217.1" r="0.9"/><circle cx="135.6" cy="221.1" r="0.9"/><circle cx="133.6" cy="220.8" r="0.9"/><circle cx="140.3" cy="213.3" r="0.9"/><circle cx="133.1" cy="220.2" r="0.9"/><circle cx="130.6" cy="221.0" r="0.9"/><circle cx="135.0" cy="221.5" r="0.9"/><circle cx="135.8" cy="223.4" r="0.9"/><circle cx="132.7" cy="222.0" r="0.9"/><circle cx="141.7" cy="213.6" r="0.9"/><circle cx="133.1" cy="221.4" r="0.9"/><circle cx="131.1" cy="223.8" r="0.9"/><circle cx="138.3" cy="224.0" r="0.9"/><circle cx="131.8" cy="221.7" r="0.9"/><circle cx="137.4" cy="195.1" r="0.9"/><circle cx="135.2" cy="224.4" r="0.9"/><circle cx="135.8" cy="206.3" r="0.9"/><circle cx="139.7" cy="200.6" r="0.9"/><circle cx="131.5" cy="223.1" r="0.9"/><circle cx="140.1" cy="192.1" r="0.9"/><circle cx="134.0" cy="206.9" r="0.9"/><circle cx="138.1" cy="214.6" r="0.9"/><circle cx="141.9" cy="222.2" r="0.9"/><circle cx="139.8" cy="223.0" r="0.9"/><circle cx="141.7" cy="205.8" r="0.9"/><circle cx="137.4" cy="218.6" r="0.9"/><circle cx="132.0" cy="222.1" r="0.9"/><circle cx="136.0" cy="213.1" r="0.9"/><circle cx="139.9" cy="217.5" r="0.9"/><circle cx="132.7" cy="215.3" r="0.9"/><circle cx="138.9" cy="215.4" r="0.9"/><circle cx="137.4" cy="197.6" r="0.9"/><circle cx="141.3" cy="223.5" r="0.9"/><circle cx="136.5" cy="206.9" r="0.9"/><circle cx="135.8" cy="210.3" r="0.9"/><circle cx="134.3" cy="217.2" r="0.9"/><circle cx="139.4" cy="193.5" r="0.9"/><circle cx="141.6" cy="223.5" r="0.9"/><circle cx="136.9" cy="223.5" r="0.9"/><circle cx="139.3" cy="222.0" r="0.9"/><circle cx="139.5" cy="191.4" r="0.9"/><circle cx="133.9" cy="205.3" r="0.9"/><circle cx="137.4" cy="224.0" r="0.9"/><circle cx="139.2" cy="201.2" r="0.9"/><circle cx="137.7" cy="222.5" r="0.9"/><circle cx="134.5" cy="218.0" r="0.9"/><circle cx="133.8" cy="220.1" r="0.9"/><circle cx="134.7" cy="219.3" r="0.9"/><circle cx="132.4" cy="209.2" r="0.9"/><circle cx="133.5" cy="213.4" r="0.9"/><circle cx="133.7" cy="223.1" r="0.9"/><circle cx="136.6" cy="223.5" r="0.9"/><circle cx="141.2" cy="220.5" r="0.9"/><circle cx="139.6" cy="209.3" r="0.9"/><circle cx="137.2" cy="217.1" r="0.9"/><circle cx="139.9" cy="205.2" r="0.9"/><circle cx="135.8" cy="222.5" r="0.9"/><circle cx="135.4" cy="195.2" r="0.9"/><circle cx="138.7" cy="223.2" r="0.9"/><circle cx="139.8" cy="206.1" r="0.9"/><circle cx="138.4" cy="221.1" r="0.9"/><circle cx="140.6" cy="221.3" r="0.9"/><circle cx="139.7" cy="224.2" r="0.9"/><circle cx="140.2" cy="224.6" r="0.9"/><circle cx="130.7" cy="219.1" r="0.9"/><circle cx="142.1" cy="221.0" r="0.9"/><circle cx="138.5" cy="210.3" r="0.9"/><circle cx="137.7" cy="221.6" r="0.9"/><circle cx="138.4" cy="214.5" r="0.9"/><circle cx="134.4" cy="216.5" r="0.9"/><circle cx="134.2" cy="220.8" r="0.9"/><circle cx="141.1" cy="208.0" r="0.9"/><circle cx="138.7" cy="208.1" r="0.9"/><circle cx="141.7" cy="222.5" r="0.9"/><circle cx="133.6" cy="216.3" r="0.9"/><circle cx="137.8" cy="218.5" r="0.9"/><circle cx="137.6" cy="224.0" r="0.9"/><circle cx="130.7" cy="218.1" r="0.9"/><circle cx="139.0" cy="207.7" r="0.9"/><circle cx="135.3" cy="220.1" r="0.9"/><circle cx="135.6" cy="222.8" r="0.9"/><circle cx="132.7" cy="220.4" r="0.9"/><circle cx="137.8" cy="219.6" r="0.9"/><circle cx="138.5" cy="224.0" r="0.9"/><circle cx="141.1" cy="218.5" r="0.9"/><circle cx="140.8" cy="209.3" r="0.9"/><circle cx="142.0" cy="207.8" r="0.9"/><circle cx="141.9" cy="222.2" r="0.9"/><circle cx="138.9" cy="220.9" r="0.9"/><circle cx="133.7" cy="222.6" r="0.9"/><circle cx="137.2" cy="220.0" r="0.9"/><circle cx="130.5" cy="223.4" r="0.9"/><circle cx="138.0" cy="213.5" r="0.9"/><circle cx="134.9" cy="215.4" r="0.9"/><circle cx="137.3" cy="218.3" r="0.9"/><circle cx="139.5" cy="220.8" r="0.9"/><circle cx="131.5" cy="216.0" r="0.9"/><circle cx="140.8" cy="222.3" r="0.9"/><circle cx="130.1" cy="220.9" r="0.9"/><circle cx="136.8" cy="217.7" r="0.9"/><circle cx="133.5" cy="218.2" r="0.9"/><circle cx="129.9" cy="222.5" r="0.9"/><circle cx="137.7" cy="207.1" r="0.9"/><circle cx="133.3" cy="223.7" r="0.9"/><circle cx="134.4" cy="202.0" r="0.9"/><circle cx="140.2" cy="223.5" r="0.9"/><circle cx="133.0" cy="224.0" r="0.9"/><circle cx="141.5" cy="222.7" r="0.9"/><circle cx="137.7" cy="223.7" r="0.9"/><circle cx="136.9" cy="204.1" r="0.9"/><circle cx="131.5" cy="216.2" r="0.9"/><circle cx="141.3" cy="194.4" r="0.9"/><circle cx="131.2" cy="221.9" r="0.9"/><circle cx="140.5" cy="203.3" r="0.9"/><circle cx="137.7" cy="212.7" r="0.9"/><circle cx="136.4" cy="218.3" r="0.9"/><circle cx="131.7" cy="216.6" r="0.9"/><circle cx="138.1" cy="197.9" r="0.9"/><circle cx="131.7" cy="211.4" r="0.9"/><circle cx="139.8" cy="216.0" r="0.9"/><circle cx="139.1" cy="219.3" r="0.9"/><circle cx="133.8" cy="209.6" r="0.9"/><circle cx="137.7" cy="210.3" r="0.9"/><circle cx="133.6" cy="213.9" r="0.9"/><circle cx="139.4" cy="215.3" r="0.9"/><circle cx="132.5" cy="221.8" r="0.9"/><circle cx="132.4" cy="220.5" r="0.9"/><circle cx="133.5" cy="223.8" r="0.9"/><circle cx="142.0" cy="200.1" r="0.9"/><circle cx="140.3" cy="219.0" r="0.9"/><circle cx="136.1" cy="215.5" r="0.9"/><circle cx="140.4" cy="208.3" r="0.9"/><circle cx="134.6" cy="223.9" r="0.9"/><circle cx="132.2" cy="223.3" r="0.9"/><circle cx="141.1" cy="220.8" r="0.9"/><circle cx="129.5" cy="224.0" r="0.9"/><circle cx="139.9" cy="221.3" r="0.9"/><circle cx="141.8" cy="215.2" r="0.9"/><circle cx="131.8" cy="216.6" r="0.9"/><circle cx="140.6" cy="224.2" r="0.9"/><circle cx="139.8" cy="221.1" r="0.9"/><circle cx="129.9" cy="222.5" r="0.9"/><circle cx="137.1" cy="210.2" r="0.9"/><circle cx="136.0" cy="204.1" r="0.9"/><circle cx="135.2" cy="221.2" r="0.9"/><circle cx="135.9" cy="215.1" r="0.9"/><circle cx="135.4" cy="220.4" r="0.9"/><circle cx="130.2" cy="217.6" r="0.9"/><circle cx="133.3" cy="224.5" r="0.9"/><circle cx="133.8" cy="222.5" r="0.9"/><circle cx="138.8" cy="214.5" r="0.9"/><circle cx="138.7" cy="223.7" r="0.9"/><circle cx="140.6" cy="196.3" r="0.9"/><circle cx="138.3" cy="219.7" r="0.9"/><circle cx="141.0" cy="224.1" r="0.9"/><circle cx="137.4" cy="219.5" r="0.9"/><circle cx="136.4" cy="205.2" r="0.9"/><circle cx="132.4" cy="209.7" r="0.9"/><circle cx="139.9" cy="207.4" r="0.9"/><circle cx="137.5" cy="219.5" r="0.9"/><circle cx="132.9" cy="216.6" r="0.9"/><circle cx="137.9" cy="207.8" r="0.9"/><circle cx="141.6" cy="222.2" r="0.9"/><circle cx="138.2" cy="216.5" r="0.9"/><circle cx="134.0" cy="223.2" r="0.9"/><circle cx="140.1" cy="220.9" r="0.9"/><circle cx="135.0" cy="224.2" r="0.9"/><circle cx="130.9" cy="215.0" r="0.9"/><circle cx="131.4" cy="218.2" r="0.9"/><circle cx="141.8" cy="219.4" r="0.9"/><circle cx="130.7" cy="223.6" r="0.9"/><circle cx="140.4" cy="207.8" r="0.9"/><circle cx="129.9" cy="221.6" r="0.9"/><circle cx="137.2" cy="206.9" r="0.9"/><circle cx="134.6" cy="215.5" r="0.9"/><circle cx="137.1" cy="201.6" r="0.9"/><circle cx="130.7" cy="223.1" r="0.9"/><circle cx="135.3" cy="222.7" r="0.9"/><circle cx="140.3" cy="205.0" r="0.9"/><circle cx="136.8" cy="222.8" r="0.9"/><circle cx="131.5" cy="222.7" r="0.9"/><circle cx="141.0" cy="193.4" r="0.9"/><circle cx="141.0" cy="213.7" r="0.9"/><circle cx="136.7" cy="214.7" r="0.9"/><circle cx="136.0" cy="212.1" r="0.9"/><circle cx="132.3" cy="208.6" r="0.9"/><circle cx="130.2" cy="224.0" r="0.9"/><circle cx="134.9" cy="223.1" r="0.9"/><circle cx="131.4" cy="221.3" r="0.9"/><circle cx="141.9" cy="204.8" r="0.9"/><circle cx="138.2" cy="222.7" r="0.9"/><circle cx="133.9" cy="223.8" r="0.9"/><circle cx="137.7" cy="220.2" r="0.9"/><circle cx="131.8" cy="223.8" r="0.9"/><circle cx="141.3" cy="217.1" r="0.9"/><circle cx="136.6" cy="221.8" r="0.9"/><circle cx="138.9" cy="220.6" r="0.9"/><circle cx="132.2" cy="222.8" r="0.9"/><circle cx="136.9" cy="215.2" r="0.9"/><circle cx="138.9" cy="224.4" r="0.9"/><circle cx="135.2" cy="221.8" r="0.9"/><circle cx="132.2" cy="212.7" r="0.9"/><circle cx="137.0" cy="213.0" r="0.9"/><circle cx="140.8" cy="205.6" r="0.9"/><circle cx="136.6" cy="217.0" r="0.9"/><circle cx="141.9" cy="223.2" r="0.9"/><circle cx="137.2" cy="222.8" r="0.9"/><circle cx="141.4" cy="197.9" r="0.9"/><circle cx="129.4" cy="224.4" r="0.9"/><circle cx="138.1" cy="222.1" r="0.9"/><circle cx="138.3" cy="203.5" r="0.9"/><circle cx="134.5" cy="224.1" r="0.9"/><circle cx="141.1" cy="224.0" r="0.9"/><circle cx="130.8" cy="222.5" r="0.9"/><circle cx="137.0" cy="215.2" r="0.9"/><circle cx="133.9" cy="223.4" r="0.9"/><circle cx="141.9" cy="197.2" r="0.9"/><circle cx="139.7" cy="223.8" r="0.9"/><circle cx="132.6" cy="222.1" r="0.9"/><circle cx="132.8" cy="214.7" r="0.9"/><circle cx="130.8" cy="216.4" r="0.9"/><circle cx="132.8" cy="218.8" r="0.9"/><circle cx="141.4" cy="220.6" r="0.9"/><circle cx="140.8" cy="219.7" r="0.9"/><circle cx="140.5" cy="208.0" r="0.9"/><circle cx="137.0" cy="206.9" r="0.9"/><circle cx="136.2" cy="222.8" r="0.9"/><circle cx="137.8" cy="216.9" r="0.9"/><circle cx="140.2" cy="220.7" r="0.9"/><circle cx="129.3" cy="221.2" r="0.9"/><circle cx="134.4" cy="209.2" r="0.9"/><circle cx="137.9" cy="216.2" r="0.9"/><circle cx="131.5" cy="223.4" r="0.9"/><circle cx="141.6" cy="212.9" r="0.9"/><circle cx="135.8" cy="192.7" r="0.9"/><circle cx="141.9" cy="214.3" r="0.9"/><circle cx="134.1" cy="213.6" r="0.9"/><circle cx="132.2" cy="224.5" r="0.9"/><circle cx="138.2" cy="198.0" r="0.9"/><circle cx="138.0" cy="224.0" r="0.9"/><circle cx="142.0" cy="203.0" r="0.9"/><circle cx="136.0" cy="224.6" r="0.9"/><circle cx="141.2" cy="211.9" r="0.9"/><circle cx="141.0" cy="223.6" r="0.9"/><circle cx="142.0" cy="224.4" r="0.9"/><circle cx="135.5" cy="216.0" r="0.9"/><circle cx="137.1" cy="213.4" r="0.9"/><circle cx="130.0" cy="220.1" r="0.9"/><circle cx="135.6" cy="217.8" r="0.9"/><circle cx="134.8" cy="221.6" r="0.9"/><circle cx="132.1" cy="218.6" r="0.9"/><circle cx="140.7" cy="210.9" r="0.9"/><circle cx="133.4" cy="224.4" r="0.9"/><circle cx="131.4" cy="223.0" r="0.9"/><circle cx="132.0" cy="218.4" r="0.9"/><circle cx="130.0" cy="220.5" r="0.9"/><circle cx="139.7" cy="217.2" r="0.9"/><circle cx="137.9" cy="210.2" r="0.9"/><circle cx="137.3" cy="216.5" r="0.9"/><circle cx="135.5" cy="222.0" r="0.9"/><circle cx="141.8" cy="214.8" r="0.9"/><circle cx="135.2" cy="220.4" r="0.9"/><circle cx="136.1" cy="223.6" r="0.9"/><circle cx="138.9" cy="218.7" r="0.9"/><circle cx="141.5" cy="211.0" r="0.9"/><circle cx="140.6" cy="222.3" r="0.9"/><circle cx="141.0" cy="217.5" r="0.9"/><circle cx="135.3" cy="203.8" r="0.9"/><circle cx="141.7" cy="207.4" r="0.9"/><circle cx="140.4" cy="217.0" r="0.9"/><circle cx="134.4" cy="222.0" r="0.9"/><circle cx="140.5" cy="209.2" r="0.9"/><circle cx="141.7" cy="216.0" r="0.9"/><circle cx="139.4" cy="221.9" r="0.9"/><circle cx="139.5" cy="218.5" r="0.9"/><circle cx="140.4" cy="223.2" r="0.9"/><circle cx="140.9" cy="221.4" r="0.9"/><circle cx="139.9" cy="218.6" r="0.9"/><circle cx="130.4" cy="223.4" r="0.9"/><circle cx="132.7" cy="222.5" r="0.9"/><circle cx="132.6" cy="215.1" r="0.9"/><circle cx="136.3" cy="220.6" r="0.9"/><circle cx="130.5" cy="221.6" r="0.9"/><circle cx="137.2" cy="221.1" r="0.9"/><circle cx="141.6" cy="206.2" r="0.9"/><circle cx="141.9" cy="223.8" r="0.9"/><circle cx="132.5" cy="209.2" r="0.9"/><circle cx="139.0" cy="216.4" r="0.9"/><circle cx="132.0" cy="220.3" r="0.9"/><circle cx="140.9" cy="210.5" r="0.9"/><circle cx="129.7" cy="222.2" r="0.9"/><circle cx="133.8" cy="207.3" r="0.9"/><circle cx="136.1" cy="207.8" r="0.9"/><circle cx="135.1" cy="193.8" r="0.9"/><circle cx="138.5" cy="221.3" r="0.9"/><circle cx="134.9" cy="207.9" r="0.9"/><circle cx="139.0" cy="223.1" r="0.9"/><circle cx="141.6" cy="218.2" r="0.9"/><circle cx="138.3" cy="199.8" r="0.9"/><circle cx="137.7" cy="206.8" r="0.9"/><circle cx="142.1" cy="214.6" r="0.9"/><circle cx="134.1" cy="222.8" r="0.9"/><circle cx="141.0" cy="219.6" r="0.9"/><circle cx="139.1" cy="221.1" r="0.9"/><circle cx="129.0" cy="223.5" r="0.9"/><circle cx="133.8" cy="223.4" r="0.9"/><circle cx="139.0" cy="223.6" r="0.9"/><circle cx="130.7" cy="219.0" r="0.9"/><circle cx="140.7" cy="220.5" r="0.9"/><circle cx="141.7" cy="191.1" r="0.9"/><circle cx="139.5" cy="222.5" r="0.9"/><circle cx="140.0" cy="224.5" r="0.9"/><circle cx="138.5" cy="210.9" r="0.9"/><circle cx="140.1" cy="222.8" r="0.9"/><circle cx="136.4" cy="219.3" r="0.9"/><circle cx="135.4" cy="222.4" r="0.9"/><circle cx="140.5" cy="192.3" r="0.9"/><circle cx="136.0" cy="222.7" r="0.9"/><circle cx="134.0" cy="223.1" r="0.9"/><circle cx="133.4" cy="223.2" r="0.9"/><circle cx="135.8" cy="221.9" r="0.9"/><circle cx="138.5" cy="192.1" r="0.9"/><circle cx="139.9" cy="212.1" r="0.9"/><circle cx="139.8" cy="221.2" r="0.9"/><circle cx="139.9" cy="224.5" r="0.9"/><circle cx="140.5" cy="221.4" r="0.9"/><circle cx="134.8" cy="222.4" r="0.9"/><circle cx="134.9" cy="222.1" r="0.9"/><circle cx="140.5" cy="219.0" r="0.9"/><circle cx="132.0" cy="223.9" r="0.9"/><circle cx="139.1" cy="218.0" r="0.9"/><circle cx="139.2" cy="194.8" r="0.9"/><circle cx="140.3" cy="191.9" r="0.9"/><circle cx="139.7" cy="205.3" r="0.9"/><circle cx="139.0" cy="214.2" r="0.9"/><circle cx="134.3" cy="213.8" r="0.9"/><circle cx="131.3" cy="213.9" r="0.9"/><circle cx="141.7" cy="220.1" r="0.9"/><circle cx="141.2" cy="214.2" r="0.9"/><circle cx="136.8" cy="219.2" r="0.9"/><circle cx="139.8" cy="199.0" r="0.9"/><circle cx="131.2" cy="220.3" r="0.9"/><circle cx="136.1" cy="221.4" r="0.9"/><circle cx="137.5" cy="223.0" r="0.9"/><circle cx="138.8" cy="223.1" r="0.9"/><circle cx="133.4" cy="218.7" r="0.9"/><circle cx="130.5" cy="224.5" r="0.9"/><circle cx="141.8" cy="217.8" r="0.9"/><circle cx="140.5" cy="222.1" r="0.9"/><circle cx="133.8" cy="212.4" r="0.9"/><circle cx="140.8" cy="205.6" r="0.9"/><circle cx="140.1" cy="223.0" r="0.9"/><circle cx="132.0" cy="224.0" r="0.9"/><circle cx="140.2" cy="218.3" r="0.9"/><circle cx="135.7" cy="216.9" r="0.9"/><circle cx="134.3" cy="223.4" r="0.9"/><circle cx="132.5" cy="219.2" r="0.9"/><circle cx="137.5" cy="224.6" r="0.9"/><circle cx="138.8" cy="208.3" r="0.9"/><circle cx="136.8" cy="220.5" r="0.9"/><circle cx="131.6" cy="219.2" r="0.9"/><circle cx="140.0" cy="221.8" r="0.9"/><circle cx="134.6" cy="218.8" r="0.9"/><circle cx="134.0" cy="218.9" r="0.9"/><circle cx="138.3" cy="221.0" r="0.9"/><circle cx="132.4" cy="222.0" r="0.9"/><circle cx="141.2" cy="221.9" r="0.9"/><circle cx="138.5" cy="218.6" r="0.9"/><circle cx="140.2" cy="213.4" r="0.9"/><circle cx="135.4" cy="215.5" r="0.9"/><circle cx="136.0" cy="218.7" r="0.9"/><circle cx="137.4" cy="193.5" r="0.9"/><circle cx="133.8" cy="218.5" r="0.9"/><circle cx="136.9" cy="208.7" r="0.9"/><circle cx="140.1" cy="215.8" r="0.9"/><circle cx="136.4" cy="223.6" r="0.9"/><circle cx="140.4" cy="220.9" r="0.9"/><circle cx="131.7" cy="219.6" r="0.9"/><circle cx="133.9" cy="221.6" r="0.9"/><circle cx="130.6" cy="218.8" r="0.9"/><circle cx="141.2" cy="224.6" r="0.9"/><circle cx="130.7" cy="220.5" r="0.9"/><circle cx="138.8" cy="201.3" r="0.9"/><circle cx="138.8" cy="218.9" r="0.9"/><circle cx="133.5" cy="216.4" r="0.9"/><circle cx="142.0" cy="212.0" r="0.9"/><circle cx="141.9" cy="222.7" r="0.9"/><circle cx="133.4" cy="220.1" r="0.9"/><circle cx="133.6" cy="210.8" r="0.9"/><circle cx="138.9" cy="212.2" r="0.9"/><circle cx="138.8" cy="198.4" r="0.9"/><circle cx="140.0" cy="190.2" r="0.9"/><circle cx="138.1" cy="219.4" r="0.9"/><circle cx="141.7" cy="221.2" r="0.9"/><circle cx="139.6" cy="224.5" r="0.9"/><circle cx="135.0" cy="215.4" r="0.9"/><circle cx="139.6" cy="218.4" r="0.9"/><circle cx="136.1" cy="219.8" r="0.9"/><circle cx="141.9" cy="220.2" r="0.9"/><circle cx="139.1" cy="192.5" r="0.9"/><circle cx="129.1" cy="223.1" r="0.9"/><circle cx="141.3" cy="218.0" r="0.9"/><circle cx="136.1" cy="204.3" r="0.9"/><circle cx="140.2" cy="223.4" r="0.9"/><circle cx="139.6" cy="197.7" r="0.9"/><circle cx="140.2" cy="202.7" r="0.9"/><circle cx="139.4" cy="220.7" r="0.9"/><circle cx="141.2" cy="216.0" r="0.9"/><circle cx="140.4" cy="221.8" r="0.9"/><circle cx="138.2" cy="223.5" r="0.9"/><circle cx="135.1" cy="215.8" r="0.9"/><circle cx="136.5" cy="221.9" r="0.9"/><circle cx="133.7" cy="222.0" r="0.9"/><circle cx="134.7" cy="220.7" r="0.9"/><circle cx="136.3" cy="219.8" r="0.9"/><circle cx="137.1" cy="207.7" r="0.9"/><circle cx="133.7" cy="223.2" r="0.9"/><circle cx="134.2" cy="221.1" r="0.9"/><circle cx="134.3" cy="220.9" r="0.9"/><circle cx="135.2" cy="204.9" r="0.9"/><circle cx="137.4" cy="223.4" r="0.9"/><circle cx="132.2" cy="214.8" r="0.9"/><circle cx="133.0" cy="224.3" r="0.9"/><circle cx="136.3" cy="196.7" r="0.9"/><circle cx="139.9" cy="204.0" r="0.9"/><circle cx="135.5" cy="209.5" r="0.9"/><circle cx="132.3" cy="215.0" r="0.9"/><circle cx="140.2" cy="222.4" r="0.9"/><circle cx="136.3" cy="216.7" r="0.9"/><circle cx="140.1" cy="220.1" r="0.9"/><circle cx="134.7" cy="218.9" r="0.9"/><circle cx="134.8" cy="220.5" r="0.9"/><circle cx="137.4" cy="219.8" r="0.9"/><circle cx="131.1" cy="219.0" r="0.9"/><circle cx="141.9" cy="217.9" r="0.9"/><circle cx="131.6" cy="222.1" r="0.9"/><circle cx="141.3" cy="214.0" r="0.9"/><circle cx="138.8" cy="215.1" r="0.9"/><circle cx="140.6" cy="198.1" r="0.9"/><circle cx="132.5" cy="223.8" r="0.9"/><circle cx="141.2" cy="211.5" r="0.9"/><circle cx="137.8" cy="211.9" r="0.9"/><circle cx="137.0" cy="208.0" r="0.9"/><circle cx="132.3" cy="223.0" r="0.9"/><circle cx="131.8" cy="224.5" r="0.9"/><circle cx="140.8" cy="215.6" r="0.9"/><circle cx="141.8" cy="219.4" r="0.9"/><circle cx="136.3" cy="214.5" r="0.9"/><circle cx="140.3" cy="198.0" r="0.9"/><circle cx="139.0" cy="220.1" r="0.9"/><circle cx="136.3" cy="224.0" r="0.9"/><circle cx="137.7" cy="206.9" r="0.9"/><circle cx="137.2" cy="221.3" r="0.9"/><circle cx="135.1" cy="217.7" r="0.9"/><circle cx="139.5" cy="219.0" r="0.9"/><circle cx="135.8" cy="219.5" r="0.9"/><circle cx="137.3" cy="214.2" r="0.9"/><circle cx="132.7" cy="219.8" r="0.9"/><circle cx="141.9" cy="222.8" r="0.9"/><circle cx="131.5" cy="217.6" r="0.9"/><circle cx="139.3" cy="217.5" r="0.9"/><circle cx="138.6" cy="218.5" r="0.9"/><circle cx="134.4" cy="223.2" r="0.9"/><circle cx="141.9" cy="221.9" r="0.9"/><circle cx="130.0" cy="221.4" r="0.9"/><circle cx="133.4" cy="223.8" r="0.9"/><circle cx="134.2" cy="224.1" r="0.9"/><circle cx="138.5" cy="218.1" r="0.9"/><circle cx="137.9" cy="218.7" r="0.9"/><circle cx="139.5" cy="212.6" r="0.9"/><circle cx="140.6" cy="224.0" r="0.9"/><circle cx="132.1" cy="209.7" r="0.9"/><circle cx="138.5" cy="206.5" r="0.9"/><circle cx="138.3" cy="195.2" r="0.9"/><circle cx="139.3" cy="211.7" r="0.9"/><circle cx="136.8" cy="223.2" r="0.9"/><circle cx="135.3" cy="216.2" r="0.9"/><circle cx="128.8" cy="223.8" r="0.9"/><circle cx="137.0" cy="200.0" r="0.9"/><circle cx="136.0" cy="220.6" r="0.9"/><circle cx="135.0" cy="218.0" r="0.9"/><circle cx="134.9" cy="223.5" r="0.9"/><circle cx="139.2" cy="208.4" r="0.9"/><circle cx="135.0" cy="217.5" r="0.9"/><circle cx="140.5" cy="224.1" r="0.9"/><circle cx="135.2" cy="219.1" r="0.9"/><circle cx="135.9" cy="220.0" r="0.9"/><circle cx="135.5" cy="224.4" r="0.9"/><circle cx="141.2" cy="217.3" r="0.9"/><circle cx="138.0" cy="219.2" r="0.9"/><circle cx="141.8" cy="222.4" r="0.9"/><circle cx="129.0" cy="222.6" r="0.9"/><circle cx="141.7" cy="217.8" r="0.9"/><circle cx="132.2" cy="224.1" r="0.9"/><circle cx="141.1" cy="218.1" r="0.9"/><circle cx="129.6" cy="224.6" r="0.9"/><circle cx="140.6" cy="220.4" r="0.9"/><circle cx="138.0" cy="223.7" r="0.9"/><circle cx="138.8" cy="219.8" r="0.9"/><circle cx="135.4" cy="220.2" r="0.9"/><circle cx="136.2" cy="213.0" r="0.9"/><circle cx="131.8" cy="222.8" r="0.9"/><circle cx="132.2" cy="219.3" r="0.9"/><circle cx="138.0" cy="222.2" r="0.9"/><circle cx="134.4" cy="223.0" r="0.9"/><circle cx="129.7" cy="222.2" r="0.9"/><circle cx="133.7" cy="212.8" r="0.9"/><circle cx="132.7" cy="218.9" r="0.9"/><circle cx="133.3" cy="216.9" r="0.9"/><circle cx="137.1" cy="210.5" r="0.9"/><circle cx="141.4" cy="210.9" r="0.9"/><circle cx="137.4" cy="223.0" r="0.9"/><circle cx="139.2" cy="223.9" r="0.9"/><circle cx="131.5" cy="220.2" r="0.9"/><circle cx="138.9" cy="219.7" r="0.9"/><circle cx="140.7" cy="223.5" r="0.9"/><circle cx="142.1" cy="217.1" r="0.9"/><circle cx="139.2" cy="218.9" r="0.9"/><circle cx="137.8" cy="221.9" r="0.9"/><circle cx="141.8" cy="214.0" r="0.9"/><circle cx="132.1" cy="218.6" r="0.9"/><circle cx="140.0" cy="220.1" r="0.9"/><circle cx="139.4" cy="215.1" r="0.9"/><circle cx="139.7" cy="210.3" r="0.9"/><circle cx="134.7" cy="221.9" r="0.9"/><circle cx="130.5" cy="223.0" r="0.9"/><circle cx="134.9" cy="203.5" r="0.9"/><circle cx="139.6" cy="204.9" r="0.9"/><circle cx="134.0" cy="222.9" r="0.9"/><circle cx="141.6" cy="219.4" r="0.9"/><circle cx="131.5" cy="221.8" r="0.9"/><circle cx="140.2" cy="221.0" r="0.9"/><circle cx="137.7" cy="207.3" r="0.9"/><circle cx="134.4" cy="218.3" r="0.9"/><circle cx="134.3" cy="215.5" r="0.9"/><circle cx="135.3" cy="217.0" r="0.9"/><circle cx="134.6" cy="224.2" r="0.9"/><circle cx="132.7" cy="224.2" r="0.9"/><circle cx="134.5" cy="211.3" r="0.9"/><circle cx="141.9" cy="219.7" r="0.9"/><circle cx="135.8" cy="220.2" r="0.9"/><circle cx="138.0" cy="221.5" r="0.9"/><circle cx="139.2" cy="216.2" r="0.9"/><circle cx="134.2" cy="223.7" r="0.9"/><circle cx="141.6" cy="205.5" r="0.9"/><circle cx="135.6" cy="209.7" r="0.9"/><circle cx="134.9" cy="206.5" r="0.9"/><circle cx="129.9" cy="222.9" r="0.9"/><circle cx="133.2" cy="224.3" r="0.9"/><circle cx="131.1" cy="218.5" r="0.9"/><circle cx="138.2" cy="219.7" r="0.9"/><circle cx="137.9" cy="216.3" r="0.9"/><circle cx="130.4" cy="217.9" r="0.9"/><circle cx="141.6" cy="223.2" r="0.9"/>
</g>
<g fill="#d8402e" fill-opacity="0.7">
<circle cx="105.6" cy="188.4" r="1.05"/><circle cx="108.0" cy="183.2" r="1.05"/><circle cx="105.2" cy="182.8" r="1.05"/><circle cx="106.4" cy="169.3" r="1.05"/><circle cx="105.2" cy="178.4" r="1.05"/><circle cx="105.6" cy="182.3" r="1.05"/><circle cx="104.9" cy="181.7" r="1.05"/><circle cx="109.2" cy="189.4" r="1.05"/><circle cx="108.6" cy="174.5" r="1.05"/><circle cx="106.7" cy="181.1" r="1.05"/><circle cx="107.0" cy="180.6" r="1.05"/><circle cx="105.6" cy="184.9" r="1.05"/><circle cx="105.4" cy="176.1" r="1.05"/><circle cx="110.3" cy="188.6" r="1.05"/><circle cx="105.9" cy="181.6" r="1.05"/><circle cx="106.3" cy="188.4" r="1.05"/><circle cx="109.2" cy="182.2" r="1.05"/><circle cx="110.7" cy="156.9" r="1.05"/><circle cx="111.0" cy="179.2" r="1.05"/><circle cx="109.4" cy="189.3" r="1.05"/><circle cx="109.2" cy="171.1" r="1.05"/><circle cx="109.7" cy="188.0" r="1.05"/><circle cx="110.8" cy="177.4" r="1.05"/><circle cx="109.9" cy="163.0" r="1.05"/><circle cx="108.7" cy="176.0" r="1.05"/><circle cx="105.4" cy="111.9" r="1.05"/><circle cx="104.6" cy="112.7" r="1.05"/><circle cx="141.8" cy="157.3" r="1.05"/><circle cx="140.3" cy="177.5" r="1.05"/><circle cx="136.8" cy="188.0" r="1.05"/><circle cx="137.3" cy="169.7" r="1.05"/><circle cx="138.1" cy="187.4" r="1.05"/><circle cx="136.7" cy="177.6" r="1.05"/><circle cx="136.0" cy="180.9" r="1.05"/><circle cx="141.9" cy="183.2" r="1.05"/><circle cx="136.6" cy="186.4" r="1.05"/><circle cx="140.4" cy="168.3" r="1.05"/><circle cx="140.1" cy="184.2" r="1.05"/><circle cx="140.3" cy="189.8" r="1.05"/><circle cx="137.2" cy="186.2" r="1.05"/><circle cx="136.6" cy="181.5" r="1.05"/><circle cx="139.4" cy="173.4" r="1.05"/><circle cx="142.1" cy="181.3" r="1.05"/><circle cx="137.8" cy="190.0" r="1.05"/><circle cx="136.6" cy="167.4" r="1.05"/><circle cx="138.7" cy="187.3" r="1.05"/><circle cx="136.4" cy="184.1" r="1.05"/><circle cx="137.5" cy="180.1" r="1.05"/><circle cx="140.3" cy="148.1" r="1.05"/><circle cx="136.8" cy="188.1" r="1.05"/><circle cx="138.2" cy="188.0" r="1.05"/><circle cx="139.6" cy="178.0" r="1.05"/><circle cx="136.2" cy="130.9" r="1.05"/><circle cx="136.1" cy="187.0" r="1.05"/><circle cx="141.9" cy="156.8" r="1.05"/><circle cx="141.2" cy="168.3" r="1.05"/><circle cx="141.3" cy="186.5" r="1.05"/><circle cx="140.8" cy="111.9" r="1.05"/><circle cx="141.6" cy="112.7" r="1.05"/>
</g>
<g fill="#5fae5f" fill-opacity="0.62">
<circle cx="98.2" cy="169.1" r="1.1"/><circle cx="93.0" cy="165.1" r="1.1"/><circle cx="97.9" cy="138.7" r="1.1"/><circle cx="101.7" cy="178.3" r="1.1"/><circle cx="102.4" cy="142.0" r="1.1"/><circle cx="102.0" cy="174.6" r="1.1"/><circle cx="82.9" cy="120.9" r="1.1"/><circle cx="98.3" cy="155.6" r="1.1"/><circle cx="102.8" cy="128.7" r="1.1"/><circle cx="95.1" cy="146.6" r="1.1"/><circle cx="84.3" cy="175.9" r="1.1"/><circle cx="97.6" cy="186.6" r="1.1"/><circle cx="95.8" cy="175.4" r="1.1"/><circle cx="100.2" cy="183.3" r="1.1"/><circle cx="97.5" cy="115.9" r="1.1"/><circle cx="99.9" cy="125.9" r="1.1"/><circle cx="101.0" cy="144.0" r="1.1"/><circle cx="102.1" cy="161.7" r="1.1"/><circle cx="98.7" cy="178.6" r="1.1"/><circle cx="93.4" cy="186.4" r="1.1"/><circle cx="101.5" cy="168.8" r="1.1"/><circle cx="99.3" cy="131.6" r="1.1"/><circle cx="104.0" cy="125.2" r="1.1"/><circle cx="69.1" cy="156.8" r="1.1"/><circle cx="99.0" cy="140.8" r="1.1"/><circle cx="103.4" cy="163.4" r="1.1"/><circle cx="82.4" cy="184.7" r="1.1"/><circle cx="95.2" cy="188.8" r="1.1"/><circle cx="100.1" cy="141.3" r="1.1"/><circle cx="101.4" cy="171.6" r="1.1"/><circle cx="84.1" cy="177.1" r="1.1"/><circle cx="101.5" cy="184.2" r="1.1"/><circle cx="96.6" cy="177.2" r="1.1"/><circle cx="93.0" cy="158.5" r="1.1"/><circle cx="98.1" cy="164.7" r="1.1"/><circle cx="102.5" cy="131.1" r="1.1"/><circle cx="98.3" cy="182.4" r="1.1"/><circle cx="93.9" cy="116.5" r="1.1"/><circle cx="102.4" cy="177.9" r="1.1"/><circle cx="103.0" cy="158.0" r="1.1"/><circle cx="82.4" cy="153.9" r="1.1"/><circle cx="99.6" cy="178.4" r="1.1"/><circle cx="95.0" cy="184.0" r="1.1"/><circle cx="95.5" cy="185.2" r="1.1"/><circle cx="92.1" cy="167.3" r="1.1"/><circle cx="89.3" cy="156.3" r="1.1"/><circle cx="99.4" cy="142.3" r="1.1"/><circle cx="97.8" cy="148.2" r="1.1"/><circle cx="103.3" cy="187.8" r="1.1"/><circle cx="104.3" cy="172.1" r="1.1"/><circle cx="103.4" cy="185.5" r="1.1"/><circle cx="104.0" cy="189.5" r="1.1"/><circle cx="102.3" cy="135.4" r="1.1"/><circle cx="98.3" cy="184.7" r="1.1"/><circle cx="103.6" cy="158.4" r="1.1"/><circle cx="98.3" cy="152.7" r="1.1"/><circle cx="103.1" cy="119.9" r="1.1"/><circle cx="104.2" cy="167.7" r="1.1"/><circle cx="88.9" cy="188.5" r="1.1"/><circle cx="102.7" cy="177.5" r="1.1"/><circle cx="102.1" cy="176.8" r="1.1"/><circle cx="103.2" cy="111.9" r="1.1"/><circle cx="52.1" cy="112.1" r="1.1"/><circle cx="95.0" cy="111.8" r="1.1"/><circle cx="51.1" cy="112.2" r="1.1"/><circle cx="60.2" cy="111.9" r="1.1"/><circle cx="82.4" cy="112.5" r="1.1"/><circle cx="102.3" cy="112.0" r="1.1"/><circle cx="71.0" cy="112.1" r="1.1"/><circle cx="101.7" cy="111.8" r="1.1"/><circle cx="45.7" cy="111.7" r="1.1"/><circle cx="35.2" cy="112.1" r="1.1"/><circle cx="71.8" cy="111.5" r="1.1"/><circle cx="41.6" cy="112.1" r="1.1"/><circle cx="98.7" cy="112.4" r="1.1"/><circle cx="90.3" cy="112.5" r="1.1"/><circle cx="91.9" cy="111.5" r="1.1"/><circle cx="97.5" cy="111.9" r="1.1"/><circle cx="97.1" cy="112.1" r="1.1"/><circle cx="94.9" cy="112.1" r="1.1"/><circle cx="102.7" cy="112.2" r="1.1"/><circle cx="103.9" cy="111.5" r="1.1"/><circle cx="58.1" cy="111.9" r="1.1"/><circle cx="64.4" cy="111.4" r="1.1"/><circle cx="42.3" cy="112.0" r="1.1"/><circle cx="84.1" cy="112.5" r="1.1"/><circle cx="102.3" cy="111.7" r="1.1"/><circle cx="101.6" cy="112.0" r="1.1"/><circle cx="41.4" cy="112.0" r="1.1"/><circle cx="98.1" cy="111.5" r="1.1"/><circle cx="91.3" cy="112.0" r="1.1"/><circle cx="103.1" cy="111.6" r="1.1"/><circle cx="99.9" cy="111.9" r="1.1"/><circle cx="101.9" cy="112.1" r="1.1"/><circle cx="33.9" cy="111.8" r="1.1"/><circle cx="99.1" cy="112.1" r="1.1"/><circle cx="103.0" cy="111.6" r="1.1"/><circle cx="94.9" cy="111.6" r="1.1"/><circle cx="83.9" cy="111.9" r="1.1"/><circle cx="43.4" cy="111.7" r="1.1"/><circle cx="98.4" cy="111.8" r="1.1"/><circle cx="158.3" cy="125.4" r="1.1"/><circle cx="163.7" cy="162.3" r="1.1"/><circle cx="146.8" cy="175.8" r="1.1"/><circle cx="147.0" cy="156.9" r="1.1"/><circle cx="159.4" cy="118.8" r="1.1"/><circle cx="188.2" cy="178.8" r="1.1"/><circle cx="147.3" cy="171.6" r="1.1"/><circle cx="153.4" cy="164.6" r="1.1"/><circle cx="149.7" cy="173.0" r="1.1"/><circle cx="145.7" cy="145.5" r="1.1"/><circle cx="158.4" cy="185.7" r="1.1"/><circle cx="151.5" cy="173.6" r="1.1"/><circle cx="148.4" cy="126.1" r="1.1"/><circle cx="146.2" cy="150.6" r="1.1"/><circle cx="158.3" cy="189.0" r="1.1"/><circle cx="176.3" cy="179.3" r="1.1"/><circle cx="153.7" cy="185.2" r="1.1"/><circle cx="156.5" cy="172.8" r="1.1"/><circle cx="149.7" cy="155.3" r="1.1"/><circle cx="146.3" cy="184.0" r="1.1"/><circle cx="150.5" cy="174.7" r="1.1"/><circle cx="158.3" cy="182.0" r="1.1"/><circle cx="178.1" cy="123.4" r="1.1"/><circle cx="159.2" cy="168.5" r="1.1"/><circle cx="149.7" cy="119.4" r="1.1"/><circle cx="159.1" cy="180.9" r="1.1"/><circle cx="172.1" cy="180.8" r="1.1"/><circle cx="151.2" cy="125.9" r="1.1"/><circle cx="171.1" cy="137.3" r="1.1"/><circle cx="159.2" cy="171.5" r="1.1"/><circle cx="145.0" cy="157.4" r="1.1"/><circle cx="147.2" cy="120.2" r="1.1"/><circle cx="161.6" cy="128.4" r="1.1"/><circle cx="161.5" cy="160.5" r="1.1"/><circle cx="141.8" cy="152.8" r="1.1"/><circle cx="142.8" cy="177.1" r="1.1"/><circle cx="161.8" cy="188.0" r="1.1"/><circle cx="156.3" cy="184.2" r="1.1"/><circle cx="169.3" cy="181.3" r="1.1"/><circle cx="172.3" cy="155.2" r="1.1"/><circle cx="144.1" cy="171.1" r="1.1"/><circle cx="145.9" cy="178.7" r="1.1"/><circle cx="146.4" cy="170.7" r="1.1"/><circle cx="145.9" cy="137.6" r="1.1"/><circle cx="145.4" cy="139.3" r="1.1"/><circle cx="142.3" cy="175.4" r="1.1"/><circle cx="170.9" cy="125.2" r="1.1"/><circle cx="157.3" cy="187.4" r="1.1"/><circle cx="162.9" cy="189.5" r="1.1"/><circle cx="142.5" cy="173.7" r="1.1"/><circle cx="152.8" cy="188.3" r="1.1"/><circle cx="144.8" cy="148.0" r="1.1"/><circle cx="158.7" cy="136.7" r="1.1"/><circle cx="166.7" cy="121.8" r="1.1"/><circle cx="143.0" cy="144.3" r="1.1"/><circle cx="144.9" cy="126.5" r="1.1"/><circle cx="169.5" cy="125.2" r="1.1"/><circle cx="151.8" cy="141.4" r="1.1"/><circle cx="150.1" cy="159.8" r="1.1"/><circle cx="163.6" cy="149.2" r="1.1"/><circle cx="147.4" cy="179.6" r="1.1"/><circle cx="151.8" cy="133.8" r="1.1"/><circle cx="151.1" cy="148.5" r="1.1"/><circle cx="152.0" cy="146.7" r="1.1"/><circle cx="147.1" cy="136.5" r="1.1"/><circle cx="144.3" cy="165.8" r="1.1"/><circle cx="159.5" cy="186.6" r="1.1"/><circle cx="152.7" cy="181.8" r="1.1"/><circle cx="144.0" cy="184.1" r="1.1"/><circle cx="180.9" cy="143.6" r="1.1"/><circle cx="149.9" cy="175.5" r="1.1"/><circle cx="144.1" cy="155.0" r="1.1"/><circle cx="145.0" cy="170.7" r="1.1"/><circle cx="151.6" cy="121.2" r="1.1"/><circle cx="209.7" cy="112.2" r="1.1"/><circle cx="156.9" cy="111.5" r="1.1"/><circle cx="142.7" cy="111.5" r="1.1"/><circle cx="200.2" cy="112.0" r="1.1"/><circle cx="178.2" cy="112.1" r="1.1"/><circle cx="143.6" cy="111.6" r="1.1"/><circle cx="188.3" cy="111.9" r="1.1"/><circle cx="177.9" cy="111.8" r="1.1"/><circle cx="212.4" cy="111.7" r="1.1"/><circle cx="211.0" cy="112.2" r="1.1"/><circle cx="147.3" cy="111.7" r="1.1"/><circle cx="141.9" cy="112.5" r="1.1"/><circle cx="199.9" cy="111.5" r="1.1"/><circle cx="151.1" cy="112.3" r="1.1"/><circle cx="144.1" cy="112.1" r="1.1"/><circle cx="194.8" cy="112.1" r="1.1"/><circle cx="162.8" cy="111.7" r="1.1"/><circle cx="171.6" cy="111.7" r="1.1"/><circle cx="144.5" cy="111.8" r="1.1"/><circle cx="151.5" cy="111.7" r="1.1"/><circle cx="168.6" cy="111.8" r="1.1"/><circle cx="196.9" cy="111.9" r="1.1"/><circle cx="144.8" cy="112.4" r="1.1"/><circle cx="143.7" cy="112.5" r="1.1"/><circle cx="148.4" cy="112.5" r="1.1"/><circle cx="160.0" cy="111.9" r="1.1"/><circle cx="170.5" cy="112.0" r="1.1"/><circle cx="157.3" cy="111.9" r="1.1"/><circle cx="190.0" cy="111.8" r="1.1"/><circle cx="156.0" cy="112.0" r="1.1"/><circle cx="143.4" cy="112.2" r="1.1"/><circle cx="162.6" cy="112.3" r="1.1"/><circle cx="194.9" cy="112.4" r="1.1"/><circle cx="177.1" cy="111.6" r="1.1"/><circle cx="160.7" cy="111.6" r="1.1"/><circle cx="161.0" cy="112.3" r="1.1"/><circle cx="143.5" cy="112.0" r="1.1"/><circle cx="208.9" cy="111.8" r="1.1"/><circle cx="161.1" cy="111.5" r="1.1"/><circle cx="201.9" cy="112.1" r="1.1"/>
</g>
<text x="100" y="147.9" font-size="5.4" fill="#1a1a1a" textLength="19" lengthAdjust="spacingAndGlyphs" >epb41b</text>
<text x="101.4" y="162.4" font-size="5.4" fill="#1a1a1a" textLength="12.7" lengthAdjust="spacingAndGlyphs" >alas2</text>
<text x="101" y="174.1" font-size="5.4" fill="#1a1a1a" textLength="15.3" lengthAdjust="spacingAndGlyphs" >hbae4</text>
<text x="171.8" y="117.6" font-size="5.4" fill="#1a1a1a" textLength="10.6" lengthAdjust="spacingAndGlyphs" >il4r.1</text>
<text x="197.2" y="117" font-size="5.4" fill="#1a1a1a" textLength="14.8" lengthAdjust="spacingAndGlyphs" >apoeb</text>
<text x="128.5" y="157.6" font-size="5.4" fill="#1a1a1a" textLength="13.7" lengthAdjust="spacingAndGlyphs" >cebpa</text>
<text x="147" y="160.6" font-size="5.4" fill="#1a1a1a" textLength="16" lengthAdjust="spacingAndGlyphs" >hbegfa</text>
<text x="137" y="168" font-size="5.4" fill="#1a1a1a" textLength="7" lengthAdjust="spacingAndGlyphs" >mlx</text>
<text x="146.4" y="170.4" font-size="5.4" fill="#1a1a1a" textLength="18.0" lengthAdjust="spacingAndGlyphs" >cxcl12a</text>
<text x="151.7" y="174.4" font-size="5.4" fill="#1a1a1a" textLength="10.6" lengthAdjust="spacingAndGlyphs" >rgs2</text>
<text x="137" y="181.2" font-size="5.4" fill="#1a1a1a" textLength="10.5" lengthAdjust="spacingAndGlyphs" >irf2a</text>
<text x="151.3" y="180.6" font-size="5.4" fill="#1a1a1a" textLength="13.5" lengthAdjust="spacingAndGlyphs" >nfkbie</text>
<text x="148.6" y="187.8" font-size="5.4" fill="#1a1a1a" textLength="10.5" lengthAdjust="spacingAndGlyphs" >tlr5b</text>
<rect x="19" y="282.1" width="202" height="55.4" fill="#050403"/>
<rect x="19.8" y="282.9" width="200.4" height="53.8" fill="#15110d"/>
<rect x="19" y="340.5" width="202" height="57.2" fill="#050403"/>
<rect x="19.8" y="341.3" width="200.4" height="55.6" fill="#15110d"/>
<g clip-path="url(#cF1)">
<ellipse cx="38" cy="309" rx="17" ry="13" fill="#3a0c06" fill-opacity="0.7" filter="url(#bl2)"/>
<ellipse cx="78" cy="314" rx="14" ry="14" fill="#261008" fill-opacity="0.7" filter="url(#bl2)"/>
<path d="M70,297 C110,294 160,295 205,297 L205,306 C160,307 110,308 70,309 Z" fill="#201008" fill-opacity="0.8" filter="url(#bl2)"/>
<g filter="url(#bl1)"><circle cx="25.3" cy="318.8" r="0.63" fill="#801206" fill-opacity="0.37"/><circle cx="46.1" cy="313.7" r="0.76" fill="#801206" fill-opacity="0.63"/><circle cx="38.2" cy="320.2" r="1.40" fill="#a01808" fill-opacity="0.41"/><circle cx="25.6" cy="313.0" r="1.40" fill="#801206" fill-opacity="0.49"/><circle cx="43.2" cy="314.5" r="0.85" fill="#d02a10" fill-opacity="0.50"/><circle cx="34.6" cy="297.5" r="1.31" fill="#d02a10" fill-opacity="0.40"/><circle cx="42.9" cy="300.3" r="1.16" fill="#d02a10" fill-opacity="0.42"/><circle cx="24.2" cy="312.5" r="1.12" fill="#a01808" fill-opacity="0.37"/><circle cx="39.5" cy="316.8" r="0.86" fill="#801206" fill-opacity="0.34"/><circle cx="27.2" cy="317.1" r="1.16" fill="#d02a10" fill-opacity="0.62"/><circle cx="40.1" cy="298.7" r="0.79" fill="#d02a10" fill-opacity="0.65"/><circle cx="34.0" cy="315.3" r="0.67" fill="#a01808" fill-opacity="0.34"/><circle cx="44.0" cy="301.3" r="0.98" fill="#a01808" fill-opacity="0.35"/><circle cx="26.5" cy="308.4" r="1.61" fill="#c02010" fill-opacity="0.48"/><circle cx="25.3" cy="312.2" r="1.32" fill="#d02a10" fill-opacity="0.62"/><circle cx="22.7" cy="306.6" r="0.83" fill="#a01808" fill-opacity="0.36"/><circle cx="22.5" cy="314.1" r="1.19" fill="#d02a10" fill-opacity="0.60"/><circle cx="27.6" cy="313.0" r="0.91" fill="#801206" fill-opacity="0.64"/><circle cx="46.5" cy="301.8" r="0.98" fill="#d02a10" fill-opacity="0.57"/><circle cx="23.0" cy="301.5" r="1.08" fill="#c02010" fill-opacity="0.40"/><circle cx="44.0" cy="298.4" r="1.39" fill="#c02010" fill-opacity="0.55"/><circle cx="42.3" cy="305.2" r="0.78" fill="#801206" fill-opacity="0.53"/><circle cx="25.7" cy="305.2" r="1.67" fill="#c02010" fill-opacity="0.57"/><circle cx="22.9" cy="301.6" r="0.80" fill="#d02a10" fill-opacity="0.65"/><circle cx="25.7" cy="300.6" r="0.67" fill="#d02a10" fill-opacity="0.61"/><circle cx="38.5" cy="307.0" r="1.20" fill="#c02010" fill-opacity="0.35"/><circle cx="37.9" cy="304.7" r="0.74" fill="#a01808" fill-opacity="0.51"/><circle cx="38.6" cy="307.7" r="1.37" fill="#a01808" fill-opacity="0.44"/><circle cx="25.4" cy="316.0" r="1.70" fill="#d02a10" fill-opacity="0.36"/><circle cx="24.2" cy="315.2" r="1.76" fill="#c02010" fill-opacity="0.62"/><circle cx="40.2" cy="318.6" r="1.42" fill="#801206" fill-opacity="0.37"/><circle cx="34.1" cy="305.2" r="1.56" fill="#d02a10" fill-opacity="0.56"/><circle cx="42.9" cy="309.4" r="1.55" fill="#801206" fill-opacity="0.41"/><circle cx="25.6" cy="311.5" r="1.20" fill="#c02010" fill-opacity="0.42"/><circle cx="37.8" cy="305.3" r="1.35" fill="#a01808" fill-opacity="0.44"/><circle cx="41.1" cy="304.7" r="1.56" fill="#a01808" fill-opacity="0.46"/><circle cx="36.4" cy="313.5" r="0.91" fill="#d02a10" fill-opacity="0.64"/><circle cx="24.5" cy="317.4" r="1.26" fill="#801206" fill-opacity="0.33"/><circle cx="26.0" cy="314.0" r="1.36" fill="#d02a10" fill-opacity="0.62"/><circle cx="41.6" cy="307.1" r="1.37" fill="#d02a10" fill-opacity="0.44"/><circle cx="41.5" cy="309.2" r="1.65" fill="#a01808" fill-opacity="0.55"/><circle cx="41.4" cy="315.8" r="1.54" fill="#a01808" fill-opacity="0.47"/><circle cx="36.7" cy="306.3" r="1.58" fill="#c02010" fill-opacity="0.55"/><circle cx="42.9" cy="318.5" r="1.66" fill="#801206" fill-opacity="0.36"/><circle cx="44.8" cy="299.9" r="1.34" fill="#d02a10" fill-opacity="0.47"/><circle cx="33.1" cy="300.6" r="0.77" fill="#a01808" fill-opacity="0.53"/><circle cx="32.8" cy="311.7" r="0.76" fill="#a01808" fill-opacity="0.49"/><circle cx="44.4" cy="307.4" r="0.61" fill="#c02010" fill-opacity="0.35"/><circle cx="34.0" cy="315.1" r="1.79" fill="#c02010" fill-opacity="0.50"/><circle cx="25.1" cy="316.3" r="0.85" fill="#a01808" fill-opacity="0.56"/><circle cx="36.1" cy="309.2" r="1.64" fill="#c02010" fill-opacity="0.57"/><circle cx="33.3" cy="305.5" r="1.48" fill="#c02010" fill-opacity="0.64"/><circle cx="24.1" cy="315.4" r="1.21" fill="#a01808" fill-opacity="0.35"/><circle cx="23.4" cy="297.6" r="1.06" fill="#c02010" fill-opacity="0.57"/><circle cx="37.9" cy="312.0" r="1.14" fill="#801206" fill-opacity="0.61"/><circle cx="45.8" cy="300.4" r="1.66" fill="#a01808" fill-opacity="0.63"/><circle cx="32.6" cy="316.4" r="0.78" fill="#801206" fill-opacity="0.51"/><circle cx="24.2" cy="314.6" r="1.57" fill="#c02010" fill-opacity="0.62"/><circle cx="33.6" cy="323.2" r="1.64" fill="#a01808" fill-opacity="0.64"/><circle cx="37.4" cy="314.0" r="1.05" fill="#d02a10" fill-opacity="0.38"/><circle cx="29.6" cy="320.0" r="1.43" fill="#a01808" fill-opacity="0.49"/><circle cx="33.7" cy="317.9" r="0.80" fill="#c02010" fill-opacity="0.48"/><circle cx="26.2" cy="307.2" r="1.00" fill="#801206" fill-opacity="0.38"/><circle cx="37.4" cy="311.1" r="0.75" fill="#c02010" fill-opacity="0.34"/><circle cx="32.2" cy="317.7" r="1.68" fill="#a01808" fill-opacity="0.62"/><circle cx="46.3" cy="305.4" r="1.17" fill="#801206" fill-opacity="0.50"/><circle cx="32.3" cy="312.2" r="1.56" fill="#801206" fill-opacity="0.40"/><circle cx="22.8" cy="299.7" r="1.46" fill="#a01808" fill-opacity="0.47"/><circle cx="31.5" cy="308.5" r="0.61" fill="#c02010" fill-opacity="0.52"/><circle cx="35.8" cy="333.6" r="1.10" fill="#a01808" fill-opacity="0.58"/></g>
<g filter="url(#bl05)"><circle cx="24.4" cy="302.5" r="0.66" fill="#e03010" fill-opacity="0.43"/><circle cx="26.8" cy="306.1" r="0.89" fill="#e03010" fill-opacity="0.76"/><circle cx="32.0" cy="300.1" r="0.50" fill="#c02010" fill-opacity="0.55"/><circle cx="31.0" cy="302.3" r="0.54" fill="#e03010" fill-opacity="0.62"/><circle cx="37.7" cy="295.0" r="0.81" fill="#e03010" fill-opacity="0.49"/><circle cx="43.6" cy="306.8" r="1.16" fill="#e03010" fill-opacity="0.73"/><circle cx="44.2" cy="301.9" r="0.64" fill="#c02010" fill-opacity="0.56"/><circle cx="39.1" cy="305.2" r="0.86" fill="#c02010" fill-opacity="0.70"/><circle cx="25.6" cy="300.6" r="0.67" fill="#c02010" fill-opacity="0.69"/><circle cx="39.0" cy="303.4" r="0.71" fill="#c02010" fill-opacity="0.73"/><circle cx="30.0" cy="302.9" r="0.51" fill="#e03010" fill-opacity="0.72"/><circle cx="26.7" cy="306.6" r="0.65" fill="#c02010" fill-opacity="0.52"/><circle cx="36.9" cy="303.4" r="0.57" fill="#e03010" fill-opacity="0.56"/><circle cx="24.6" cy="298.3" r="1.14" fill="#c02010" fill-opacity="0.51"/><circle cx="30.0" cy="303.1" r="0.71" fill="#e03010" fill-opacity="0.55"/><circle cx="39.7" cy="303.3" r="0.93" fill="#e03010" fill-opacity="0.47"/><circle cx="28.0" cy="301.7" r="1.13" fill="#c02010" fill-opacity="0.71"/><circle cx="33.3" cy="302.3" r="1.12" fill="#e03010" fill-opacity="0.68"/><circle cx="36.7" cy="300.5" r="0.74" fill="#c02010" fill-opacity="0.63"/><circle cx="34.6" cy="300.6" r="1.16" fill="#c02010" fill-opacity="0.74"/><circle cx="32.5" cy="305.9" r="0.78" fill="#c02010" fill-opacity="0.72"/><circle cx="26.0" cy="303.4" r="0.86" fill="#e03010" fill-opacity="0.72"/><circle cx="43.3" cy="301.4" r="0.94" fill="#e03010" fill-opacity="0.46"/><circle cx="42.3" cy="304.5" r="1.17" fill="#e03010" fill-opacity="0.47"/><circle cx="35.5" cy="301.0" r="0.93" fill="#c02010" fill-opacity="0.60"/><circle cx="31.1" cy="301.9" r="0.76" fill="#e03010" fill-opacity="0.76"/><circle cx="34.2" cy="298.8" r="0.68" fill="#e03010" fill-opacity="0.78"/><circle cx="30.9" cy="307.4" r="0.92" fill="#c02010" fill-opacity="0.79"/><circle cx="27.6" cy="300.8" r="0.90" fill="#e03010" fill-opacity="0.68"/><circle cx="39.9" cy="300.1" r="0.94" fill="#e03010" fill-opacity="0.49"/></g>
<path d="M62,303.6 C100,303.4 150,303 208,302.4" fill="none" stroke="#a01808" stroke-width="3" stroke-opacity="0.45" filter="url(#bl1)"/>
<g filter="url(#bl1)"><circle cx="65.1" cy="305.0" r="1.42" fill="#b01808" fill-opacity="0.41"/><circle cx="181.4" cy="304.3" r="1.41" fill="#d02a10" fill-opacity="0.64"/><circle cx="85.2" cy="303.4" r="0.93" fill="#b01808" fill-opacity="0.36"/><circle cx="84.0" cy="303.6" r="1.44" fill="#b01808" fill-opacity="0.44"/><circle cx="153.4" cy="302.0" r="1.33" fill="#d02a10" fill-opacity="0.45"/><circle cx="140.2" cy="300.5" r="0.86" fill="#e03a12" fill-opacity="0.40"/><circle cx="107.0" cy="304.3" r="0.90" fill="#e03a12" fill-opacity="0.43"/><circle cx="183.4" cy="303.1" r="0.60" fill="#e03a12" fill-opacity="0.34"/><circle cx="188.4" cy="302.9" r="1.46" fill="#b01808" fill-opacity="0.40"/><circle cx="196.3" cy="300.4" r="1.07" fill="#e03a12" fill-opacity="0.55"/><circle cx="178.4" cy="301.6" r="0.64" fill="#b01808" fill-opacity="0.42"/><circle cx="205.2" cy="302.3" r="1.12" fill="#d02a10" fill-opacity="0.58"/><circle cx="193.7" cy="301.3" r="1.00" fill="#901406" fill-opacity="0.38"/><circle cx="139.4" cy="302.1" r="1.22" fill="#901406" fill-opacity="0.54"/><circle cx="68.1" cy="304.3" r="1.20" fill="#901406" fill-opacity="0.64"/><circle cx="136.7" cy="304.4" r="0.73" fill="#901406" fill-opacity="0.62"/><circle cx="125.7" cy="303.4" r="1.16" fill="#d02a10" fill-opacity="0.60"/><circle cx="165.9" cy="302.1" r="1.47" fill="#d02a10" fill-opacity="0.35"/><circle cx="76.9" cy="304.6" r="1.22" fill="#d02a10" fill-opacity="0.43"/><circle cx="77.7" cy="303.0" r="1.03" fill="#901406" fill-opacity="0.48"/><circle cx="152.4" cy="303.3" r="0.86" fill="#901406" fill-opacity="0.36"/><circle cx="112.9" cy="302.6" r="0.74" fill="#901406" fill-opacity="0.42"/><circle cx="197.3" cy="303.9" r="0.64" fill="#b01808" fill-opacity="0.61"/><circle cx="96.6" cy="303.1" r="1.27" fill="#901406" fill-opacity="0.65"/><circle cx="202.1" cy="302.7" r="1.49" fill="#b01808" fill-opacity="0.50"/><circle cx="83.1" cy="305.3" r="0.96" fill="#901406" fill-opacity="0.43"/><circle cx="135.1" cy="304.0" r="0.84" fill="#d02a10" fill-opacity="0.52"/><circle cx="171.4" cy="303.5" r="1.34" fill="#b01808" fill-opacity="0.63"/><circle cx="154.9" cy="302.1" r="0.67" fill="#e03a12" fill-opacity="0.35"/><circle cx="173.0" cy="301.8" r="1.31" fill="#e03a12" fill-opacity="0.48"/><circle cx="63.0" cy="305.4" r="0.67" fill="#b01808" fill-opacity="0.41"/><circle cx="106.8" cy="304.4" r="1.24" fill="#d02a10" fill-opacity="0.38"/><circle cx="126.7" cy="301.2" r="0.70" fill="#e03a12" fill-opacity="0.35"/><circle cx="90.0" cy="301.8" r="0.75" fill="#901406" fill-opacity="0.35"/><circle cx="92.6" cy="301.8" r="1.18" fill="#d02a10" fill-opacity="0.44"/><circle cx="86.6" cy="304.7" r="0.84" fill="#d02a10" fill-opacity="0.38"/><circle cx="132.2" cy="305.1" r="0.78" fill="#d02a10" fill-opacity="0.34"/><circle cx="71.9" cy="305.7" r="0.93" fill="#e03a12" fill-opacity="0.55"/><circle cx="74.2" cy="304.0" r="1.11" fill="#901406" fill-opacity="0.49"/><circle cx="193.6" cy="304.4" r="0.78" fill="#e03a12" fill-opacity="0.51"/><circle cx="144.5" cy="301.5" r="1.13" fill="#d02a10" fill-opacity="0.57"/><circle cx="163.8" cy="302.8" r="1.14" fill="#901406" fill-opacity="0.42"/><circle cx="114.4" cy="303.4" r="1.37" fill="#b01808" fill-opacity="0.56"/><circle cx="171.8" cy="302.7" r="0.98" fill="#b01808" fill-opacity="0.38"/><circle cx="149.9" cy="303.4" r="1.44" fill="#d02a10" fill-opacity="0.41"/><circle cx="164.4" cy="303.0" r="1.08" fill="#901406" fill-opacity="0.36"/><circle cx="140.9" cy="303.6" r="0.91" fill="#b01808" fill-opacity="0.56"/><circle cx="132.2" cy="303.2" r="0.70" fill="#d02a10" fill-opacity="0.42"/><circle cx="185.7" cy="302.6" r="1.39" fill="#d02a10" fill-opacity="0.40"/><circle cx="102.0" cy="302.2" r="0.88" fill="#901406" fill-opacity="0.64"/><circle cx="115.3" cy="305.1" r="0.79" fill="#e03a12" fill-opacity="0.61"/><circle cx="110.0" cy="304.5" r="0.65" fill="#e03a12" fill-opacity="0.47"/><circle cx="154.4" cy="302.6" r="0.84" fill="#d02a10" fill-opacity="0.60"/><circle cx="66.8" cy="303.6" r="0.74" fill="#901406" fill-opacity="0.47"/><circle cx="113.2" cy="303.2" r="1.12" fill="#d02a10" fill-opacity="0.52"/><circle cx="118.9" cy="302.5" r="1.05" fill="#901406" fill-opacity="0.57"/><circle cx="195.5" cy="304.4" r="0.84" fill="#e03a12" fill-opacity="0.62"/><circle cx="173.7" cy="303.8" r="0.80" fill="#d02a10" fill-opacity="0.47"/><circle cx="191.0" cy="305.4" r="1.08" fill="#901406" fill-opacity="0.40"/><circle cx="116.8" cy="302.3" r="1.21" fill="#901406" fill-opacity="0.56"/><circle cx="66.2" cy="304.4" r="0.78" fill="#b01808" fill-opacity="0.50"/><circle cx="179.7" cy="304.1" r="0.71" fill="#901406" fill-opacity="0.62"/><circle cx="171.0" cy="302.3" r="1.12" fill="#e03a12" fill-opacity="0.45"/><circle cx="79.3" cy="304.4" r="0.75" fill="#d02a10" fill-opacity="0.40"/><circle cx="154.8" cy="304.4" r="1.34" fill="#b01808" fill-opacity="0.36"/><circle cx="118.8" cy="302.8" r="0.98" fill="#e03a12" fill-opacity="0.35"/><circle cx="71.7" cy="302.0" r="1.29" fill="#d02a10" fill-opacity="0.42"/><circle cx="170.3" cy="301.4" r="0.86" fill="#d02a10" fill-opacity="0.48"/><circle cx="72.9" cy="303.3" r="1.34" fill="#e03a12" fill-opacity="0.34"/><circle cx="178.8" cy="301.8" r="1.12" fill="#e03a12" fill-opacity="0.34"/><circle cx="190.5" cy="303.0" r="1.08" fill="#901406" fill-opacity="0.62"/><circle cx="149.8" cy="304.9" r="0.81" fill="#e03a12" fill-opacity="0.54"/><circle cx="146.2" cy="303.4" r="1.10" fill="#901406" fill-opacity="0.43"/><circle cx="155.7" cy="304.4" r="1.03" fill="#e03a12" fill-opacity="0.47"/><circle cx="93.1" cy="302.9" r="0.71" fill="#e03a12" fill-opacity="0.42"/><circle cx="71.1" cy="302.8" r="0.67" fill="#e03a12" fill-opacity="0.40"/><circle cx="127.4" cy="301.8" r="1.45" fill="#901406" fill-opacity="0.40"/><circle cx="151.1" cy="302.2" r="1.14" fill="#b01808" fill-opacity="0.44"/><circle cx="108.5" cy="302.3" r="1.14" fill="#b01808" fill-opacity="0.55"/><circle cx="101.2" cy="302.8" r="0.83" fill="#e03a12" fill-opacity="0.43"/><circle cx="150.7" cy="302.7" r="0.69" fill="#d02a10" fill-opacity="0.52"/><circle cx="78.1" cy="303.7" r="1.22" fill="#d02a10" fill-opacity="0.53"/><circle cx="85.3" cy="302.3" r="0.68" fill="#901406" fill-opacity="0.55"/><circle cx="125.7" cy="304.2" r="0.95" fill="#901406" fill-opacity="0.37"/><circle cx="144.1" cy="303.1" r="1.32" fill="#901406" fill-opacity="0.45"/><circle cx="140.5" cy="302.7" r="1.48" fill="#901406" fill-opacity="0.34"/><circle cx="105.5" cy="304.6" r="1.26" fill="#d02a10" fill-opacity="0.46"/><circle cx="63.7" cy="304.2" r="0.97" fill="#901406" fill-opacity="0.36"/><circle cx="154.1" cy="304.2" r="0.84" fill="#b01808" fill-opacity="0.49"/><circle cx="98.2" cy="304.0" r="1.45" fill="#d02a10" fill-opacity="0.48"/><circle cx="99.0" cy="304.0" r="1.38" fill="#b01808" fill-opacity="0.55"/><circle cx="193.3" cy="302.8" r="1.21" fill="#901406" fill-opacity="0.46"/><circle cx="83.8" cy="301.9" r="1.47" fill="#b01808" fill-opacity="0.43"/><circle cx="190.0" cy="301.8" r="1.45" fill="#e03a12" fill-opacity="0.65"/><circle cx="68.9" cy="304.6" r="1.47" fill="#d02a10" fill-opacity="0.54"/><circle cx="81.6" cy="303.8" r="0.82" fill="#901406" fill-opacity="0.63"/><circle cx="179.5" cy="303.4" r="1.41" fill="#901406" fill-opacity="0.42"/><circle cx="189.7" cy="302.9" r="0.90" fill="#901406" fill-opacity="0.34"/><circle cx="85.4" cy="304.5" r="1.09" fill="#901406" fill-opacity="0.38"/><circle cx="171.3" cy="303.0" r="0.79" fill="#b01808" fill-opacity="0.41"/><circle cx="147.1" cy="302.1" r="1.27" fill="#d02a10" fill-opacity="0.55"/><circle cx="141.3" cy="304.8" r="0.76" fill="#901406" fill-opacity="0.61"/><circle cx="121.7" cy="303.2" r="0.92" fill="#b01808" fill-opacity="0.36"/><circle cx="113.8" cy="305.3" r="0.91" fill="#b01808" fill-opacity="0.55"/><circle cx="80.0" cy="304.0" r="1.06" fill="#e03a12" fill-opacity="0.40"/><circle cx="164.0" cy="302.9" r="1.33" fill="#d02a10" fill-opacity="0.34"/><circle cx="133.3" cy="304.8" r="0.67" fill="#901406" fill-opacity="0.56"/><circle cx="122.8" cy="302.5" r="0.62" fill="#e03a12" fill-opacity="0.46"/><circle cx="133.1" cy="302.1" r="0.76" fill="#b01808" fill-opacity="0.43"/><circle cx="169.4" cy="302.0" r="0.84" fill="#901406" fill-opacity="0.63"/><circle cx="185.1" cy="303.8" r="1.44" fill="#901406" fill-opacity="0.40"/><circle cx="194.7" cy="302.5" r="1.25" fill="#e03a12" fill-opacity="0.55"/><circle cx="162.0" cy="303.8" r="0.78" fill="#d02a10" fill-opacity="0.51"/><circle cx="160.2" cy="304.4" r="1.21" fill="#e03a12" fill-opacity="0.47"/><circle cx="179.3" cy="304.0" r="1.29" fill="#e03a12" fill-opacity="0.42"/><circle cx="73.9" cy="305.4" r="0.89" fill="#b01808" fill-opacity="0.50"/><circle cx="110.2" cy="304.2" r="0.94" fill="#e03a12" fill-opacity="0.61"/><circle cx="97.7" cy="304.2" r="0.92" fill="#901406" fill-opacity="0.60"/><circle cx="156.4" cy="303.8" r="1.28" fill="#b01808" fill-opacity="0.44"/><circle cx="170.1" cy="300.9" r="0.71" fill="#b01808" fill-opacity="0.33"/><circle cx="172.7" cy="304.2" r="0.99" fill="#e03a12" fill-opacity="0.60"/><circle cx="65.4" cy="303.6" r="1.12" fill="#901406" fill-opacity="0.50"/><circle cx="182.4" cy="300.8" r="1.49" fill="#e03a12" fill-opacity="0.42"/><circle cx="121.1" cy="301.2" r="1.50" fill="#d02a10" fill-opacity="0.38"/><circle cx="162.9" cy="302.4" r="0.83" fill="#d02a10" fill-opacity="0.48"/><circle cx="145.9" cy="303.4" r="1.06" fill="#d02a10" fill-opacity="0.53"/><circle cx="186.4" cy="302.5" r="1.47" fill="#d02a10" fill-opacity="0.38"/><circle cx="68.6" cy="304.6" r="0.84" fill="#d02a10" fill-opacity="0.37"/><circle cx="118.3" cy="301.4" r="1.37" fill="#e03a12" fill-opacity="0.42"/><circle cx="81.4" cy="301.9" r="1.45" fill="#d02a10" fill-opacity="0.46"/><circle cx="114.7" cy="303.2" r="1.06" fill="#d02a10" fill-opacity="0.59"/><circle cx="100.6" cy="306.3" r="1.12" fill="#901406" fill-opacity="0.40"/><circle cx="102.2" cy="305.2" r="1.36" fill="#901406" fill-opacity="0.58"/><circle cx="78.6" cy="305.4" r="1.25" fill="#d02a10" fill-opacity="0.60"/><circle cx="143.8" cy="302.0" r="1.30" fill="#901406" fill-opacity="0.59"/><circle cx="121.4" cy="301.9" r="0.63" fill="#b01808" fill-opacity="0.53"/><circle cx="154.4" cy="303.1" r="1.44" fill="#e03a12" fill-opacity="0.33"/><circle cx="82.1" cy="303.1" r="0.99" fill="#e03a12" fill-opacity="0.45"/><circle cx="189.0" cy="303.3" r="1.44" fill="#e03a12" fill-opacity="0.33"/><circle cx="99.8" cy="303.9" r="0.60" fill="#b01808" fill-opacity="0.42"/><circle cx="150.0" cy="305.2" r="1.19" fill="#b01808" fill-opacity="0.52"/><circle cx="67.0" cy="304.6" r="1.13" fill="#e03a12" fill-opacity="0.40"/><circle cx="123.3" cy="306.6" r="0.85" fill="#901406" fill-opacity="0.38"/><circle cx="178.3" cy="303.2" r="1.37" fill="#901406" fill-opacity="0.55"/><circle cx="122.9" cy="304.2" r="1.14" fill="#e03a12" fill-opacity="0.63"/><circle cx="100.8" cy="303.3" r="0.62" fill="#e03a12" fill-opacity="0.39"/><circle cx="199.9" cy="302.7" r="1.42" fill="#e03a12" fill-opacity="0.54"/><circle cx="133.3" cy="304.1" r="1.48" fill="#e03a12" fill-opacity="0.63"/><circle cx="88.5" cy="303.5" r="0.73" fill="#d02a10" fill-opacity="0.57"/><circle cx="183.7" cy="303.2" r="0.67" fill="#d02a10" fill-opacity="0.43"/><circle cx="162.3" cy="303.2" r="1.18" fill="#b01808" fill-opacity="0.62"/><circle cx="190.5" cy="301.7" r="1.24" fill="#d02a10" fill-opacity="0.58"/><circle cx="194.5" cy="303.6" r="1.03" fill="#e03a12" fill-opacity="0.45"/><circle cx="119.5" cy="303.9" r="1.19" fill="#b01808" fill-opacity="0.55"/><circle cx="157.3" cy="303.4" r="0.96" fill="#d02a10" fill-opacity="0.60"/><circle cx="156.7" cy="303.5" r="1.16" fill="#b01808" fill-opacity="0.58"/><circle cx="207.4" cy="304.2" r="1.48" fill="#b01808" fill-opacity="0.57"/><circle cx="180.7" cy="303.5" r="0.63" fill="#901406" fill-opacity="0.63"/><circle cx="96.7" cy="303.2" r="1.17" fill="#b01808" fill-opacity="0.33"/><circle cx="178.7" cy="303.5" r="1.27" fill="#b01808" fill-opacity="0.62"/><circle cx="162.8" cy="302.5" r="1.37" fill="#901406" fill-opacity="0.56"/><circle cx="98.8" cy="303.6" r="1.39" fill="#e03a12" fill-opacity="0.53"/><circle cx="71.3" cy="304.9" r="0.86" fill="#d02a10" fill-opacity="0.61"/><circle cx="97.0" cy="303.9" r="0.88" fill="#e03a12" fill-opacity="0.43"/><circle cx="191.1" cy="302.3" r="0.95" fill="#d02a10" fill-opacity="0.36"/><circle cx="165.0" cy="302.0" r="0.68" fill="#b01808" fill-opacity="0.49"/><circle cx="97.7" cy="303.1" r="1.48" fill="#d02a10" fill-opacity="0.42"/><circle cx="141.2" cy="304.2" r="0.66" fill="#e03a12" fill-opacity="0.52"/><circle cx="84.7" cy="302.4" r="0.73" fill="#e03a12" fill-opacity="0.52"/><circle cx="92.4" cy="303.9" r="0.86" fill="#e03a12" fill-opacity="0.55"/><circle cx="156.6" cy="303.5" r="1.35" fill="#b01808" fill-opacity="0.44"/><circle cx="174.5" cy="302.2" r="1.00" fill="#b01808" fill-opacity="0.56"/><circle cx="111.8" cy="303.3" r="1.27" fill="#901406" fill-opacity="0.55"/><circle cx="200.0" cy="302.0" r="0.91" fill="#d02a10" fill-opacity="0.65"/><circle cx="137.4" cy="303.6" r="0.83" fill="#901406" fill-opacity="0.64"/><circle cx="172.1" cy="303.3" r="0.86" fill="#e03a12" fill-opacity="0.59"/><circle cx="196.2" cy="303.7" r="0.68" fill="#e03a12" fill-opacity="0.57"/><circle cx="188.5" cy="301.2" r="0.67" fill="#901406" fill-opacity="0.50"/><circle cx="97.4" cy="302.7" r="1.35" fill="#b01808" fill-opacity="0.53"/><circle cx="171.3" cy="303.7" r="1.02" fill="#901406" fill-opacity="0.36"/><circle cx="104.2" cy="303.7" r="0.87" fill="#d02a10" fill-opacity="0.37"/><circle cx="112.0" cy="304.4" r="1.44" fill="#e03a12" fill-opacity="0.40"/><circle cx="119.5" cy="303.7" r="1.05" fill="#e03a12" fill-opacity="0.50"/><circle cx="69.2" cy="304.8" r="1.08" fill="#d02a10" fill-opacity="0.37"/><circle cx="205.4" cy="303.3" r="1.03" fill="#b01808" fill-opacity="0.41"/><circle cx="117.4" cy="305.1" r="0.93" fill="#e03a12" fill-opacity="0.41"/><circle cx="122.7" cy="303.8" r="0.78" fill="#d02a10" fill-opacity="0.34"/><circle cx="183.7" cy="302.6" r="1.17" fill="#e03a12" fill-opacity="0.50"/><circle cx="204.4" cy="301.7" r="0.72" fill="#901406" fill-opacity="0.38"/><circle cx="157.5" cy="303.8" r="1.13" fill="#901406" fill-opacity="0.54"/><circle cx="80.3" cy="303.5" r="1.47" fill="#e03a12" fill-opacity="0.33"/><circle cx="73.5" cy="306.3" r="0.83" fill="#d02a10" fill-opacity="0.46"/><circle cx="194.7" cy="304.8" r="0.73" fill="#e03a12" fill-opacity="0.51"/><circle cx="175.1" cy="302.9" r="1.02" fill="#b01808" fill-opacity="0.40"/><circle cx="80.8" cy="305.6" r="1.42" fill="#901406" fill-opacity="0.46"/><circle cx="79.0" cy="303.7" r="1.01" fill="#b01808" fill-opacity="0.33"/><circle cx="205.0" cy="302.9" r="1.35" fill="#e03a12" fill-opacity="0.47"/><circle cx="160.4" cy="303.5" r="1.26" fill="#d02a10" fill-opacity="0.47"/><circle cx="83.4" cy="305.0" r="1.00" fill="#e03a12" fill-opacity="0.57"/><circle cx="162.1" cy="300.7" r="0.95" fill="#d02a10" fill-opacity="0.53"/></g>
<g filter="url(#bl05)"><circle cx="71.9" cy="304.4" r="0.51" fill="#ff4a18" fill-opacity="0.58"/><circle cx="89.0" cy="304.2" r="0.57" fill="#e83a12" fill-opacity="0.55"/><circle cx="168.4" cy="302.8" r="0.77" fill="#ff4a18" fill-opacity="0.69"/><circle cx="98.1" cy="302.8" r="0.41" fill="#ff4a18" fill-opacity="0.76"/><circle cx="111.5" cy="302.6" r="0.56" fill="#ff4a18" fill-opacity="0.74"/><circle cx="157.1" cy="302.6" r="0.49" fill="#e83a12" fill-opacity="0.58"/><circle cx="70.9" cy="304.6" r="0.56" fill="#e83a12" fill-opacity="0.46"/><circle cx="162.5" cy="302.6" r="0.52" fill="#e83a12" fill-opacity="0.75"/><circle cx="83.0" cy="304.8" r="0.58" fill="#e83a12" fill-opacity="0.64"/><circle cx="103.4" cy="304.0" r="0.64" fill="#e83a12" fill-opacity="0.72"/><circle cx="179.5" cy="303.5" r="0.43" fill="#ff4a18" fill-opacity="0.48"/><circle cx="65.1" cy="304.6" r="0.66" fill="#e83a12" fill-opacity="0.52"/><circle cx="89.0" cy="304.5" r="0.58" fill="#ff4a18" fill-opacity="0.45"/><circle cx="128.6" cy="303.6" r="0.40" fill="#e83a12" fill-opacity="0.43"/><circle cx="131.1" cy="302.7" r="0.80" fill="#e83a12" fill-opacity="0.52"/><circle cx="170.7" cy="303.4" r="0.41" fill="#e83a12" fill-opacity="0.51"/><circle cx="70.9" cy="303.8" r="0.42" fill="#ff4a18" fill-opacity="0.41"/><circle cx="65.5" cy="304.1" r="0.47" fill="#ff4a18" fill-opacity="0.79"/><circle cx="153.5" cy="302.8" r="0.73" fill="#e83a12" fill-opacity="0.68"/><circle cx="96.5" cy="303.4" r="0.52" fill="#ff4a18" fill-opacity="0.59"/><circle cx="159.1" cy="303.7" r="0.74" fill="#e83a12" fill-opacity="0.59"/><circle cx="82.5" cy="303.1" r="0.51" fill="#e83a12" fill-opacity="0.76"/><circle cx="117.8" cy="303.3" r="0.78" fill="#ff4a18" fill-opacity="0.77"/><circle cx="129.0" cy="303.9" r="0.51" fill="#e83a12" fill-opacity="0.45"/><circle cx="133.3" cy="303.8" r="0.65" fill="#ff4a18" fill-opacity="0.71"/><circle cx="167.8" cy="304.0" r="0.75" fill="#e83a12" fill-opacity="0.60"/><circle cx="135.5" cy="302.8" r="0.52" fill="#ff4a18" fill-opacity="0.40"/><circle cx="159.8" cy="303.2" r="0.69" fill="#ff4a18" fill-opacity="0.45"/><circle cx="86.3" cy="303.8" r="0.66" fill="#ff4a18" fill-opacity="0.64"/><circle cx="139.3" cy="303.5" r="0.58" fill="#ff4a18" fill-opacity="0.53"/><circle cx="148.9" cy="303.3" r="0.68" fill="#ff4a18" fill-opacity="0.76"/><circle cx="163.0" cy="303.4" r="0.67" fill="#ff4a18" fill-opacity="0.55"/><circle cx="73.9" cy="303.2" r="0.72" fill="#e83a12" fill-opacity="0.44"/><circle cx="85.9" cy="304.3" r="0.79" fill="#ff4a18" fill-opacity="0.43"/><circle cx="72.5" cy="304.6" r="0.72" fill="#ff4a18" fill-opacity="0.48"/><circle cx="120.3" cy="303.7" r="0.55" fill="#ff4a18" fill-opacity="0.56"/><circle cx="65.9" cy="304.4" r="0.55" fill="#ff4a18" fill-opacity="0.66"/><circle cx="162.6" cy="302.2" r="0.54" fill="#e83a12" fill-opacity="0.64"/><circle cx="107.7" cy="304.2" r="0.66" fill="#ff4a18" fill-opacity="0.73"/><circle cx="122.2" cy="303.1" r="0.47" fill="#ff4a18" fill-opacity="0.68"/><circle cx="96.0" cy="304.2" r="0.56" fill="#e83a12" fill-opacity="0.65"/><circle cx="136.4" cy="303.8" r="0.50" fill="#e83a12" fill-opacity="0.66"/><circle cx="140.0" cy="302.8" r="0.46" fill="#ff4a18" fill-opacity="0.62"/><circle cx="68.1" cy="303.9" r="0.54" fill="#e83a12" fill-opacity="0.51"/><circle cx="115.2" cy="303.1" r="0.79" fill="#e83a12" fill-opacity="0.73"/><circle cx="129.7" cy="303.5" r="0.53" fill="#ff4a18" fill-opacity="0.59"/><circle cx="82.2" cy="304.1" r="0.67" fill="#e83a12" fill-opacity="0.62"/><circle cx="125.2" cy="303.3" r="0.64" fill="#ff4a18" fill-opacity="0.58"/><circle cx="122.3" cy="302.4" r="0.67" fill="#ff4a18" fill-opacity="0.49"/><circle cx="94.7" cy="303.4" r="0.45" fill="#e83a12" fill-opacity="0.48"/></g>
<path d="M66,296.5 C110,296 160,296 205,296.8" fill="none" stroke="#6a1006" stroke-width="1" stroke-opacity="0.6" filter="url(#bl05)"/>
<g filter="url(#bl05)"><circle cx="179.8" cy="296.7" r="0.54" fill="#c02010" fill-opacity="0.55"/><circle cx="172.3" cy="296.6" r="0.45" fill="#c02010" fill-opacity="0.57"/><circle cx="110.7" cy="296.7" r="0.40" fill="#c02010" fill-opacity="0.59"/><circle cx="155.9" cy="296.5" r="0.35" fill="#c02010" fill-opacity="0.49"/><circle cx="180.3" cy="296.6" r="0.41" fill="#c02010" fill-opacity="0.32"/><circle cx="123.7" cy="296.8" r="0.38" fill="#a01a08" fill-opacity="0.42"/><circle cx="121.7" cy="296.3" r="0.59" fill="#a01a08" fill-opacity="0.36"/><circle cx="176.4" cy="296.7" r="0.51" fill="#c02010" fill-opacity="0.59"/><circle cx="164.1" cy="296.7" r="0.61" fill="#c02010" fill-opacity="0.40"/><circle cx="99.0" cy="296.9" r="0.46" fill="#c02010" fill-opacity="0.39"/><circle cx="113.8" cy="297.0" r="0.44" fill="#c02010" fill-opacity="0.41"/><circle cx="126.1" cy="296.1" r="0.56" fill="#c02010" fill-opacity="0.45"/><circle cx="192.4" cy="296.3" r="0.66" fill="#a01a08" fill-opacity="0.35"/><circle cx="144.8" cy="295.9" r="0.42" fill="#c02010" fill-opacity="0.31"/><circle cx="204.4" cy="296.3" r="0.51" fill="#a01a08" fill-opacity="0.32"/><circle cx="200.1" cy="297.0" r="0.53" fill="#c02010" fill-opacity="0.55"/><circle cx="164.4" cy="296.5" r="0.68" fill="#c02010" fill-opacity="0.35"/><circle cx="165.6" cy="296.7" r="0.66" fill="#c02010" fill-opacity="0.54"/><circle cx="203.6" cy="296.2" r="0.60" fill="#a01a08" fill-opacity="0.53"/><circle cx="153.9" cy="297.0" r="0.38" fill="#a01a08" fill-opacity="0.38"/><circle cx="179.7" cy="295.9" r="0.72" fill="#a01a08" fill-opacity="0.34"/><circle cx="104.9" cy="296.5" r="0.37" fill="#a01a08" fill-opacity="0.52"/><circle cx="110.6" cy="296.3" r="0.38" fill="#a01a08" fill-opacity="0.55"/><circle cx="84.7" cy="296.8" r="0.67" fill="#a01a08" fill-opacity="0.40"/><circle cx="136.4" cy="295.8" r="0.49" fill="#c02010" fill-opacity="0.44"/><circle cx="67.2" cy="296.6" r="0.58" fill="#c02010" fill-opacity="0.55"/><circle cx="204.8" cy="297.0" r="0.64" fill="#a01a08" fill-opacity="0.50"/><circle cx="167.4" cy="295.8" r="0.50" fill="#c02010" fill-opacity="0.43"/><circle cx="174.3" cy="295.7" r="0.75" fill="#c02010" fill-opacity="0.30"/><circle cx="190.3" cy="296.2" r="0.42" fill="#a01a08" fill-opacity="0.53"/><circle cx="106.1" cy="296.4" r="0.75" fill="#c02010" fill-opacity="0.53"/><circle cx="126.6" cy="297.0" r="0.61" fill="#c02010" fill-opacity="0.59"/><circle cx="166.3" cy="296.8" r="0.73" fill="#c02010" fill-opacity="0.56"/><circle cx="152.5" cy="296.4" r="0.74" fill="#c02010" fill-opacity="0.43"/><circle cx="93.3" cy="296.7" r="0.72" fill="#a01a08" fill-opacity="0.32"/><circle cx="193.6" cy="296.6" r="0.68" fill="#a01a08" fill-opacity="0.37"/><circle cx="137.6" cy="297.1" r="0.42" fill="#a01a08" fill-opacity="0.44"/><circle cx="150.6" cy="296.7" r="0.45" fill="#c02010" fill-opacity="0.39"/><circle cx="195.9" cy="296.5" r="0.76" fill="#a01a08" fill-opacity="0.57"/><circle cx="161.2" cy="298.0" r="0.78" fill="#a01a08" fill-opacity="0.42"/></g>
<g filter="url(#bl1)">
<path d="M44,301 C50,297.5 60,296 70,298.5 C78,300 82,301 84,302 C78,304 72,304 68,303 L56,303 C52,304 47,304 44,301 Z" fill="#b01808" fill-opacity="0.85"/>
<path d="M47,311 C50,306 55,301 60,301 C64,302 66,308 68,314 C70,319 71,325 69,329 C65,331 59,329 55,325 C50,321 46,316 47,311 Z" fill="#c41c0a"/>
<path d="M48,314 C51,311 55,311 57,315 C58,319 57,323 54,323 C51,322 48,318 48,314 Z" fill="#e8340c"/>
<path d="M59,320 C62,317 66,319 68,323 C70,327 68,329 65,329 C61,328 59,324 59,320 Z" fill="#f86818"/>
<path d="M62,324.5 C64.5,323.5 67,325 67.5,327.5 C66.5,329 64,328.8 62.5,327 Z" fill="#ffc040"/>
<path d="M55,300 C57,299 59,300 60,303 C61,308 60,313 58,316 C56,313 55,306 55,300 Z" fill="#e03a0c"/>
</g>
<circle cx="58.7" cy="298.4" r="1.3" fill="#ff4a20" filter="url(#bl05)"/>
<circle cx="91" cy="305.5" r="1.4" fill="#e03010" filter="url(#bl05)"/>
</g>
<text x="24.3" y="292.5" font-size="7.5" fill="#f2f2f2" textLength="20.7" lengthAdjust="spacingAndGlyphs" stroke="#f2f2f2" stroke-width="0.15">Control</text>
<text x="215.2" y="292.6" font-size="7.3" fill="#f2f2f2" text-anchor="end" textLength="18.6" lengthAdjust="spacingAndGlyphs" stroke="#f2f2f2" stroke-width="0.2">48 hpf</text>
<text x="22.1" y="333" font-size="5.9" fill="#e6e6e6" textLength="19.1" lengthAdjust="spacingAndGlyphs" >325 µm</text>
<line x1="20.4" x2="43.2" y1="334.9" y2="334.9" stroke="#d8d8d8" stroke-width="0.8"/>
<text x="214.6" y="335.4" font-size="7.2" fill="#d42424" text-anchor="end" font-style="italic" textLength="37.4" lengthAdjust="spacingAndGlyphs" >Gata1:Dsred</text>
<g clip-path="url(#cF2)">
<ellipse cx="73" cy="375" rx="25" ry="19" fill="#2a0906" fill-opacity="0.9" filter="url(#bl2)"/>
<ellipse cx="40" cy="364" rx="15" ry="11" fill="#2a0806" fill-opacity="0.8" filter="url(#bl2)"/>
<path d="M70,358 C110,356 160,357 205,360 L205,369 C160,370 110,370 70,370 Z" fill="#1e0c06" fill-opacity="0.8" filter="url(#bl2)"/>
<g fill="#a01808"><circle cx="50.6" cy="372.5" r="0.60" fill-opacity="0.31"/><circle cx="91.7" cy="358.6" r="0.59" fill-opacity="0.20"/><circle cx="84.4" cy="371.7" r="0.50" fill-opacity="0.40"/><circle cx="62.9" cy="373.2" r="0.72" fill-opacity="0.29"/><circle cx="58.2" cy="373.1" r="0.72" fill-opacity="0.31"/><circle cx="83.4" cy="379.7" r="0.55" fill-opacity="0.26"/><circle cx="87.9" cy="387.8" r="0.40" fill-opacity="0.30"/><circle cx="70.0" cy="366.1" r="0.48" fill-opacity="0.43"/><circle cx="88.5" cy="369.2" r="0.52" fill-opacity="0.35"/><circle cx="58.7" cy="377.7" r="0.77" fill-opacity="0.35"/><circle cx="79.1" cy="393.2" r="0.57" fill-opacity="0.20"/><circle cx="50.8" cy="364.1" r="0.68" fill-opacity="0.46"/><circle cx="56.5" cy="380.5" r="0.57" fill-opacity="0.39"/><circle cx="85.6" cy="367.3" r="0.48" fill-opacity="0.44"/><circle cx="94.4" cy="377.0" r="0.42" fill-opacity="0.40"/><circle cx="53.2" cy="368.7" r="0.56" fill-opacity="0.29"/><circle cx="88.2" cy="393.8" r="0.51" fill-opacity="0.30"/><circle cx="87.4" cy="359.4" r="0.75" fill-opacity="0.23"/><circle cx="86.5" cy="359.7" r="0.71" fill-opacity="0.30"/><circle cx="69.3" cy="388.1" r="0.59" fill-opacity="0.44"/><circle cx="76.2" cy="386.0" r="0.47" fill-opacity="0.36"/><circle cx="83.5" cy="360.3" r="0.56" fill-opacity="0.37"/><circle cx="87.0" cy="372.1" r="0.66" fill-opacity="0.30"/><circle cx="81.8" cy="392.6" r="0.61" fill-opacity="0.34"/><circle cx="50.9" cy="363.3" r="0.45" fill-opacity="0.41"/><circle cx="74.4" cy="363.6" r="0.72" fill-opacity="0.30"/><circle cx="53.4" cy="365.2" r="0.37" fill-opacity="0.33"/><circle cx="56.7" cy="377.8" r="0.76" fill-opacity="0.36"/><circle cx="76.8" cy="384.8" r="0.52" fill-opacity="0.38"/><circle cx="90.1" cy="379.4" r="0.46" fill-opacity="0.18"/><circle cx="55.4" cy="381.7" r="0.38" fill-opacity="0.46"/><circle cx="68.3" cy="382.1" r="0.69" fill-opacity="0.37"/><circle cx="71.4" cy="366.8" r="0.62" fill-opacity="0.31"/><circle cx="57.0" cy="378.5" r="0.79" fill-opacity="0.44"/><circle cx="75.0" cy="363.8" r="0.45" fill-opacity="0.49"/><circle cx="65.0" cy="377.8" r="0.67" fill-opacity="0.27"/><circle cx="70.7" cy="379.9" r="0.48" fill-opacity="0.31"/><circle cx="60.3" cy="371.2" r="0.41" fill-opacity="0.26"/><circle cx="79.9" cy="356.8" r="0.65" fill-opacity="0.44"/><circle cx="88.0" cy="385.2" r="0.46" fill-opacity="0.26"/><circle cx="96.4" cy="378.8" r="0.77" fill-opacity="0.18"/><circle cx="61.2" cy="392.9" r="0.64" fill-opacity="0.47"/><circle cx="62.1" cy="359.6" r="0.45" fill-opacity="0.30"/><circle cx="87.0" cy="373.5" r="0.36" fill-opacity="0.41"/><circle cx="82.5" cy="380.2" r="0.52" fill-opacity="0.22"/><circle cx="93.0" cy="356.9" r="0.69" fill-opacity="0.18"/><circle cx="54.8" cy="393.5" r="0.69" fill-opacity="0.47"/><circle cx="61.5" cy="382.3" r="0.40" fill-opacity="0.21"/><circle cx="65.3" cy="390.0" r="0.42" fill-opacity="0.33"/><circle cx="54.1" cy="360.7" r="0.51" fill-opacity="0.46"/><circle cx="86.5" cy="373.2" r="0.51" fill-opacity="0.47"/><circle cx="72.7" cy="373.0" r="0.66" fill-opacity="0.28"/><circle cx="85.1" cy="376.4" r="0.70" fill-opacity="0.49"/><circle cx="86.8" cy="383.7" r="0.75" fill-opacity="0.35"/><circle cx="54.5" cy="384.1" r="0.67" fill-opacity="0.29"/><circle cx="53.2" cy="392.8" r="0.43" fill-opacity="0.49"/><circle cx="74.3" cy="377.8" r="0.48" fill-opacity="0.44"/><circle cx="93.0" cy="368.2" r="0.40" fill-opacity="0.34"/><circle cx="76.7" cy="382.6" r="0.45" fill-opacity="0.24"/><circle cx="67.4" cy="380.9" r="0.70" fill-opacity="0.16"/><circle cx="60.3" cy="358.5" r="0.59" fill-opacity="0.39"/><circle cx="62.8" cy="386.0" r="0.41" fill-opacity="0.41"/><circle cx="78.3" cy="384.9" r="0.50" fill-opacity="0.43"/><circle cx="62.2" cy="357.1" r="0.37" fill-opacity="0.26"/><circle cx="78.8" cy="379.8" r="0.37" fill-opacity="0.31"/><circle cx="51.8" cy="375.6" r="0.36" fill-opacity="0.33"/><circle cx="50.5" cy="385.4" r="0.67" fill-opacity="0.39"/><circle cx="59.3" cy="366.1" r="0.44" fill-opacity="0.19"/><circle cx="69.2" cy="374.9" r="0.49" fill-opacity="0.25"/><circle cx="80.5" cy="364.4" r="0.36" fill-opacity="0.26"/><circle cx="58.8" cy="358.3" r="0.69" fill-opacity="0.46"/><circle cx="71.8" cy="385.8" r="0.43" fill-opacity="0.16"/><circle cx="86.1" cy="392.9" r="0.38" fill-opacity="0.39"/><circle cx="71.7" cy="376.6" r="0.61" fill-opacity="0.26"/><circle cx="64.2" cy="362.2" r="0.56" fill-opacity="0.38"/><circle cx="58.7" cy="367.3" r="0.54" fill-opacity="0.19"/><circle cx="55.9" cy="381.3" r="0.58" fill-opacity="0.38"/><circle cx="68.5" cy="360.4" r="0.61" fill-opacity="0.24"/><circle cx="96.5" cy="356.2" r="0.54" fill-opacity="0.30"/><circle cx="70.4" cy="383.5" r="0.53" fill-opacity="0.42"/><circle cx="56.3" cy="377.5" r="0.37" fill-opacity="0.35"/><circle cx="60.8" cy="371.0" r="0.39" fill-opacity="0.31"/><circle cx="79.1" cy="387.1" r="0.38" fill-opacity="0.38"/><circle cx="56.9" cy="385.0" r="0.41" fill-opacity="0.31"/><circle cx="57.9" cy="387.7" r="0.66" fill-opacity="0.26"/><circle cx="56.6" cy="393.6" r="0.51" fill-opacity="0.41"/><circle cx="61.0" cy="391.8" r="0.60" fill-opacity="0.28"/><circle cx="69.5" cy="383.3" r="0.56" fill-opacity="0.34"/><circle cx="57.1" cy="387.3" r="0.76" fill-opacity="0.48"/><circle cx="93.1" cy="375.9" r="0.45" fill-opacity="0.44"/></g>
<path d="M68,357 C82,356 94,363 96,374 C97,385 89,393 72,394" fill="none" stroke="#6a1406" stroke-width="1.2" stroke-opacity="0.55" filter="url(#bl05)"/>
<g filter="url(#bl05)"><circle cx="31.6" cy="354.7" r="1.29" fill="#e03010" fill-opacity="0.54"/><circle cx="37.9" cy="354.8" r="1.20" fill="#e03010" fill-opacity="0.61"/><circle cx="31.0" cy="356.7" r="1.11" fill="#e03010" fill-opacity="0.80"/><circle cx="45.9" cy="356.9" r="1.04" fill="#a01808" fill-opacity="0.62"/><circle cx="53.7" cy="357.5" r="0.75" fill="#e03010" fill-opacity="0.55"/><circle cx="58.3" cy="357.8" r="1.10" fill="#c02010" fill-opacity="0.76"/><circle cx="39.7" cy="354.1" r="0.65" fill="#e03010" fill-opacity="0.55"/><circle cx="37.2" cy="356.5" r="1.25" fill="#a01808" fill-opacity="0.56"/><circle cx="55.7" cy="357.0" r="0.85" fill="#c02010" fill-opacity="0.71"/><circle cx="37.5" cy="356.6" r="0.57" fill="#c02010" fill-opacity="0.59"/><circle cx="58.1" cy="356.2" r="0.98" fill="#c02010" fill-opacity="0.51"/><circle cx="56.6" cy="357.1" r="1.28" fill="#a01808" fill-opacity="0.59"/><circle cx="40.7" cy="355.4" r="0.78" fill="#c02010" fill-opacity="0.53"/><circle cx="40.5" cy="356.3" r="1.17" fill="#a01808" fill-opacity="0.58"/><circle cx="42.4" cy="356.2" r="1.06" fill="#a01808" fill-opacity="0.53"/><circle cx="36.7" cy="355.7" r="0.93" fill="#a01808" fill-opacity="0.72"/><circle cx="27.3" cy="355.1" r="0.95" fill="#c02010" fill-opacity="0.55"/><circle cx="42.6" cy="356.4" r="1.00" fill="#a01808" fill-opacity="0.43"/><circle cx="53.2" cy="356.4" r="1.23" fill="#c02010" fill-opacity="0.56"/><circle cx="52.6" cy="356.6" r="0.94" fill="#c02010" fill-opacity="0.48"/><circle cx="36.0" cy="356.8" r="1.11" fill="#a01808" fill-opacity="0.58"/><circle cx="38.5" cy="356.6" r="0.68" fill="#c02010" fill-opacity="0.58"/><circle cx="45.7" cy="354.0" r="1.09" fill="#e03010" fill-opacity="0.75"/><circle cx="58.8" cy="354.5" r="1.27" fill="#e03010" fill-opacity="0.78"/><circle cx="48.6" cy="356.1" r="0.92" fill="#e03010" fill-opacity="0.68"/><circle cx="35.9" cy="354.1" r="0.78" fill="#e03010" fill-opacity="0.80"/><circle cx="36.1" cy="357.5" r="0.71" fill="#a01808" fill-opacity="0.56"/><circle cx="48.8" cy="356.0" r="1.23" fill="#a01808" fill-opacity="0.62"/><circle cx="58.8" cy="355.4" r="1.11" fill="#e03010" fill-opacity="0.43"/><circle cx="53.0" cy="357.1" r="0.95" fill="#e03010" fill-opacity="0.77"/><circle cx="50.1" cy="354.8" r="0.92" fill="#e03010" fill-opacity="0.67"/><circle cx="59.6" cy="354.0" r="1.12" fill="#a01808" fill-opacity="0.73"/><circle cx="33.6" cy="356.5" r="0.87" fill="#c02010" fill-opacity="0.79"/><circle cx="41.7" cy="357.2" r="0.73" fill="#c02010" fill-opacity="0.46"/><circle cx="40.4" cy="354.3" r="0.93" fill="#a01808" fill-opacity="0.55"/><circle cx="53.0" cy="356.6" r="0.74" fill="#a01808" fill-opacity="0.70"/><circle cx="29.7" cy="356.4" r="0.58" fill="#c02010" fill-opacity="0.71"/><circle cx="27.8" cy="355.0" r="0.87" fill="#a01808" fill-opacity="0.58"/><circle cx="32.8" cy="358.3" r="1.22" fill="#a01808" fill-opacity="0.62"/><circle cx="50.5" cy="356.9" r="1.04" fill="#c02010" fill-opacity="0.72"/><circle cx="56.1" cy="355.7" r="0.86" fill="#e03010" fill-opacity="0.44"/><circle cx="46.5" cy="357.3" r="0.91" fill="#c02010" fill-opacity="0.47"/><circle cx="30.9" cy="355.6" r="1.15" fill="#a01808" fill-opacity="0.70"/><circle cx="42.3" cy="356.0" r="0.93" fill="#a01808" fill-opacity="0.67"/><circle cx="27.1" cy="357.7" r="0.67" fill="#a01808" fill-opacity="0.52"/><circle cx="45.9" cy="357.3" r="1.07" fill="#c02010" fill-opacity="0.56"/><circle cx="34.2" cy="354.4" r="0.77" fill="#a01808" fill-opacity="0.45"/><circle cx="43.2" cy="355.3" r="0.91" fill="#e03010" fill-opacity="0.52"/><circle cx="30.7" cy="356.8" r="0.63" fill="#e03010" fill-opacity="0.79"/><circle cx="51.1" cy="355.5" r="0.65" fill="#a01808" fill-opacity="0.59"/></g>
<g filter="url(#bl05)" fill="none" stroke="#d8300c" stroke-width="1.6" stroke-opacity="0.85" stroke-linecap="round">
<path d="M30,369 C27,364 29,359 34,358 C38,357 40,361 38,366"/>
<path d="M33,357 C37,353 44,353 48,356"/>
<path d="M38,366 C41,371 44,373 47,374"/>
<path d="M41,360 C43,363 46,364 48,362"/>
<path d="M31,371 C34,373 38,374 41,373"/>
</g>
<g filter="url(#bl05)"><circle cx="49.0" cy="363.2" r="0.45" fill="#801406" fill-opacity="0.60"/><circle cx="48.9" cy="362.3" r="0.61" fill="#b01808" fill-opacity="0.69"/><circle cx="40.9" cy="363.0" r="0.50" fill="#801406" fill-opacity="0.37"/><circle cx="33.9" cy="368.3" r="0.93" fill="#d02a10" fill-opacity="0.51"/><circle cx="33.9" cy="365.0" r="0.82" fill="#b01808" fill-opacity="0.64"/><circle cx="42.8" cy="357.5" r="1.07" fill="#d02a10" fill-opacity="0.41"/><circle cx="31.5" cy="365.2" r="0.56" fill="#d02a10" fill-opacity="0.60"/><circle cx="30.2" cy="357.9" r="1.06" fill="#d02a10" fill-opacity="0.66"/><circle cx="41.3" cy="368.4" r="0.56" fill="#801406" fill-opacity="0.65"/><circle cx="41.4" cy="361.5" r="1.07" fill="#d02a10" fill-opacity="0.55"/><circle cx="35.2" cy="361.1" r="1.01" fill="#d02a10" fill-opacity="0.64"/><circle cx="36.7" cy="354.1" r="0.43" fill="#d02a10" fill-opacity="0.57"/><circle cx="45.7" cy="376.0" r="0.50" fill="#801406" fill-opacity="0.64"/><circle cx="44.1" cy="362.6" r="0.60" fill="#d02a10" fill-opacity="0.41"/><circle cx="40.6" cy="367.2" r="0.54" fill="#d02a10" fill-opacity="0.40"/><circle cx="31.3" cy="374.0" r="0.43" fill="#801406" fill-opacity="0.50"/><circle cx="32.0" cy="368.1" r="0.54" fill="#801406" fill-opacity="0.62"/><circle cx="39.3" cy="368.9" r="1.09" fill="#b01808" fill-opacity="0.48"/><circle cx="37.2" cy="375.6" r="0.98" fill="#801406" fill-opacity="0.54"/><circle cx="33.4" cy="369.2" r="0.99" fill="#d02a10" fill-opacity="0.45"/><circle cx="42.0" cy="370.1" r="0.65" fill="#d02a10" fill-opacity="0.43"/><circle cx="42.6" cy="361.2" r="0.73" fill="#801406" fill-opacity="0.40"/><circle cx="45.7" cy="363.2" r="0.47" fill="#d02a10" fill-opacity="0.62"/><circle cx="36.2" cy="366.8" r="0.57" fill="#801406" fill-opacity="0.35"/><circle cx="35.0" cy="368.4" r="0.99" fill="#801406" fill-opacity="0.42"/><circle cx="41.1" cy="359.9" r="0.56" fill="#801406" fill-opacity="0.37"/><circle cx="41.8" cy="366.9" r="0.82" fill="#b01808" fill-opacity="0.67"/><circle cx="35.3" cy="370.8" r="0.97" fill="#d02a10" fill-opacity="0.42"/><circle cx="43.5" cy="364.4" r="0.53" fill="#d02a10" fill-opacity="0.50"/><circle cx="32.5" cy="363.2" r="0.71" fill="#d02a10" fill-opacity="0.49"/><circle cx="44.1" cy="367.3" r="0.43" fill="#801406" fill-opacity="0.52"/><circle cx="28.4" cy="362.6" r="0.74" fill="#d02a10" fill-opacity="0.52"/><circle cx="29.6" cy="363.7" r="0.73" fill="#b01808" fill-opacity="0.60"/><circle cx="45.4" cy="366.5" r="0.44" fill="#b01808" fill-opacity="0.70"/><circle cx="33.6" cy="364.2" r="1.01" fill="#b01808" fill-opacity="0.38"/><circle cx="29.0" cy="362.0" r="0.80" fill="#d02a10" fill-opacity="0.44"/><circle cx="33.8" cy="367.5" r="0.57" fill="#d02a10" fill-opacity="0.48"/><circle cx="45.0" cy="369.8" r="0.44" fill="#b01808" fill-opacity="0.61"/><circle cx="43.1" cy="366.2" r="0.84" fill="#d02a10" fill-opacity="0.48"/><circle cx="40.7" cy="366.2" r="0.96" fill="#801406" fill-opacity="0.68"/><circle cx="35.5" cy="355.8" r="0.82" fill="#b01808" fill-opacity="0.44"/><circle cx="31.4" cy="364.4" r="0.99" fill="#d02a10" fill-opacity="0.60"/><circle cx="30.8" cy="364.9" r="0.48" fill="#b01808" fill-opacity="0.64"/><circle cx="34.4" cy="364.3" r="0.67" fill="#b01808" fill-opacity="0.37"/><circle cx="28.8" cy="367.6" r="0.74" fill="#d02a10" fill-opacity="0.41"/><circle cx="35.5" cy="365.2" r="0.55" fill="#d02a10" fill-opacity="0.55"/><circle cx="46.5" cy="367.7" r="0.76" fill="#801406" fill-opacity="0.69"/><circle cx="49.3" cy="358.6" r="0.88" fill="#801406" fill-opacity="0.44"/><circle cx="41.7" cy="367.5" r="0.86" fill="#d02a10" fill-opacity="0.58"/><circle cx="32.1" cy="370.3" r="0.60" fill="#d02a10" fill-opacity="0.52"/><circle cx="44.8" cy="366.5" r="0.75" fill="#d02a10" fill-opacity="0.48"/><circle cx="46.5" cy="377.8" r="0.96" fill="#d02a10" fill-opacity="0.37"/><circle cx="37.7" cy="361.5" r="0.87" fill="#d02a10" fill-opacity="0.42"/><circle cx="36.2" cy="365.8" r="1.02" fill="#801406" fill-opacity="0.66"/><circle cx="47.6" cy="377.7" r="0.72" fill="#801406" fill-opacity="0.58"/><circle cx="37.4" cy="364.5" r="0.77" fill="#b01808" fill-opacity="0.38"/><circle cx="33.2" cy="368.3" r="0.96" fill="#d02a10" fill-opacity="0.59"/><circle cx="42.5" cy="353.3" r="0.90" fill="#d02a10" fill-opacity="0.39"/><circle cx="28.4" cy="371.9" r="0.89" fill="#801406" fill-opacity="0.45"/><circle cx="28.8" cy="364.0" r="1.05" fill="#b01808" fill-opacity="0.60"/></g>
<path d="M49,366 C51,361 56,358 61,357 C64,364 63,372 62,380 C61,386 62,390 64,393 C57,392 52,386 50,380 C48,375 48,370 49,366 Z" fill="url(#gGl)" filter="url(#bl1)"/>
<circle cx="50.5" cy="369.5" r="2" fill="#ffb030" filter="url(#bl05)"/>
<path d="M64.4,357.5 C67.5,364 67,372 64.5,378 C61.5,383.5 60,388 63,392 C65,393.5 67,393.8 68.5,393.5" fill="none" stroke="#f06018" stroke-width="11" stroke-opacity="0.85" filter="url(#bl2)"/>
<path d="M64.4,357.5 C67.5,364 67,372 64.5,378 C61.5,383.5 60,388 63,392 C65,393.5 67,393.8 68.5,393.5" fill="none" stroke="#ffa828" stroke-width="6" filter="url(#bl1)"/>
<path d="M64.4,357.5 C67.5,364 67,372 64.5,378 C61.5,383.5 60,388 63,392 C65,393.5 67,393.8 68.5,393.5" fill="none" stroke="#ffe04a" stroke-width="3" filter="url(#bl05)"/>
<path d="M65,356.8 C75,357 85,358.5 93,360.5" fill="none" stroke="#c8280a" stroke-width="1.6" filter="url(#bl05)"/>
<path d="M69,364 C100,365.3 140,366.6 170,366 C185,365.2 195,364.8 204,364.8" fill="none" stroke="#d8380c" stroke-width="2.8" stroke-opacity="0.8" filter="url(#bl05)"/>
<g filter="url(#bl05)"><circle cx="198.0" cy="364.4" r="1.04" fill="#f05a12" fill-opacity="0.71"/><circle cx="176.4" cy="367.2" r="0.76" fill="#ffb030" fill-opacity="0.65"/><circle cx="112.4" cy="364.4" r="0.60" fill="#f05a12" fill-opacity="0.53"/><circle cx="115.3" cy="364.2" r="0.51" fill="#e8400c" fill-opacity="0.73"/><circle cx="200.3" cy="364.8" r="1.03" fill="#f05a12" fill-opacity="0.45"/><circle cx="181.2" cy="363.4" r="0.81" fill="#ffb030" fill-opacity="0.50"/><circle cx="120.9" cy="365.9" r="0.96" fill="#f05a12" fill-opacity="0.59"/><circle cx="139.4" cy="365.9" r="1.18" fill="#f05a12" fill-opacity="0.45"/><circle cx="168.2" cy="365.6" r="0.81" fill="#e8400c" fill-opacity="0.77"/><circle cx="144.2" cy="366.5" r="0.91" fill="#ffb030" fill-opacity="0.56"/><circle cx="162.2" cy="365.5" r="0.88" fill="#ff8a20" fill-opacity="0.42"/><circle cx="90.2" cy="365.6" r="0.88" fill="#ffb030" fill-opacity="0.73"/><circle cx="148.7" cy="365.8" r="0.93" fill="#ff8a20" fill-opacity="0.72"/><circle cx="164.7" cy="365.2" r="0.70" fill="#f05a12" fill-opacity="0.63"/><circle cx="102.1" cy="364.2" r="1.02" fill="#f05a12" fill-opacity="0.80"/><circle cx="169.9" cy="365.2" r="0.52" fill="#ff8a20" fill-opacity="0.57"/><circle cx="114.9" cy="365.5" r="0.54" fill="#f05a12" fill-opacity="0.43"/><circle cx="117.4" cy="364.7" r="0.64" fill="#f05a12" fill-opacity="0.47"/><circle cx="100.3" cy="363.9" r="0.89" fill="#ffb030" fill-opacity="0.42"/><circle cx="196.0" cy="361.8" r="0.74" fill="#ff8a20" fill-opacity="0.40"/><circle cx="135.4" cy="366.1" r="0.82" fill="#f05a12" fill-opacity="0.52"/><circle cx="192.3" cy="364.4" r="0.59" fill="#f05a12" fill-opacity="0.63"/><circle cx="188.9" cy="366.0" r="0.80" fill="#d0300a" fill-opacity="0.67"/><circle cx="111.2" cy="365.5" r="1.27" fill="#d0300a" fill-opacity="0.73"/><circle cx="163.9" cy="365.1" r="0.55" fill="#ff8a20" fill-opacity="0.58"/><circle cx="153.1" cy="365.6" r="1.30" fill="#ffb030" fill-opacity="0.67"/><circle cx="171.5" cy="366.1" r="1.23" fill="#e8400c" fill-opacity="0.55"/><circle cx="193.4" cy="364.2" r="1.12" fill="#d0300a" fill-opacity="0.51"/><circle cx="133.3" cy="365.3" r="1.24" fill="#d0300a" fill-opacity="0.58"/><circle cx="187.3" cy="365.3" r="0.67" fill="#d0300a" fill-opacity="0.47"/><circle cx="93.7" cy="366.0" r="1.04" fill="#ff8a20" fill-opacity="0.75"/><circle cx="193.6" cy="363.6" r="0.70" fill="#e8400c" fill-opacity="0.58"/><circle cx="71.0" cy="364.9" r="0.84" fill="#e8400c" fill-opacity="0.46"/><circle cx="78.3" cy="364.6" r="0.98" fill="#d0300a" fill-opacity="0.54"/><circle cx="187.8" cy="363.8" r="0.56" fill="#f05a12" fill-opacity="0.72"/><circle cx="188.2" cy="364.3" r="1.15" fill="#f05a12" fill-opacity="0.78"/><circle cx="100.1" cy="363.8" r="1.07" fill="#ffb030" fill-opacity="0.61"/><circle cx="116.2" cy="366.2" r="0.50" fill="#f05a12" fill-opacity="0.60"/><circle cx="136.4" cy="365.9" r="1.20" fill="#d0300a" fill-opacity="0.72"/><circle cx="186.7" cy="364.5" r="0.58" fill="#ff8a20" fill-opacity="0.66"/><circle cx="75.1" cy="365.8" r="0.71" fill="#ff8a20" fill-opacity="0.41"/><circle cx="182.8" cy="366.0" r="0.61" fill="#d0300a" fill-opacity="0.71"/><circle cx="80.8" cy="363.8" r="1.01" fill="#e8400c" fill-opacity="0.45"/><circle cx="176.0" cy="364.6" r="1.17" fill="#d0300a" fill-opacity="0.56"/><circle cx="104.0" cy="366.4" r="1.11" fill="#ffb030" fill-opacity="0.58"/><circle cx="151.2" cy="365.8" r="0.97" fill="#ff8a20" fill-opacity="0.69"/><circle cx="110.8" cy="364.4" r="1.13" fill="#ffb030" fill-opacity="0.79"/><circle cx="111.9" cy="365.9" r="0.97" fill="#f05a12" fill-opacity="0.75"/><circle cx="71.0" cy="363.7" r="1.27" fill="#ff8a20" fill-opacity="0.57"/><circle cx="134.0" cy="365.2" r="1.25" fill="#ffb030" fill-opacity="0.49"/><circle cx="188.9" cy="363.1" r="0.53" fill="#ff8a20" fill-opacity="0.43"/><circle cx="82.0" cy="363.5" r="0.73" fill="#e8400c" fill-opacity="0.79"/><circle cx="177.3" cy="364.0" r="1.05" fill="#ff8a20" fill-opacity="0.64"/><circle cx="129.2" cy="366.2" r="1.10" fill="#e8400c" fill-opacity="0.60"/><circle cx="166.2" cy="365.2" r="0.65" fill="#ff8a20" fill-opacity="0.64"/><circle cx="147.5" cy="364.9" r="1.21" fill="#e8400c" fill-opacity="0.72"/><circle cx="113.7" cy="365.3" r="1.24" fill="#ff8a20" fill-opacity="0.41"/><circle cx="69.5" cy="363.4" r="0.79" fill="#ffb030" fill-opacity="0.68"/><circle cx="130.6" cy="365.2" r="0.64" fill="#ffb030" fill-opacity="0.52"/><circle cx="200.1" cy="363.3" r="0.89" fill="#ffb030" fill-opacity="0.62"/><circle cx="142.9" cy="364.7" r="1.00" fill="#ff8a20" fill-opacity="0.65"/><circle cx="147.1" cy="366.8" r="1.11" fill="#ffb030" fill-opacity="0.48"/><circle cx="103.8" cy="366.2" r="1.15" fill="#f05a12" fill-opacity="0.54"/><circle cx="150.4" cy="365.1" r="0.86" fill="#d0300a" fill-opacity="0.79"/><circle cx="156.5" cy="365.7" r="0.90" fill="#e8400c" fill-opacity="0.79"/><circle cx="85.8" cy="365.5" r="1.02" fill="#ffb030" fill-opacity="0.65"/><circle cx="136.2" cy="367.2" r="0.92" fill="#ff8a20" fill-opacity="0.55"/><circle cx="121.5" cy="366.6" r="0.64" fill="#ffb030" fill-opacity="0.49"/><circle cx="158.3" cy="365.7" r="0.63" fill="#ffb030" fill-opacity="0.52"/><circle cx="94.0" cy="365.1" r="0.74" fill="#ffb030" fill-opacity="0.53"/><circle cx="78.1" cy="364.3" r="0.61" fill="#d0300a" fill-opacity="0.60"/><circle cx="175.0" cy="365.7" r="0.78" fill="#ffb030" fill-opacity="0.42"/><circle cx="172.4" cy="366.6" r="1.29" fill="#ffb030" fill-opacity="0.69"/><circle cx="146.0" cy="366.8" r="0.56" fill="#f05a12" fill-opacity="0.78"/><circle cx="202.6" cy="364.3" r="0.96" fill="#ff8a20" fill-opacity="0.56"/><circle cx="148.7" cy="364.1" r="0.78" fill="#ff8a20" fill-opacity="0.53"/><circle cx="161.0" cy="365.7" r="0.73" fill="#e8400c" fill-opacity="0.55"/><circle cx="118.0" cy="365.3" r="1.16" fill="#e8400c" fill-opacity="0.78"/><circle cx="196.0" cy="365.9" r="0.98" fill="#ff8a20" fill-opacity="0.60"/><circle cx="74.1" cy="365.1" r="1.14" fill="#d0300a" fill-opacity="0.70"/><circle cx="110.9" cy="365.0" r="1.18" fill="#d0300a" fill-opacity="0.42"/><circle cx="157.0" cy="365.8" r="0.70" fill="#d0300a" fill-opacity="0.58"/><circle cx="91.1" cy="363.8" r="0.90" fill="#ff8a20" fill-opacity="0.67"/><circle cx="181.1" cy="364.3" r="0.60" fill="#e8400c" fill-opacity="0.72"/><circle cx="195.7" cy="364.4" r="1.00" fill="#ffb030" fill-opacity="0.64"/><circle cx="121.4" cy="366.3" r="0.98" fill="#ffb030" fill-opacity="0.75"/><circle cx="72.3" cy="363.7" r="1.24" fill="#e8400c" fill-opacity="0.41"/><circle cx="118.9" cy="365.7" r="0.75" fill="#ff8a20" fill-opacity="0.76"/><circle cx="93.3" cy="365.8" r="1.10" fill="#f05a12" fill-opacity="0.77"/><circle cx="85.7" cy="363.6" r="0.68" fill="#ffb030" fill-opacity="0.60"/><circle cx="160.8" cy="363.6" r="0.68" fill="#d0300a" fill-opacity="0.79"/><circle cx="144.0" cy="365.5" r="1.17" fill="#ff8a20" fill-opacity="0.60"/><circle cx="173.0" cy="365.6" r="0.73" fill="#d0300a" fill-opacity="0.79"/><circle cx="71.4" cy="364.3" r="0.63" fill="#ffb030" fill-opacity="0.79"/><circle cx="71.6" cy="364.8" r="0.56" fill="#ff8a20" fill-opacity="0.77"/><circle cx="173.1" cy="365.3" r="0.83" fill="#f05a12" fill-opacity="0.48"/><circle cx="91.2" cy="365.8" r="1.18" fill="#f05a12" fill-opacity="0.50"/><circle cx="185.5" cy="365.1" r="0.63" fill="#ff8a20" fill-opacity="0.41"/><circle cx="72.3" cy="365.4" r="0.55" fill="#ff8a20" fill-opacity="0.66"/><circle cx="106.2" cy="364.4" r="1.03" fill="#f05a12" fill-opacity="0.75"/><circle cx="156.9" cy="367.5" r="0.84" fill="#f05a12" fill-opacity="0.71"/><circle cx="93.6" cy="366.1" r="1.23" fill="#d0300a" fill-opacity="0.55"/><circle cx="144.5" cy="365.8" r="1.12" fill="#f05a12" fill-opacity="0.47"/><circle cx="173.3" cy="365.3" r="0.96" fill="#ff8a20" fill-opacity="0.59"/><circle cx="183.2" cy="364.5" r="1.25" fill="#e8400c" fill-opacity="0.63"/><circle cx="179.1" cy="364.7" r="0.68" fill="#ffb030" fill-opacity="0.58"/><circle cx="190.7" cy="364.2" r="0.98" fill="#e8400c" fill-opacity="0.55"/><circle cx="175.2" cy="363.7" r="0.97" fill="#ffb030" fill-opacity="0.48"/><circle cx="123.1" cy="366.3" r="0.58" fill="#ff8a20" fill-opacity="0.75"/><circle cx="202.1" cy="363.4" r="0.79" fill="#e8400c" fill-opacity="0.67"/><circle cx="88.3" cy="365.8" r="0.73" fill="#e8400c" fill-opacity="0.78"/><circle cx="139.3" cy="365.0" r="0.93" fill="#ffb030" fill-opacity="0.60"/><circle cx="105.2" cy="365.4" r="1.18" fill="#ffb030" fill-opacity="0.52"/><circle cx="95.0" cy="366.3" r="0.93" fill="#d0300a" fill-opacity="0.49"/><circle cx="174.0" cy="364.8" r="1.02" fill="#ffb030" fill-opacity="0.52"/><circle cx="155.7" cy="365.9" r="0.52" fill="#ff8a20" fill-opacity="0.79"/><circle cx="104.2" cy="365.3" r="1.05" fill="#ff8a20" fill-opacity="0.47"/><circle cx="155.6" cy="365.3" r="1.10" fill="#ffb030" fill-opacity="0.64"/><circle cx="158.4" cy="364.7" r="1.02" fill="#f05a12" fill-opacity="0.58"/><circle cx="170.1" cy="364.9" r="0.71" fill="#f05a12" fill-opacity="0.46"/><circle cx="138.0" cy="365.5" r="0.80" fill="#ff8a20" fill-opacity="0.41"/><circle cx="167.1" cy="364.8" r="0.51" fill="#ffb030" fill-opacity="0.52"/><circle cx="132.3" cy="364.8" r="0.61" fill="#ff8a20" fill-opacity="0.54"/><circle cx="176.5" cy="364.1" r="0.97" fill="#f05a12" fill-opacity="0.48"/><circle cx="85.8" cy="364.4" r="0.88" fill="#ff8a20" fill-opacity="0.68"/><circle cx="125.9" cy="367.0" r="0.76" fill="#e8400c" fill-opacity="0.73"/><circle cx="101.6" cy="366.2" r="0.70" fill="#e8400c" fill-opacity="0.77"/><circle cx="92.3" cy="365.2" r="0.84" fill="#ff8a20" fill-opacity="0.62"/><circle cx="145.9" cy="367.3" r="1.18" fill="#d0300a" fill-opacity="0.60"/><circle cx="179.7" cy="365.0" r="0.64" fill="#ff8a20" fill-opacity="0.46"/><circle cx="86.8" cy="363.7" r="0.81" fill="#f05a12" fill-opacity="0.46"/><circle cx="143.1" cy="366.2" r="0.54" fill="#ff8a20" fill-opacity="0.57"/><circle cx="180.5" cy="365.4" r="0.88" fill="#ffb030" fill-opacity="0.79"/><circle cx="120.6" cy="364.9" r="1.10" fill="#ffb030" fill-opacity="0.58"/><circle cx="91.6" cy="365.6" r="0.79" fill="#f05a12" fill-opacity="0.57"/><circle cx="110.7" cy="365.2" r="0.89" fill="#ffb030" fill-opacity="0.49"/><circle cx="190.3" cy="364.3" r="1.19" fill="#ff8a20" fill-opacity="0.44"/><circle cx="71.3" cy="364.1" r="0.97" fill="#ffb030" fill-opacity="0.47"/><circle cx="127.4" cy="366.1" r="0.92" fill="#f05a12" fill-opacity="0.76"/><circle cx="119.6" cy="366.1" r="1.26" fill="#d0300a" fill-opacity="0.65"/><circle cx="87.2" cy="363.8" r="0.69" fill="#f05a12" fill-opacity="0.55"/><circle cx="105.7" cy="365.2" r="1.15" fill="#f05a12" fill-opacity="0.67"/><circle cx="81.1" cy="364.4" r="1.19" fill="#d0300a" fill-opacity="0.42"/><circle cx="88.7" cy="365.0" r="1.15" fill="#f05a12" fill-opacity="0.78"/><circle cx="169.7" cy="365.5" r="1.27" fill="#d0300a" fill-opacity="0.47"/><circle cx="178.4" cy="365.7" r="0.77" fill="#e8400c" fill-opacity="0.56"/><circle cx="79.4" cy="363.4" r="0.86" fill="#d0300a" fill-opacity="0.67"/><circle cx="113.9" cy="364.3" r="1.14" fill="#ffb030" fill-opacity="0.66"/><circle cx="122.8" cy="364.8" r="0.53" fill="#e8400c" fill-opacity="0.56"/><circle cx="86.6" cy="363.6" r="0.54" fill="#ffb030" fill-opacity="0.71"/><circle cx="130.7" cy="365.5" r="0.82" fill="#e8400c" fill-opacity="0.58"/><circle cx="180.9" cy="365.2" r="0.64" fill="#f05a12" fill-opacity="0.47"/><circle cx="131.9" cy="364.9" r="1.29" fill="#d0300a" fill-opacity="0.77"/><circle cx="101.4" cy="365.7" r="0.92" fill="#ff8a20" fill-opacity="0.72"/><circle cx="138.1" cy="365.5" r="0.77" fill="#ffb030" fill-opacity="0.64"/><circle cx="93.3" cy="365.6" r="0.81" fill="#e8400c" fill-opacity="0.78"/><circle cx="163.5" cy="367.1" r="0.89" fill="#f05a12" fill-opacity="0.79"/><circle cx="124.0" cy="366.1" r="0.52" fill="#d0300a" fill-opacity="0.47"/><circle cx="107.7" cy="366.9" r="1.21" fill="#f05a12" fill-opacity="0.48"/><circle cx="75.4" cy="363.0" r="0.79" fill="#d0300a" fill-opacity="0.42"/><circle cx="171.6" cy="364.2" r="1.14" fill="#f05a12" fill-opacity="0.70"/><circle cx="201.1" cy="363.7" r="1.20" fill="#ff8a20" fill-opacity="0.68"/><circle cx="197.2" cy="365.6" r="1.03" fill="#ff8a20" fill-opacity="0.50"/><circle cx="114.2" cy="366.0" r="0.82" fill="#d0300a" fill-opacity="0.73"/><circle cx="115.1" cy="365.7" r="1.02" fill="#f05a12" fill-opacity="0.49"/><circle cx="154.9" cy="365.2" r="1.20" fill="#e8400c" fill-opacity="0.70"/><circle cx="88.2" cy="365.0" r="0.61" fill="#ff8a20" fill-opacity="0.58"/><circle cx="157.9" cy="366.3" r="0.97" fill="#d0300a" fill-opacity="0.75"/><circle cx="140.1" cy="364.8" r="0.87" fill="#ff8a20" fill-opacity="0.56"/><circle cx="162.7" cy="363.0" r="1.06" fill="#f05a12" fill-opacity="0.70"/><circle cx="175.7" cy="366.6" r="0.96" fill="#ffb030" fill-opacity="0.56"/><circle cx="79.4" cy="364.6" r="0.61" fill="#f05a12" fill-opacity="0.67"/><circle cx="141.6" cy="366.2" r="0.94" fill="#e8400c" fill-opacity="0.50"/><circle cx="194.7" cy="364.8" r="0.58" fill="#d0300a" fill-opacity="0.69"/><circle cx="126.7" cy="366.9" r="0.90" fill="#f05a12" fill-opacity="0.65"/><circle cx="118.6" cy="366.3" r="1.29" fill="#ffb030" fill-opacity="0.53"/><circle cx="73.0" cy="364.0" r="1.05" fill="#d0300a" fill-opacity="0.63"/><circle cx="123.5" cy="365.0" r="0.60" fill="#e8400c" fill-opacity="0.50"/><circle cx="180.9" cy="364.7" r="0.64" fill="#d0300a" fill-opacity="0.57"/><circle cx="168.4" cy="363.6" r="0.70" fill="#f05a12" fill-opacity="0.41"/><circle cx="169.2" cy="365.6" r="0.99" fill="#ffb030" fill-opacity="0.64"/><circle cx="143.9" cy="365.7" r="0.72" fill="#e8400c" fill-opacity="0.76"/><circle cx="98.9" cy="364.8" r="1.17" fill="#ffb030" fill-opacity="0.55"/><circle cx="196.9" cy="362.6" r="0.89" fill="#ffb030" fill-opacity="0.60"/><circle cx="87.9" cy="364.3" r="0.88" fill="#ff8a20" fill-opacity="0.43"/><circle cx="106.9" cy="366.1" r="1.04" fill="#e8400c" fill-opacity="0.55"/><circle cx="156.7" cy="365.3" r="1.21" fill="#d0300a" fill-opacity="0.41"/><circle cx="109.5" cy="365.5" r="0.57" fill="#ff8a20" fill-opacity="0.77"/><circle cx="162.0" cy="366.5" r="1.04" fill="#ffb030" fill-opacity="0.51"/><circle cx="96.2" cy="364.2" r="0.62" fill="#ff8a20" fill-opacity="0.48"/><circle cx="176.6" cy="366.1" r="1.09" fill="#ff8a20" fill-opacity="0.79"/><circle cx="83.0" cy="365.6" r="0.83" fill="#f05a12" fill-opacity="0.47"/><circle cx="114.9" cy="365.8" r="0.95" fill="#e8400c" fill-opacity="0.58"/><circle cx="71.5" cy="362.7" r="1.19" fill="#f05a12" fill-opacity="0.73"/><circle cx="127.7" cy="366.4" r="1.29" fill="#f05a12" fill-opacity="0.60"/><circle cx="109.2" cy="367.0" r="0.96" fill="#ff8a20" fill-opacity="0.65"/><circle cx="195.9" cy="364.5" r="0.88" fill="#ff8a20" fill-opacity="0.58"/><circle cx="191.4" cy="364.5" r="0.74" fill="#ffb030" fill-opacity="0.62"/><circle cx="84.1" cy="365.0" r="1.01" fill="#f05a12" fill-opacity="0.79"/><circle cx="84.2" cy="364.3" r="1.05" fill="#d0300a" fill-opacity="0.76"/></g>
<path d="M70,364.2 C100,365.4 140,366.6 170,366 C185,365.2 195,364.8 203,364.8" fill="none" stroke="#ff8a22" stroke-width="1.4" stroke-opacity="0.9" filter="url(#bl05)"/>
<g filter="url(#bl05)"><circle cx="124.1" cy="365.9" r="0.88" fill="#ffb030" fill-opacity="0.75"/><circle cx="149.8" cy="366.2" r="0.68" fill="#ffd040" fill-opacity="0.70"/><circle cx="146.5" cy="365.8" r="1.01" fill="#ffb030" fill-opacity="0.63"/><circle cx="152.2" cy="365.8" r="1.02" fill="#ffd040" fill-opacity="0.55"/><circle cx="148.1" cy="365.1" r="1.05" fill="#ffd040" fill-opacity="0.68"/><circle cx="146.5" cy="365.4" r="0.93" fill="#ffd040" fill-opacity="0.53"/><circle cx="134.2" cy="365.5" r="0.99" fill="#ffb030" fill-opacity="0.71"/><circle cx="148.9" cy="365.2" r="1.09" fill="#ffb030" fill-opacity="0.70"/><circle cx="158.8" cy="365.8" r="0.67" fill="#ffd040" fill-opacity="0.47"/><circle cx="156.7" cy="366.4" r="0.64" fill="#ffd040" fill-opacity="0.48"/><circle cx="141.9" cy="365.8" r="0.79" fill="#ffb030" fill-opacity="0.50"/><circle cx="150.5" cy="365.6" r="0.60" fill="#ffd040" fill-opacity="0.55"/><circle cx="145.3" cy="365.9" r="0.92" fill="#ffb030" fill-opacity="0.56"/><circle cx="140.1" cy="365.0" r="0.61" fill="#ffb030" fill-opacity="0.79"/><circle cx="161.5" cy="365.4" r="0.91" fill="#ffd040" fill-opacity="0.72"/><circle cx="135.1" cy="365.6" r="0.94" fill="#ffb030" fill-opacity="0.65"/><circle cx="137.7" cy="366.0" r="0.55" fill="#ffd040" fill-opacity="0.52"/><circle cx="141.6" cy="366.1" r="0.65" fill="#ffd040" fill-opacity="0.64"/><circle cx="125.1" cy="365.6" r="0.73" fill="#ffd040" fill-opacity="0.68"/><circle cx="129.0" cy="365.7" r="1.08" fill="#ffb030" fill-opacity="0.57"/><circle cx="122.6" cy="365.9" r="0.99" fill="#ffd040" fill-opacity="0.75"/><circle cx="154.3" cy="365.8" r="0.84" fill="#ffb030" fill-opacity="0.42"/><circle cx="149.3" cy="365.6" r="0.84" fill="#ffb030" fill-opacity="0.50"/><circle cx="164.4" cy="364.6" r="0.95" fill="#ffb030" fill-opacity="0.44"/><circle cx="121.6" cy="365.6" r="0.83" fill="#ffb030" fill-opacity="0.66"/><circle cx="160.3" cy="364.7" r="0.80" fill="#ffb030" fill-opacity="0.66"/><circle cx="138.7" cy="366.2" r="0.51" fill="#ffb030" fill-opacity="0.53"/><circle cx="127.2" cy="366.1" r="0.88" fill="#ffb030" fill-opacity="0.44"/><circle cx="149.9" cy="365.6" r="0.61" fill="#ffb030" fill-opacity="0.54"/><circle cx="142.0" cy="365.8" r="0.59" fill="#ffd040" fill-opacity="0.73"/></g>
<path d="M183,364.6 C190,364.2 196,364.2 201,364.6" stroke="#ff8a20" stroke-width="4" stroke-opacity="0.85" stroke-linecap="round" fill="none" filter="url(#bl05)"/>
<path d="M184,364.6 C190,364.3 195,364.3 199,364.6" stroke="#ffe050" stroke-width="2.2" stroke-linecap="round" fill="none" filter="url(#bl05)"/>
<g filter="url(#bl05)"><circle cx="91.4" cy="358.3" r="0.66" fill="#c02a0a" fill-opacity="0.40"/><circle cx="160.8" cy="358.7" r="0.81" fill="#b02008" fill-opacity="0.53"/><circle cx="185.6" cy="359.4" r="0.95" fill="#b02008" fill-opacity="0.59"/><circle cx="179.4" cy="359.4" r="0.95" fill="#b02008" fill-opacity="0.49"/><circle cx="136.2" cy="358.7" r="0.92" fill="#b02008" fill-opacity="0.39"/><circle cx="130.3" cy="358.3" r="0.63" fill="#901a06" fill-opacity="0.43"/><circle cx="106.5" cy="358.6" r="0.58" fill="#c02a0a" fill-opacity="0.36"/><circle cx="170.6" cy="358.4" r="0.89" fill="#b02008" fill-opacity="0.48"/><circle cx="112.6" cy="358.4" r="0.45" fill="#b02008" fill-opacity="0.38"/><circle cx="114.7" cy="357.3" r="0.49" fill="#b02008" fill-opacity="0.34"/><circle cx="119.8" cy="358.3" r="0.46" fill="#c02a0a" fill-opacity="0.48"/><circle cx="72.7" cy="358.5" r="0.78" fill="#c02a0a" fill-opacity="0.45"/><circle cx="106.2" cy="357.8" r="0.79" fill="#901a06" fill-opacity="0.53"/><circle cx="82.5" cy="357.5" r="0.51" fill="#901a06" fill-opacity="0.57"/><circle cx="192.4" cy="359.2" r="0.74" fill="#c02a0a" fill-opacity="0.38"/><circle cx="156.5" cy="358.1" r="0.49" fill="#c02a0a" fill-opacity="0.53"/><circle cx="95.4" cy="359.5" r="0.59" fill="#c02a0a" fill-opacity="0.54"/><circle cx="174.8" cy="358.7" r="0.77" fill="#901a06" fill-opacity="0.58"/><circle cx="107.8" cy="358.9" r="0.81" fill="#901a06" fill-opacity="0.51"/><circle cx="87.1" cy="359.5" r="0.57" fill="#901a06" fill-opacity="0.45"/><circle cx="141.1" cy="358.3" r="0.64" fill="#901a06" fill-opacity="0.51"/><circle cx="97.9" cy="359.2" r="0.63" fill="#b02008" fill-opacity="0.53"/><circle cx="146.8" cy="358.6" r="0.72" fill="#901a06" fill-opacity="0.43"/><circle cx="141.1" cy="357.9" r="0.91" fill="#b02008" fill-opacity="0.38"/><circle cx="164.6" cy="358.7" r="0.90" fill="#901a06" fill-opacity="0.32"/><circle cx="186.1" cy="358.2" r="0.79" fill="#c02a0a" fill-opacity="0.36"/><circle cx="174.4" cy="358.4" r="0.78" fill="#c02a0a" fill-opacity="0.34"/><circle cx="158.0" cy="358.2" r="0.58" fill="#901a06" fill-opacity="0.31"/><circle cx="117.9" cy="358.0" r="0.65" fill="#901a06" fill-opacity="0.38"/><circle cx="83.7" cy="358.3" r="0.87" fill="#b02008" fill-opacity="0.58"/><circle cx="185.2" cy="359.4" r="0.62" fill="#b02008" fill-opacity="0.47"/><circle cx="78.2" cy="359.7" r="0.89" fill="#901a06" fill-opacity="0.60"/><circle cx="125.9" cy="359.0" r="0.86" fill="#901a06" fill-opacity="0.43"/><circle cx="186.3" cy="359.8" r="0.56" fill="#c02a0a" fill-opacity="0.49"/><circle cx="102.7" cy="360.4" r="0.87" fill="#901a06" fill-opacity="0.56"/><circle cx="150.2" cy="359.4" r="0.60" fill="#c02a0a" fill-opacity="0.30"/><circle cx="120.6" cy="358.9" r="0.83" fill="#c02a0a" fill-opacity="0.38"/><circle cx="185.6" cy="359.3" r="0.52" fill="#c02a0a" fill-opacity="0.58"/><circle cx="154.7" cy="358.6" r="0.40" fill="#901a06" fill-opacity="0.47"/><circle cx="160.8" cy="358.4" r="0.53" fill="#b02008" fill-opacity="0.44"/><circle cx="161.0" cy="358.6" r="0.74" fill="#b02008" fill-opacity="0.32"/><circle cx="93.6" cy="358.9" r="0.41" fill="#901a06" fill-opacity="0.41"/><circle cx="179.1" cy="359.2" r="0.46" fill="#c02a0a" fill-opacity="0.47"/><circle cx="121.5" cy="358.8" r="0.64" fill="#901a06" fill-opacity="0.46"/><circle cx="121.8" cy="359.1" r="0.57" fill="#b02008" fill-opacity="0.52"/><circle cx="114.4" cy="358.6" r="0.43" fill="#901a06" fill-opacity="0.51"/><circle cx="173.5" cy="359.5" r="0.56" fill="#c02a0a" fill-opacity="0.43"/><circle cx="185.1" cy="359.8" r="0.46" fill="#b02008" fill-opacity="0.60"/><circle cx="155.6" cy="358.4" r="0.95" fill="#c02a0a" fill-opacity="0.53"/><circle cx="105.2" cy="358.0" r="0.80" fill="#c02a0a" fill-opacity="0.43"/><circle cx="179.0" cy="358.7" r="0.93" fill="#901a06" fill-opacity="0.46"/><circle cx="119.0" cy="358.1" r="0.51" fill="#b02008" fill-opacity="0.38"/><circle cx="194.2" cy="358.9" r="0.93" fill="#c02a0a" fill-opacity="0.48"/><circle cx="108.2" cy="358.6" r="0.42" fill="#901a06" fill-opacity="0.46"/><circle cx="136.7" cy="358.1" r="0.41" fill="#901a06" fill-opacity="0.36"/><circle cx="163.2" cy="358.6" r="0.83" fill="#b02008" fill-opacity="0.46"/><circle cx="129.1" cy="359.6" r="0.40" fill="#b02008" fill-opacity="0.58"/><circle cx="156.9" cy="359.2" r="0.82" fill="#901a06" fill-opacity="0.58"/><circle cx="174.9" cy="358.9" r="0.77" fill="#b02008" fill-opacity="0.35"/><circle cx="126.9" cy="358.8" r="0.62" fill="#b02008" fill-opacity="0.38"/></g>
</g>
<text x="24.3" y="350.8" font-size="7.5" fill="#f2f2f2" textLength="26.7" lengthAdjust="spacingAndGlyphs" stroke="#f2f2f2" stroke-width="0.15">Grna-MO</text>
<path d="M56.0,525.4 L56.6,522.6 L57.5,508.8 L58.5,493.1 L59.2,482.7 L60.3,479.2 L61.5,477.5 L62.4,480.2 L63.3,480.4 L64.4,479.2 L65.3,482.0 L66.2,483.9 L67.3,478.3 L68.5,474.0 L70.2,472.9 L71.9,465.6 L73.0,467.3 L74.2,468.3 L75.8,464.5 L77.7,461.0 L79.0,464.5 L80.2,468.3 L81.3,461.7 L82.3,455.6 L83.2,458.0 L84.0,460.8 L85.0,455.3 L85.8,452.1 L86.7,453.4 L87.5,453.8 L88.4,452.5 L89.2,452.1 L90.1,453.4 L91.0,455.0 L92.1,458.5 L93.3,457.3 L94.4,460.8 L95.1,468.2 L95.6,474.6 L96.2,484.8 L96.7,487.6 L98.5,496.2 L100.8,503.8 L103.1,511.6 L106.2,516.2 L109.2,519.2 L112.3,521.5 L114.6,523.1 L116.2,522.8 L117.7,522.1 L119.0,522.6 L120.0,523.1 L122.3,524.6 L124.0,525.4 Z" fill="#8a98c2" fill-opacity="0.58" stroke="none"/>
<path d="M56.0,525.4 L56.6,522.6 L57.5,508.8 L58.5,493.1 L59.2,482.7 L60.3,479.2 L61.5,477.5 L62.4,480.2 L63.3,480.4 L64.4,479.2 L65.3,482.0 L66.2,483.9 L67.3,478.3 L68.5,474.0 L70.2,472.9 L71.9,465.6 L73.0,467.3 L74.2,468.3 L75.8,464.5 L77.7,461.0 L79.0,464.5 L80.2,468.3 L81.3,461.7 L82.3,455.6 L83.2,458.0 L84.0,460.8 L85.0,455.3 L85.8,452.1 L86.7,453.4 L87.5,453.8 L88.4,452.5 L89.2,452.1 L90.1,453.4 L91.0,455.0 L92.1,458.5 L93.3,457.3 L94.4,460.8 L95.1,468.2 L95.6,474.6 L96.2,484.8 L96.7,487.6 L98.5,496.2 L100.8,503.8 L103.1,511.6 L106.2,516.2 L109.2,519.2 L112.3,521.5 L114.6,523.1 L116.2,522.8 L117.7,522.1 L119.0,522.6 L120.0,523.1 L122.3,524.6 L124.0,525.4" fill="none" stroke="#4a5f9a" stroke-width="0.9"/>
<path d="M55.5,525.4 L56.2,524.6 L57.5,521.7 L59.2,519.2 L60.8,518.8 L62.3,518.5 L64.6,517.7 L66.2,518.9 L67.7,520.0 L69.3,518.0 L70.8,516.9 L72.7,516.5 L74.6,516.2 L76.2,515.1 L77.7,513.8 L80.0,510.0 L81.5,509.7 L83.1,509.2 L85.4,506.2 L87.7,504.6 L88.9,498.6 L90.0,491.5 L91.2,485.7 L92.3,479.2 L93.5,474.6 L94.6,470.0 L95.4,463.6 L96.2,457.3 L97.3,451.6 L98.2,447.9 L99.0,445.2 L99.9,451.6 L100.8,458.5 L101.7,458.2 L102.5,458.5 L103.7,463.0 L104.6,470.0 L105.4,483.9 L106.2,491.5 L107.3,496.8 L108.5,500.8 L110.8,508.5 L113.1,516.2 L114.6,522.3 L116.9,523.8 L119.2,524.6 L121.0,525.4 Z" fill="#d88a92" fill-opacity="0.5" stroke="none"/>
<path d="M55.5,525.4 L56.2,524.6 L57.5,521.7 L59.2,519.2 L60.8,518.8 L62.3,518.5 L64.6,517.7 L66.2,518.9 L67.7,520.0 L69.3,518.0 L70.8,516.9 L72.7,516.5 L74.6,516.2 L76.2,515.1 L77.7,513.8 L80.0,510.0 L81.5,509.7 L83.1,509.2 L85.4,506.2 L87.7,504.6 L88.9,498.6 L90.0,491.5 L91.2,485.7 L92.3,479.2 L93.5,474.6 L94.6,470.0 L95.4,463.6 L96.2,457.3 L97.3,451.6 L98.2,447.9 L99.0,445.2 L99.9,451.6 L100.8,458.5 L101.7,458.2 L102.5,458.5 L103.7,463.0 L104.6,470.0 L105.4,483.9 L106.2,491.5 L107.3,496.8 L108.5,500.8 L110.8,508.5 L113.1,516.2 L114.6,522.3 L116.9,523.8 L119.2,524.6 L121.0,525.4" fill="none" stroke="#c0304a" stroke-width="0.9"/>
<line x1="37.4" x2="134.9" y1="525" y2="525" stroke="#c0304a" stroke-width="0.8"/>
<rect x="37.4" y="428.2" width="97.5" height="97.2" fill="none" stroke="#111" stroke-width="1.1"/>
<line x1="34.7" x2="37.4" y1="525.4" y2="525.4" stroke="#111" stroke-width="0.8"/>
<text x="31.4" y="527.6" font-size="6.3" fill="#111" text-anchor="end" >0</text>
<line x1="34.7" x2="37.4" y1="506.9" y2="506.9" stroke="#111" stroke-width="0.8"/>
<text x="31.4" y="509.14" font-size="6.3" fill="#111" text-anchor="end" >20</text>
<line x1="34.7" x2="37.4" y1="488.5" y2="488.5" stroke="#111" stroke-width="0.8"/>
<text x="31.4" y="490.68" font-size="6.3" fill="#111" text-anchor="end" >40</text>
<line x1="34.7" x2="37.4" y1="470.0" y2="470.0" stroke="#111" stroke-width="0.8"/>
<text x="31.4" y="472.21999999999997" font-size="6.3" fill="#111" text-anchor="end" >60</text>
<line x1="34.7" x2="37.4" y1="451.6" y2="451.6" stroke="#111" stroke-width="0.8"/>
<text x="31.4" y="453.76" font-size="6.3" fill="#111" text-anchor="end" >80</text>
<line x1="34.7" x2="37.4" y1="433.1" y2="433.1" stroke="#111" stroke-width="0.8"/>
<text x="31.4" y="435.3" font-size="6.3" fill="#111" text-anchor="end" >100</text>
<line x1="46.5" x2="46.5" y1="525.4" y2="528" stroke="#111" stroke-width="0.8"/>
<line x1="56.9" x2="56.9" y1="525.4" y2="528" stroke="#111" stroke-width="0.8"/>
<line x1="81.2" x2="81.2" y1="525.4" y2="528" stroke="#111" stroke-width="0.8"/>
<line x1="104.2" x2="104.2" y1="525.4" y2="528" stroke="#111" stroke-width="0.8"/>
<line x1="126.2" x2="126.2" y1="525.4" y2="528" stroke="#111" stroke-width="0.8"/>
<line x1="64.2" x2="64.2" y1="525.4" y2="526.8" stroke="#111" stroke-width="0.6"/><line x1="68.5" x2="68.5" y1="525.4" y2="526.8" stroke="#111" stroke-width="0.6"/><line x1="71.5" x2="71.5" y1="525.4" y2="526.8" stroke="#111" stroke-width="0.6"/><line x1="73.9" x2="73.9" y1="525.4" y2="526.8" stroke="#111" stroke-width="0.6"/><line x1="75.8" x2="75.8" y1="525.4" y2="526.8" stroke="#111" stroke-width="0.6"/><line x1="77.4" x2="77.4" y1="525.4" y2="526.8" stroke="#111" stroke-width="0.6"/><line x1="78.8" x2="78.8" y1="525.4" y2="526.8" stroke="#111" stroke-width="0.6"/><line x1="80.1" x2="80.1" y1="525.4" y2="526.8" stroke="#111" stroke-width="0.6"/><line x1="88.1" x2="88.1" y1="525.4" y2="526.8" stroke="#111" stroke-width="0.6"/><line x1="92.2" x2="92.2" y1="525.4" y2="526.8" stroke="#111" stroke-width="0.6"/><line x1="95.0" x2="95.0" y1="525.4" y2="526.8" stroke="#111" stroke-width="0.6"/><line x1="97.3" x2="97.3" y1="525.4" y2="526.8" stroke="#111" stroke-width="0.6"/><line x1="99.1" x2="99.1" y1="525.4" y2="526.8" stroke="#111" stroke-width="0.6"/><line x1="100.6" x2="100.6" y1="525.4" y2="526.8" stroke="#111" stroke-width="0.6"/><line x1="102.0" x2="102.0" y1="525.4" y2="526.8" stroke="#111" stroke-width="0.6"/><line x1="103.1" x2="103.1" y1="525.4" y2="526.8" stroke="#111" stroke-width="0.6"/><line x1="110.8" x2="110.8" y1="525.4" y2="526.8" stroke="#111" stroke-width="0.6"/><line x1="114.7" x2="114.7" y1="525.4" y2="526.8" stroke="#111" stroke-width="0.6"/><line x1="117.4" x2="117.4" y1="525.4" y2="526.8" stroke="#111" stroke-width="0.6"/><line x1="119.6" x2="119.6" y1="525.4" y2="526.8" stroke="#111" stroke-width="0.6"/><line x1="121.3" x2="121.3" y1="525.4" y2="526.8" stroke="#111" stroke-width="0.6"/><line x1="122.8" x2="122.8" y1="525.4" y2="526.8" stroke="#111" stroke-width="0.6"/><line x1="124.1" x2="124.1" y1="525.4" y2="526.8" stroke="#111" stroke-width="0.6"/><line x1="125.2" x2="125.2" y1="525.4" y2="526.8" stroke="#111" stroke-width="0.6"/>
<text x="46.5" y="537.2" font-size="6.3" fill="#111" text-anchor="middle" >0</text>
<text x="55.7" y="537.2" font-size="6.3" text-anchor="middle" fill="#111">10<tspan font-size="4.8" dy="-3">2</tspan></text>
<text x="80.0" y="537.2" font-size="6.3" text-anchor="middle" fill="#111">10<tspan font-size="4.8" dy="-3">3</tspan></text>
<text x="103.0" y="537.2" font-size="6.3" text-anchor="middle" fill="#111">10<tspan font-size="4.8" dy="-3">4</tspan></text>
<text x="125.0" y="537.2" font-size="6.3" text-anchor="middle" fill="#111">10<tspan font-size="4.8" dy="-3">5</tspan></text>
<text x="69.6" y="549.6" font-size="7.4" fill="#000" font-style="italic" textLength="32.3" lengthAdjust="spacingAndGlyphs" stroke="#000" stroke-width="0.2">gata1:Dsred</text>
<text transform="translate(14.6,478.8) rotate(-90)" font-size="8.5" text-anchor="middle" fill="#000" stroke="#000" stroke-width="0.25" textLength="53.5" lengthAdjust="spacingAndGlyphs">Normalized to mode</text>
<rect x="44.1" y="432.3" width="7.7" height="4.3" fill="#c3c9de" stroke="#4a5f9a" stroke-width="0.6"/>
<text x="54.9" y="436.6" font-size="5.6" fill="#111" textLength="17.5" lengthAdjust="spacingAndGlyphs" >Control</text>
<rect x="88.3" y="432.3" width="7.3" height="4.3" fill="#e6b8be" stroke="#c0304a" stroke-width="0.6"/>
<text x="98.3" y="436.6" font-size="5.6" fill="#111" textLength="22.9" lengthAdjust="spacingAndGlyphs" >Grna-MO</text>
<line x1="179.8" y1="430.8" x2="179.8" y2="525.8" stroke="#111" stroke-width="1.1"/>
<line x1="179.2" y1="525.2" x2="250" y2="525.2" stroke="#111" stroke-width="1.1"/>
<line x1="176.8" x2="179.8" y1="525.2" y2="525.2" stroke="#111" stroke-width="0.8"/>
<text x="174" y="527.4000000000001" font-size="6.3" fill="#111" text-anchor="end" >0</text>
<line x1="176.8" x2="179.8" y1="507.0" y2="507.0" stroke="#111" stroke-width="0.8"/>
<text x="174" y="509.15000000000003" font-size="6.3" fill="#111" text-anchor="end" >5</text>
<line x1="176.8" x2="179.8" y1="488.7" y2="488.7" stroke="#111" stroke-width="0.8"/>
<text x="174" y="490.90000000000003" font-size="6.3" fill="#111" text-anchor="end" >10</text>
<line x1="176.8" x2="179.8" y1="470.5" y2="470.5" stroke="#111" stroke-width="0.8"/>
<text x="174" y="472.65000000000003" font-size="6.3" fill="#111" text-anchor="end" >15</text>
<line x1="176.8" x2="179.8" y1="452.2" y2="452.2" stroke="#111" stroke-width="0.8"/>
<text x="174" y="454.40000000000003" font-size="6.3" fill="#111" text-anchor="end" >20</text>
<line x1="176.8" x2="179.8" y1="434.0" y2="434.0" stroke="#111" stroke-width="0.8"/>
<text x="174" y="436.15000000000003" font-size="6.3" fill="#111" text-anchor="end" >25</text>
<line x1="199.8" x2="199.8" y1="525.2" y2="528" stroke="#111" stroke-width="0.8"/>
<line x1="230.2" x2="230.2" y1="525.2" y2="528" stroke="#111" stroke-width="0.8"/>
<text x="189.8" y="537.6" font-size="6.4" fill="#111" textLength="20.6" lengthAdjust="spacingAndGlyphs" >Control</text>
<text x="216.7" y="537.6" font-size="6.4" fill="#111" textLength="27" lengthAdjust="spacingAndGlyphs" >Grna-MO</text>
<path d="M200.5,440.6 L200.5,443.6 M200.5,442.3 L230,442.3 M230,440.6 L230,443.6" stroke="#111" stroke-width="1.0" fill="none"/>
<text x="216.7" y="435.8" font-size="4.6" fill="#111" text-anchor="middle" >ns</text>
<line x1="189.8" y1="481.035" x2="210" y2="481.035" stroke="#111" stroke-width="1.3"/>
<line x1="220" y1="477.75000000000006" x2="239.8" y2="477.75000000000006" stroke="#111" stroke-width="1.3"/>
<circle cx="199.8" cy="449.3" r="1.25" fill="#1f3a86"/>
<circle cx="199.8" cy="453.7" r="1.25" fill="#1f3a86"/>
<circle cx="199.8" cy="481.4" r="1.25" fill="#1f3a86"/>
<circle cx="199.8" cy="495.6" r="1.25" fill="#1f3a86"/>
<circle cx="199.8" cy="505.5" r="1.25" fill="#1f3a86"/>
<rect x="224.0" y="476.6" width="2.4" height="2.4" fill="#b0102c"/>
<rect x="229.0" y="474.4" width="2.4" height="2.4" fill="#b0102c"/>
<rect x="234.4" y="476.6" width="2.4" height="2.4" fill="#b0102c"/>
<rect x="229.0" y="483.9" width="2.4" height="2.4" fill="#b0102c"/>
<rect x="229.0" y="494.4" width="2.4" height="2.4" fill="#b0102c"/>
<text transform="translate(161.8,478) rotate(-90)" font-size="7.4" text-anchor="middle" fill="#000" stroke="#000" stroke-width="0.2" textLength="66" lengthAdjust="spacingAndGlyphs"><tspan font-style="italic">Gata1a:Dsred</tspan><tspan font-size="4.6" dy="-2.6">+</tspan><tspan dy="2.6"> cells (%)</tspan></text>
<line x1="37.4" y1="581.3" x2="37.4" y2="652.2" stroke="#111" stroke-width="1.1"/>
<line x1="36.9" y1="651.6" x2="131.3" y2="651.6" stroke="#111" stroke-width="1.1"/>
<line x1="34.6" x2="37.4" y1="651.6" y2="651.6" stroke="#111" stroke-width="0.8"/>
<text x="32" y="653.8000000000001" font-size="6.3" fill="#111" text-anchor="end" >0</text>
<line x1="34.6" x2="37.4" y1="638.1" y2="638.1" stroke="#111" stroke-width="0.8"/>
<text x="32" y="640.3000000000001" font-size="6.3" fill="#111" text-anchor="end" >10</text>
<line x1="34.6" x2="37.4" y1="624.6" y2="624.6" stroke="#111" stroke-width="0.8"/>
<text x="32" y="626.8000000000001" font-size="6.3" fill="#111" text-anchor="end" >20</text>
<line x1="34.6" x2="37.4" y1="611.1" y2="611.1" stroke="#111" stroke-width="0.8"/>
<text x="32" y="613.3000000000001" font-size="6.3" fill="#111" text-anchor="end" >30</text>
<line x1="34.6" x2="37.4" y1="597.6" y2="597.6" stroke="#111" stroke-width="0.8"/>
<text x="32" y="599.8000000000001" font-size="6.3" fill="#111" text-anchor="end" >40</text>
<line x1="34.6" x2="37.4" y1="584.1" y2="584.1" stroke="#111" stroke-width="0.8"/>
<text x="32" y="586.3000000000001" font-size="6.3" fill="#111" text-anchor="end" >50</text>
<line x1="63" x2="63" y1="651.6" y2="654.4" stroke="#111" stroke-width="0.8"/>
<line x1="113.75" x2="113.75" y1="651.6" y2="654.4" stroke="#111" stroke-width="0.8"/>
<text x="52.5" y="663.8" font-size="6.4" fill="#111" textLength="20.7" lengthAdjust="spacingAndGlyphs" >Control</text>
<text x="100" y="663.8" font-size="6.4" fill="#111" textLength="27" lengthAdjust="spacingAndGlyphs" >Grna-MO</text>
<path d="M62.5,591.4 L62.5,594.8 M62.5,593.1 L112.5,593.1 M112.5,591.4 L112.5,594.8" stroke="#111" stroke-width="1.0" fill="none"/>
<text x="87.9" y="587" font-size="4.6" fill="#111" text-anchor="middle" >ns</text>
<line x1="46.3" y1="622.3050000000001" x2="79.5" y2="622.3050000000001" stroke="#111" stroke-width="1.2"/>
<line x1="55" y1="615.5550000000001" x2="71.3" y2="615.5550000000001" stroke="#111" stroke-width="1.2"/>
<line x1="55" y1="628.7850000000001" x2="71.3" y2="628.7850000000001" stroke="#111" stroke-width="1.2"/>
<line x1="63" y1="615.5550000000001" x2="63" y2="628.7850000000001" stroke="#111" stroke-width="1.2"/>
<line x1="95.5" y1="620.28" x2="130" y2="620.28" stroke="#111" stroke-width="1.2"/>
<line x1="105.5" y1="616.095" x2="121.3" y2="616.095" stroke="#111" stroke-width="1.2"/>
<line x1="105.5" y1="624.6" x2="121.3" y2="624.6" stroke="#111" stroke-width="1.2"/>
<line x1="113.5" y1="616.095" x2="113.5" y2="624.6" stroke="#111" stroke-width="1.2"/>
<circle cx="63.3" cy="599.5" r="1.3" fill="#1f3a86"/>
<circle cx="63.3" cy="615.7" r="1.3" fill="#1f3a86"/>
<circle cx="63.3" cy="628.8" r="1.3" fill="#1f3a86"/>
<circle cx="59.8" cy="633.6" r="1.3" fill="#1f3a86"/>
<circle cx="66" cy="633.1" r="1.3" fill="#1f3a86"/>
<rect x="112.1" y="607.4" width="2.6" height="2.6" fill="#b0102c"/>
<rect x="115.5" y="611.4" width="2.6" height="2.6" fill="#b0102c"/>
<rect x="108.5" y="611.4" width="2.6" height="2.6" fill="#b0102c"/>
<rect x="112.1" y="621.3" width="2.6" height="2.6" fill="#b0102c"/>
<rect x="112.1" y="626.8" width="2.6" height="2.6" fill="#b0102c"/>
<rect x="112.1" y="632.3" width="2.6" height="2.6" fill="#b0102c"/>
<text transform="translate(17.9,616.5) rotate(-90)" font-size="8" text-anchor="middle" fill="#000" stroke="#000" stroke-width="0.1" textLength="58" lengthAdjust="spacingAndGlyphs">LCR:eGFP+ cells (%)</text>
<line x1="179.7" y1="573" x2="179.7" y2="652.1" stroke="#111" stroke-width="1.1"/>
<line x1="179.1" y1="651.5" x2="246.6" y2="651.5" stroke="#111" stroke-width="1.1"/>
<line x1="176.9" x2="179.7" y1="651.5" y2="651.5" stroke="#111" stroke-width="0.8"/>
<text x="174.3" y="653.7" font-size="6.3" fill="#111" text-anchor="end" >20</text>
<line x1="176.9" x2="179.7" y1="626.2" y2="626.2" stroke="#111" stroke-width="0.8"/>
<text x="174.3" y="628.4000000000001" font-size="6.3" fill="#111" text-anchor="end" >30</text>
<line x1="176.9" x2="179.7" y1="600.9" y2="600.9" stroke="#111" stroke-width="0.8"/>
<text x="174.3" y="603.1" font-size="6.3" fill="#111" text-anchor="end" >40</text>
<line x1="176.9" x2="179.7" y1="575.6" y2="575.6" stroke="#111" stroke-width="0.8"/>
<text x="174.3" y="577.8000000000001" font-size="6.3" fill="#111" text-anchor="end" >50</text>
<line x1="198.8" x2="198.8" y1="651.5" y2="654.3" stroke="#111" stroke-width="0.8"/>
<line x1="227.7" x2="227.7" y1="651.5" y2="654.3" stroke="#111" stroke-width="0.8"/>
<text x="187.3" y="663.9" font-size="6.4" fill="#111" font-style="italic" textLength="23" lengthAdjust="spacingAndGlyphs" >grna+/+</text>
<text x="218" y="663.9" font-size="6.4" fill="#111" font-style="italic" textLength="19" lengthAdjust="spacingAndGlyphs" >grna-/-</text>
<path d="M199.5,592.1 L199.5,595.5 M199.5,593.8 L228.4,593.8 M228.4,592.1 L228.4,595.5" stroke="#111" stroke-width="1.0" fill="none"/>
<text x="214.2" y="587.8" font-size="4.6" fill="#111" text-anchor="middle" >ns</text>
<line x1="189.6" y1="623.67" x2="208" y2="623.67" stroke="#111" stroke-width="1.3"/>
<line x1="218.5" y1="619.875" x2="237" y2="619.875" stroke="#111" stroke-width="1.3"/>
<circle cx="198.8" cy="608.5" r="1.55" fill="#e0861a"/>
<circle cx="198.8" cy="616.1" r="1.55" fill="#e0861a"/>
<circle cx="192.6" cy="623.7" r="1.55" fill="#e0861a"/>
<circle cx="205" cy="623.7" r="1.55" fill="#e0861a"/>
<circle cx="198.8" cy="626.2" r="1.55" fill="#e0861a"/>
<circle cx="198.8" cy="631.3" r="1.55" fill="#e0861a"/>
<rect x="229.2" y="607.0" width="3" height="3" fill="#4f9fe0"/>
<rect x="223.2" y="609.5" width="3" height="3" fill="#4f9fe0"/>
<rect x="229.2" y="617.1" width="3" height="3" fill="#4f9fe0"/>
<rect x="223.2" y="619.6" width="3" height="3" fill="#4f9fe0"/>
<rect x="223.2" y="627.2" width="3" height="3" fill="#4f9fe0"/>
<rect x="229.2" y="627.2" width="3" height="3" fill="#4f9fe0"/>
<text transform="translate(160.2,612) rotate(-90)" font-size="7.4" text-anchor="middle" fill="#000" stroke="#000" stroke-width="0.2" textLength="40" lengthAdjust="spacingAndGlyphs">Hematocrit (%)</text>
<rect x="0" y="0" width="520" height="1.1" fill="#000"/><rect x="0" y="0" width="1.1" height="673" fill="#000"/><rect x="518.7" y="0" width="1.3" height="673" fill="#000"/><rect x="0" y="671.4" width="520" height="1.6" fill="#000"/></svg>
</body></html>
